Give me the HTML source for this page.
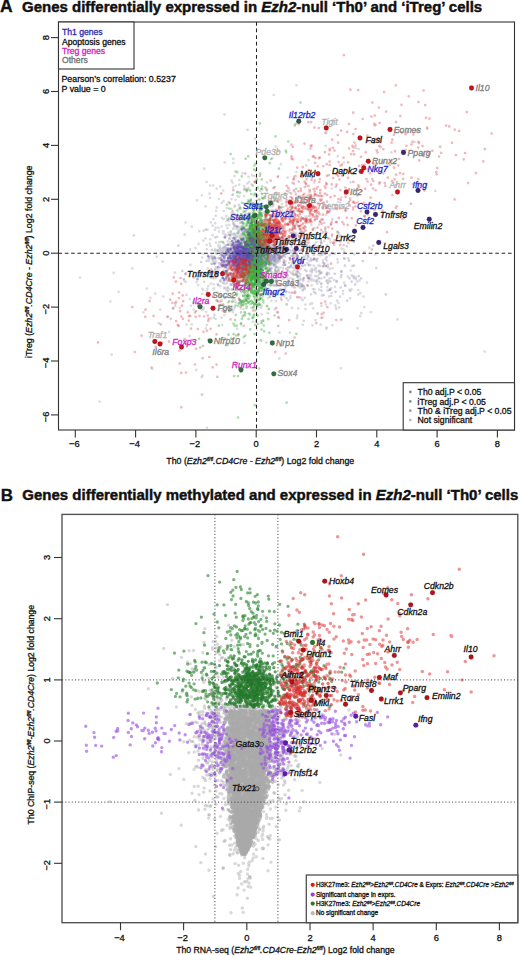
<!DOCTYPE html><html><head><meta charset="utf-8"><style>html,body{margin:0;padding:0;background:#fff;overflow:hidden}svg{display:block}text{font-family:"Liberation Sans",sans-serif;stroke-width:0.3px}</style></head><body><svg width="520" height="955" viewBox="0 0 520 955" font-family="Liberation Sans, sans-serif">
<rect width="520" height="955" fill="#fff"/>
<text x="0" y="12.2" font-size="17.5" font-weight="bold" fill="#111" stroke="#111">A</text>
<text x="22" y="11.7" font-size="15" font-weight="bold" style="stroke-width:0.45px" fill="#111" stroke="#111">Genes differentially expressed in <tspan font-style="italic">Ezh2</tspan>-null ‘Th0’ and ‘iTreg’ cells</text>
<text x="0.8" y="500.5" font-size="17" font-weight="bold" fill="#111" stroke="#111">B</text>
<text x="22.3" y="500.3" font-size="15" font-weight="bold" style="stroke-width:0.45px" fill="#111" stroke="#111">Genes differentially methylated and expressed in <tspan font-style="italic">Ezh2</tspan>-null ‘Th0’ cells</text>
<path d="M270.1 269.1h0M293.2 251.8h0M260.1 239.5h0M239.2 273.6h0M259.6 264.3h0M234.8 300.3h0M228.6 253.3h0M258.0 223.1h0M319.0 224.6h0M266.9 247.1h0M246.0 249.8h0M255.3 234.1h0M224.0 279.4h0M252.5 286.0h0M331.2 296.0h0M237.6 192.2h0M319.2 289.5h0M325.2 234.9h0M362.6 170.1h0M249.0 229.5h0M201.7 377.1h0M240.8 259.2h0M266.1 216.5h0M277.8 273.6h0M287.7 278.6h0M258.3 244.4h0M300.3 287.7h0M216.3 275.9h0M247.3 183.5h0M299.5 226.7h0M268.0 293.6h0M236.8 250.4h0M271.3 255.2h0M253.8 254.8h0M312.0 280.6h0M189.6 336.1h0M305.4 309.1h0M254.9 259.8h0M206.9 427.9h0M219.2 247.7h0M304.7 257.5h0M241.4 233.8h0M244.2 276.3h0M226.8 248.7h0M318.7 278.4h0M260.2 231.1h0M291.9 250.5h0M236.1 251.7h0M316.2 281.5h0M288.6 267.4h0M235.2 269.2h0M167.7 317.1h0M232.9 283.9h0M259.8 288.2h0M244.5 342.9h0M229.1 256.6h0M228.3 255.7h0M247.5 257.7h0M298.0 257.5h0M223.5 251.3h0M352.3 266.1h0M332.3 252.9h0M248.8 276.0h0M243.9 249.6h0M295.0 191.8h0M217.5 292.5h0M241.0 265.6h0M266.0 272.6h0M236.2 265.4h0M234.5 245.7h0M265.0 237.7h0M211.5 263.8h0M239.6 257.7h0M296.1 222.0h0M341.3 271.7h0M254.2 253.2h0M238.4 284.1h0M110.4 301.5h0M263.6 255.5h0M391.3 152.4h0M242.8 261.1h0M275.4 248.8h0M223.2 190.5h0M248.5 268.4h0M245.3 223.8h0M235.0 238.1h0M237.3 249.0h0M309.7 247.0h0M296.4 85.3h0M281.6 247.7h0M306.2 253.5h0M263.6 250.0h0M231.3 245.8h0M240.6 256.3h0M284.1 262.8h0M358.6 149.0h0M245.7 267.2h0M340.8 368.3h0M265.4 226.1h0M260.2 248.0h0M270.1 248.9h0M241.0 253.0h0M282.0 228.0h0M224.7 234.7h0M261.3 264.5h0M256.0 229.0h0M244.1 196.0h0M266.4 231.6h0M218.1 245.4h0M299.0 217.1h0M243.8 276.8h0M234.9 301.7h0M318.5 254.5h0M234.4 226.9h0M228.0 280.3h0M255.6 275.9h0M276.3 271.1h0M266.9 190.7h0M234.3 264.8h0M203.3 240.6h0M206.8 325.0h0M222.4 262.5h0M246.1 263.0h0M246.1 253.4h0M245.8 280.4h0M203.2 289.8h0M285.3 217.6h0M240.3 246.6h0M252.1 257.6h0M277.4 214.7h0M245.3 282.3h0M261.8 277.4h0M253.3 257.3h0M247.7 230.8h0M233.6 299.2h0M289.6 267.6h0M238.0 217.2h0M195.4 248.0h0M301.7 248.5h0M290.9 223.1h0M260.3 258.0h0M333.2 170.8h0M250.4 263.4h0M247.5 262.9h0M211.6 258.0h0M305.7 255.1h0M267.5 271.9h0M241.0 234.9h0M296.4 234.9h0M227.9 278.0h0M282.8 197.0h0M241.4 246.2h0M251.8 276.1h0M227.4 266.2h0M269.3 221.2h0M254.3 271.3h0M301.3 285.2h0M231.2 284.5h0M284.1 296.3h0M225.8 250.1h0M278.1 257.3h0M271.6 285.2h0M238.7 249.9h0M281.9 276.7h0M205.6 206.4h0M321.3 278.5h0M229.8 274.2h0M311.8 278.9h0M297.6 271.7h0M262.0 251.6h0M251.9 278.1h0M267.2 262.5h0M321.4 283.3h0M203.6 309.2h0M269.4 244.2h0M290.7 252.3h0M244.9 249.1h0M260.6 271.9h0M274.8 264.7h0M249.4 214.7h0M260.7 256.3h0M273.7 256.8h0M257.8 243.2h0M240.0 280.4h0M202.4 257.5h0M254.0 234.7h0M284.9 193.2h0M241.7 251.0h0M246.0 210.9h0M234.2 249.5h0M296.7 274.1h0M236.9 278.8h0M272.1 262.6h0M256.3 228.9h0M268.7 242.0h0M263.3 320.8h0M258.8 235.6h0M213.4 219.0h0M236.6 249.5h0M254.3 264.2h0M255.5 246.4h0M263.3 237.3h0M225.2 273.9h0M293.7 257.6h0M278.6 260.5h0M230.0 273.7h0M249.0 229.3h0M272.5 227.9h0M259.0 249.2h0M264.7 284.3h0M343.9 162.5h0M259.6 271.8h0M237.2 215.9h0M292.3 198.4h0M210.7 256.8h0M279.9 257.4h0M232.8 252.8h0M337.5 259.4h0M281.8 247.0h0M320.7 324.7h0M261.5 260.4h0M252.6 219.0h0M250.0 271.8h0M290.0 332.7h0M222.2 274.3h0M235.1 250.8h0M211.1 271.3h0M270.8 219.9h0M358.3 294.5h0M273.8 285.6h0M257.4 265.3h0M258.6 236.4h0M330.2 289.7h0M256.2 273.5h0M255.9 256.0h0M302.0 207.9h0M214.0 262.7h0M256.7 272.8h0M218.8 258.7h0M335.4 305.3h0M225.6 272.2h0M282.1 242.6h0M99.5 401.5h0M260.9 235.7h0M318.3 265.6h0M297.1 275.6h0M266.4 269.0h0M244.8 248.2h0M239.0 241.0h0M290.3 266.8h0M280.9 297.6h0M367.0 282.6h0M261.0 220.5h0M263.8 250.3h0M326.6 327.5h0M245.5 273.6h0M246.0 257.0h0M246.3 266.7h0M268.8 281.2h0M268.0 244.1h0M239.7 244.1h0M225.7 271.9h0M203.8 307.5h0M231.6 180.7h0M435.3 190.9h0M239.3 235.9h0M250.0 249.5h0M252.6 217.2h0M294.8 265.8h0M278.2 176.0h0M253.2 252.9h0M235.2 279.1h0M234.1 286.3h0M263.0 277.9h0M249.5 225.9h0M229.1 218.9h0M239.9 247.1h0M232.5 182.6h0M242.8 251.9h0M225.2 265.3h0M231.8 257.5h0M249.1 264.6h0M248.4 220.4h0M298.0 286.2h0M276.6 250.7h0M272.6 272.6h0M219.7 245.9h0M293.1 285.0h0M172.9 308.7h0M292.7 225.9h0M241.0 239.4h0M292.1 197.8h0M245.4 218.8h0M331.9 236.3h0M235.3 237.7h0M269.5 243.5h0M278.7 222.6h0M231.6 249.8h0M243.4 315.1h0M340.9 277.2h0M233.5 260.6h0M227.9 268.0h0M326.9 273.9h0M294.9 266.9h0M243.3 258.5h0M281.8 218.5h0M240.2 277.4h0M252.0 259.8h0M118.6 291.8h0M239.8 252.3h0M290.4 260.0h0M306.3 244.5h0M338.1 232.4h0M226.3 260.9h0M266.4 254.0h0M210.4 277.0h0M355.8 277.6h0M295.1 291.3h0M264.6 260.3h0M277.7 255.6h0M265.4 239.7h0M235.2 255.4h0M213.6 284.3h0M188.6 253.0h0M248.1 290.1h0M275.8 146.6h0M394.9 162.6h0M232.6 276.5h0M215.8 266.8h0M225.4 297.2h0M225.0 247.4h0M321.2 243.2h0M297.6 277.3h0M274.9 260.9h0M274.3 255.1h0M326.4 281.1h0M263.5 255.8h0M253.2 257.5h0M275.9 248.0h0M271.0 248.8h0M255.9 257.5h0M294.1 266.4h0M350.3 291.0h0M262.5 262.0h0M268.6 256.4h0M214.5 314.7h0M325.4 231.0h0M268.8 248.9h0M227.5 228.2h0M243.2 295.9h0M252.6 245.1h0M221.3 250.1h0M314.5 289.4h0M329.6 238.9h0M292.9 268.0h0M169.2 331.9h0M272.3 158.1h0M270.6 219.7h0M225.1 247.8h0M253.8 247.8h0M234.8 255.4h0M278.4 248.8h0M278.4 229.2h0M224.5 260.3h0M239.2 277.6h0M265.1 260.0h0M257.3 261.1h0M258.1 240.6h0M359.5 280.4h0M244.6 230.7h0M245.9 246.5h0M258.6 241.5h0M256.8 269.7h0M222.7 248.6h0M237.2 290.7h0M233.8 274.1h0M253.8 291.2h0M237.5 196.1h0M249.4 213.7h0M269.5 269.2h0M275.6 256.4h0M236.6 247.1h0M281.9 203.8h0M238.7 204.9h0M236.8 248.5h0M235.6 199.8h0M276.5 281.5h0M235.6 302.5h0M231.7 278.2h0M239.3 196.7h0M235.8 254.0h0M269.0 241.7h0M212.7 225.7h0M221.0 260.1h0M321.5 306.0h0M226.8 221.0h0M250.4 264.9h0M202.4 288.8h0M210.0 197.8h0M236.3 275.9h0M261.6 250.9h0M230.7 266.1h0M233.8 214.1h0M255.5 250.6h0M233.9 227.3h0M284.0 289.5h0M243.6 280.7h0M249.4 279.8h0M220.7 255.3h0M246.5 299.7h0M329.8 268.9h0M226.5 225.3h0M222.6 259.9h0M229.9 237.2h0M320.5 255.4h0M242.2 222.2h0M343.6 249.5h0M251.7 202.5h0M342.9 294.0h0M269.2 245.1h0M269.8 222.4h0M235.5 185.8h0M267.0 182.3h0M287.7 248.3h0M222.7 282.7h0M240.9 222.0h0M247.9 200.2h0M216.9 267.7h0M303.8 320.9h0M353.6 278.1h0M299.8 284.5h0M260.6 246.5h0M224.8 261.5h0M335.0 286.8h0M252.3 240.5h0M260.9 321.4h0M240.2 255.7h0M235.8 265.8h0M223.5 281.8h0M277.6 254.5h0M314.7 244.4h0M231.2 217.7h0M354.5 254.4h0M307.1 285.0h0M266.6 227.4h0M255.7 236.6h0M276.0 247.9h0M266.0 231.6h0M288.7 238.2h0M242.3 265.7h0M244.2 279.0h0M267.4 278.9h0M221.7 249.3h0M267.2 247.0h0M274.7 249.9h0M277.9 273.8h0M257.1 224.0h0M292.9 254.2h0M252.4 253.7h0M250.4 238.4h0M222.0 325.1h0M254.2 232.8h0M252.3 249.0h0M229.8 238.6h0M277.6 237.1h0M240.2 246.0h0M254.6 272.2h0M216.5 300.3h0M250.4 277.8h0M250.5 256.6h0M295.7 201.0h0M234.9 253.7h0M224.1 261.6h0M271.6 238.1h0M325.7 145.9h0M293.4 227.2h0M254.6 222.9h0M244.5 269.8h0M303.2 278.8h0M244.0 265.6h0M261.4 263.2h0M150.4 297.8h0M262.9 245.4h0" stroke="#9a9aaa" stroke-opacity="0.36" stroke-width="2.70" stroke-linecap="round" fill="none"/>
<path d="M257.1 230.2h0M211.9 255.8h0M287.0 276.0h0M339.2 236.6h0M269.2 246.8h0M296.2 232.8h0M274.1 198.1h0M337.9 202.0h0M257.0 247.1h0M245.2 246.8h0M305.5 304.6h0M237.9 243.8h0M295.5 207.6h0M296.2 272.3h0M231.5 213.3h0M258.5 246.8h0M268.1 285.0h0M250.1 239.5h0M250.3 240.1h0M261.0 275.3h0M229.1 274.0h0M263.8 253.7h0M276.0 239.3h0M247.7 256.2h0M236.3 235.6h0M274.5 254.0h0M185.6 281.9h0M211.0 276.3h0M239.1 231.2h0M111.7 354.7h0M216.1 274.1h0M240.5 301.8h0M300.8 279.4h0M262.1 270.1h0M290.2 222.3h0M246.3 246.3h0M215.2 223.2h0M270.2 232.1h0M244.8 258.9h0M260.3 257.6h0M297.8 256.1h0M235.7 226.0h0M283.8 245.0h0M270.8 249.5h0M230.7 259.1h0M220.2 248.2h0M258.8 251.3h0M225.4 284.0h0M239.0 217.5h0M246.0 260.0h0M302.8 324.8h0M240.9 251.9h0M241.6 255.0h0M300.3 232.3h0M229.4 238.9h0M251.5 263.2h0M238.7 270.8h0M246.9 275.8h0M272.3 219.6h0M265.3 253.4h0M284.1 248.0h0M308.4 256.3h0M245.9 248.0h0M233.2 222.2h0M298.7 235.3h0M227.7 274.0h0M484.6 351.6h0M242.3 240.9h0M206.1 311.9h0M239.2 268.7h0M224.7 267.0h0M206.7 182.0h0M213.6 256.9h0M193.6 309.5h0M239.1 256.4h0M270.5 210.7h0M273.5 263.3h0M260.8 308.0h0M275.8 231.1h0M230.7 274.3h0M249.9 265.4h0M247.3 250.6h0M325.7 214.9h0M248.8 255.3h0M227.7 291.3h0M242.2 252.0h0M263.4 293.4h0M253.2 285.8h0M333.3 254.0h0M245.4 258.1h0M272.7 212.3h0M249.1 250.4h0M261.9 242.3h0M260.3 253.1h0M268.8 219.8h0M305.8 227.1h0M238.8 248.4h0M304.5 288.8h0M224.1 287.9h0M225.5 255.4h0M204.8 276.0h0M265.5 234.8h0M240.3 290.1h0M306.5 241.8h0M236.9 250.3h0M257.1 255.2h0M271.5 284.7h0M298.9 236.8h0M273.7 239.5h0M252.9 270.8h0M277.9 259.1h0M243.1 259.1h0M240.3 303.2h0M323.0 260.3h0M224.5 257.2h0M226.8 208.1h0M234.4 290.4h0M362.5 222.8h0M280.5 246.3h0M250.9 268.6h0M318.7 271.3h0M273.6 226.4h0M303.7 232.4h0M248.4 237.6h0M237.7 247.6h0M254.7 272.6h0M263.5 265.4h0M260.8 222.4h0M321.6 272.9h0M219.0 305.3h0M189.9 272.8h0M325.0 253.9h0M393.8 211.5h0M244.9 255.6h0M246.2 276.2h0M179.8 307.8h0M237.6 266.8h0M277.3 231.7h0M268.2 267.4h0M236.5 269.4h0M321.5 272.5h0M321.2 242.6h0M283.1 268.3h0M301.2 297.9h0M302.8 262.5h0M259.3 290.2h0M308.5 265.1h0M300.5 242.1h0M158.7 323.1h0M280.8 164.2h0M274.2 285.4h0M297.8 275.8h0M357.6 328.3h0M263.7 251.7h0M262.9 241.0h0M184.7 234.7h0M249.0 289.3h0M226.3 270.8h0M251.5 246.6h0M244.0 250.7h0M249.0 182.1h0M268.7 232.4h0M235.3 214.0h0M216.7 188.6h0M264.5 248.6h0M269.8 294.2h0M236.0 245.7h0M274.8 245.2h0M286.5 291.9h0M220.1 280.8h0M261.0 279.3h0M232.9 280.3h0M260.1 213.2h0M262.7 267.1h0M217.9 250.7h0M238.3 244.4h0M292.9 241.4h0M282.5 218.6h0M270.4 260.5h0M348.0 258.4h0M251.2 262.7h0M329.0 273.7h0M263.8 233.8h0M228.8 252.9h0M155.2 293.6h0M241.4 246.2h0M216.8 207.4h0M327.9 264.7h0M239.8 206.7h0M285.2 249.7h0M223.5 201.2h0M268.2 256.1h0M254.4 229.5h0M243.0 282.1h0M224.1 283.3h0M258.6 221.6h0M280.1 245.2h0M260.8 238.9h0M251.0 274.6h0M210.9 318.5h0M312.9 289.1h0M232.0 259.5h0M251.7 233.8h0M258.2 306.5h0M276.1 239.4h0M232.3 195.0h0M285.0 264.7h0M215.4 249.3h0M246.8 264.0h0M274.0 241.2h0M234.3 224.9h0M274.8 255.3h0M273.3 264.5h0M238.2 261.2h0M239.2 184.7h0M203.4 253.8h0M243.3 268.5h0M230.8 260.6h0M225.4 248.7h0M329.3 281.0h0M241.1 269.7h0M289.0 238.7h0M322.8 203.4h0M175.0 272.7h0M276.1 300.9h0M252.1 267.2h0M251.1 220.5h0M245.9 229.3h0M270.2 206.3h0M261.3 244.0h0M211.2 277.8h0M252.5 218.4h0M295.1 251.9h0M239.2 208.5h0M281.0 208.0h0M302.5 284.8h0M261.7 261.2h0M229.1 259.8h0M227.0 271.1h0M278.2 258.2h0M337.6 232.1h0M221.7 226.5h0M197.0 200.3h0M221.2 241.9h0M278.0 317.4h0M272.1 279.4h0M289.0 262.9h0M243.3 256.2h0M360.1 316.2h0M233.5 265.2h0M236.5 266.9h0M251.9 262.7h0M239.0 253.4h0M227.7 280.4h0M260.3 237.8h0M296.9 254.4h0M281.5 237.4h0M266.9 242.1h0M236.9 235.3h0M268.0 242.5h0M313.9 292.0h0M269.1 288.7h0M317.8 250.4h0M292.4 262.3h0M331.3 288.0h0M245.2 265.3h0M241.5 235.7h0M234.4 176.1h0M269.2 262.3h0M307.3 220.6h0M290.0 232.8h0M275.3 193.6h0M237.9 278.8h0M243.1 247.5h0M191.8 226.7h0M293.9 210.8h0M253.1 233.5h0M319.2 281.8h0M329.2 296.4h0M302.9 289.5h0M223.1 233.0h0M288.5 230.6h0M274.4 250.3h0M261.8 248.7h0M284.8 232.7h0M216.1 242.6h0M234.1 283.7h0M210.2 239.3h0M235.8 258.8h0M243.1 266.2h0M267.8 313.2h0M244.1 229.1h0M320.1 265.8h0M249.5 256.0h0M255.8 242.5h0M260.1 237.9h0M270.8 239.7h0M222.2 255.1h0M227.3 260.6h0M267.4 259.2h0M248.8 234.1h0M240.3 242.7h0M270.1 248.3h0M235.6 248.5h0M238.7 272.1h0M212.7 277.7h0M220.8 255.5h0M156.8 256.7h0M233.9 282.8h0M290.1 215.5h0M223.6 219.0h0M213.9 317.4h0M247.0 250.8h0M266.4 342.6h0M247.7 268.2h0M243.7 238.0h0M237.8 251.0h0M244.4 269.0h0M261.1 267.8h0M231.6 266.8h0M252.7 258.0h0M240.8 257.4h0M311.4 224.8h0M245.6 259.4h0M228.0 250.4h0M240.7 252.0h0M233.0 272.3h0M246.2 251.7h0M257.5 255.1h0M259.4 231.2h0M427.2 128.8h0M347.9 276.5h0M285.4 242.4h0M267.0 233.8h0M293.1 249.7h0M241.9 245.4h0M228.6 202.1h0M252.8 249.4h0M223.1 231.1h0M364.3 307.0h0M254.2 240.1h0M296.0 239.0h0M302.7 286.1h0M234.0 224.8h0M243.6 256.4h0M288.2 282.1h0M231.1 284.8h0M214.2 288.4h0M273.6 235.8h0M245.1 267.4h0M234.8 251.5h0M254.3 268.6h0M263.2 296.5h0M261.9 266.2h0M249.4 276.0h0M274.3 223.4h0M282.0 250.6h0M281.0 200.4h0M267.1 249.6h0M235.0 252.2h0M289.1 211.1h0M210.3 185.5h0M264.3 222.3h0M269.3 258.6h0M324.4 240.9h0M244.7 215.9h0M278.9 206.2h0M283.8 262.3h0M242.7 238.8h0M250.8 274.7h0M260.4 252.7h0M256.8 247.9h0M252.8 259.1h0M220.0 250.9h0M207.4 229.7h0M255.0 250.3h0M264.4 264.5h0M272.5 244.4h0M255.6 254.4h0M263.3 238.7h0M270.4 240.0h0M230.3 310.9h0M250.6 234.5h0M275.2 233.2h0M277.6 243.2h0M283.7 255.4h0M208.8 257.0h0M317.6 313.3h0M344.1 282.7h0M339.1 307.4h0M282.1 210.5h0M252.5 251.7h0M215.6 253.1h0M243.0 271.5h0M236.6 255.4h0M302.9 219.3h0M309.5 198.4h0M270.4 215.4h0M289.4 224.7h0M238.0 280.6h0M244.0 186.0h0M239.5 249.2h0M255.2 253.1h0M258.7 257.6h0M240.6 308.3h0M243.3 253.2h0M330.2 289.2h0M242.0 227.4h0M269.8 262.5h0M212.0 264.2h0M281.4 244.6h0M247.5 245.1h0M242.6 173.3h0M258.5 291.6h0M257.3 277.8h0M219.7 250.2h0M249.9 273.9h0M266.3 264.0h0M245.3 247.4h0M241.5 255.8h0M315.4 320.1h0M247.5 239.5h0M289.2 292.4h0M294.4 240.0h0M275.3 267.6h0M326.9 260.6h0M334.2 280.1h0M248.6 188.1h0M363.4 296.6h0M261.6 314.3h0M290.5 278.0h0M276.6 281.8h0M227.7 241.3h0M249.6 249.5h0M227.3 279.5h0M280.7 267.5h0M332.4 268.3h0M259.9 217.7h0M234.6 206.8h0M261.6 242.3h0M259.9 204.9h0M244.7 250.9h0M243.3 251.4h0M275.2 223.2h0M264.8 252.4h0M228.9 220.6h0M265.3 268.5h0M241.7 250.0h0M306.0 183.5h0M230.0 266.1h0M210.8 222.3h0M257.5 242.5h0M286.0 252.1h0M237.5 220.9h0M213.5 288.9h0M240.2 285.4h0M271.7 238.3h0M292.6 230.2h0M229.9 256.8h0M291.1 265.6h0M235.3 267.1h0M349.3 289.8h0M262.3 241.8h0M247.4 246.5h0M250.9 277.9h0M316.1 271.8h0M223.7 231.4h0M228.6 264.7h0M233.0 187.5h0M277.3 223.6h0M223.0 247.8h0M272.8 228.6h0M252.7 321.8h0M245.1 264.6h0M191.7 324.4h0M240.7 250.8h0M201.9 195.5h0M271.4 201.1h0M333.6 209.3h0M260.7 256.0h0M239.3 180.1h0M337.2 237.8h0M282.7 290.5h0" stroke="#9a9aaa" stroke-opacity="0.36" stroke-width="2.70" stroke-linecap="round" fill="none"/>
<path d="M233.2 223.5h0M309.4 278.5h0M301.3 286.7h0M257.9 240.3h0M345.0 285.5h0M261.5 237.8h0M268.1 281.8h0M241.0 271.3h0M235.4 251.4h0M249.1 243.0h0M337.8 156.2h0M303.5 256.8h0M262.9 262.8h0M252.6 264.2h0M233.8 270.9h0M231.4 263.6h0M278.9 269.5h0M241.6 214.5h0M270.6 232.6h0M249.5 255.4h0M255.9 194.3h0M276.8 254.1h0M255.4 250.2h0M256.1 239.3h0M216.6 250.5h0M233.8 259.3h0M224.8 162.4h0M202.2 309.8h0M280.1 289.5h0M294.7 214.7h0M275.6 248.7h0M245.8 242.4h0M247.3 258.0h0M258.7 238.0h0M261.7 260.2h0M336.5 281.1h0M263.2 251.8h0M260.8 265.9h0M340.0 296.7h0M259.4 250.8h0M272.6 206.5h0M259.9 257.8h0M163.3 296.5h0M261.5 274.1h0M254.0 236.7h0M263.7 249.7h0M338.8 233.4h0M292.8 273.2h0M281.2 247.5h0M233.0 247.8h0M251.3 225.7h0M248.5 244.6h0M276.8 285.2h0M247.7 261.9h0M252.2 175.2h0M264.8 261.2h0M235.5 284.3h0M226.7 265.7h0M209.5 193.7h0M287.5 177.7h0M336.0 307.9h0M259.8 268.9h0M225.8 279.2h0M226.8 254.3h0M274.6 309.4h0M258.2 249.2h0M237.2 258.1h0M263.4 262.5h0M272.4 250.6h0M205.5 238.3h0M320.0 221.3h0M284.8 239.4h0M241.2 265.1h0M316.8 215.1h0M302.0 261.9h0M225.7 245.3h0M248.1 287.6h0M242.5 244.4h0M279.8 254.9h0M272.2 279.2h0M257.3 258.3h0M280.6 346.0h0M241.2 257.4h0M256.4 248.5h0M223.8 243.3h0M222.2 253.5h0M228.5 244.6h0M272.8 210.1h0M250.6 235.9h0M244.8 258.2h0M210.5 245.9h0M275.7 252.2h0M267.5 233.9h0M283.0 256.1h0M248.4 257.6h0M243.8 243.0h0M309.0 275.1h0M292.8 263.2h0M261.7 264.3h0M241.5 275.9h0M259.7 271.2h0M261.9 283.7h0M227.6 257.8h0M237.0 248.8h0M233.0 312.2h0M279.9 225.3h0M279.7 241.7h0M268.0 231.8h0M256.9 257.0h0M246.0 255.2h0M393.3 212.5h0M235.7 220.9h0M307.2 245.4h0M240.8 240.5h0M266.3 234.6h0M224.0 297.2h0M256.4 240.2h0M237.7 259.2h0M243.6 251.4h0M286.7 272.8h0M244.0 233.1h0M244.5 238.0h0M184.2 280.4h0M350.7 270.5h0M341.4 197.5h0M319.9 273.5h0M228.0 287.2h0M238.7 231.1h0M310.2 304.2h0M234.0 257.2h0M251.3 260.9h0M260.2 246.7h0M243.0 229.2h0M223.7 211.0h0M350.4 182.3h0M290.4 214.0h0M252.5 245.6h0M293.7 232.1h0M251.5 276.6h0M240.5 241.1h0M255.2 261.2h0M275.4 278.0h0M310.4 260.9h0M269.9 236.4h0M311.9 272.5h0M312.5 325.3h0M217.3 236.8h0M319.3 274.4h0M262.8 275.8h0M301.9 266.1h0M287.1 271.9h0M246.0 249.7h0M242.4 302.7h0M326.2 265.9h0M229.5 267.0h0M263.7 261.6h0M262.1 251.0h0M270.4 281.3h0M291.6 208.0h0M218.6 227.9h0M273.8 235.8h0M271.4 218.3h0M258.9 304.9h0M266.8 293.3h0M226.4 271.7h0M256.9 268.9h0M255.2 262.1h0M297.2 258.0h0M257.7 281.3h0M311.1 294.4h0M329.6 255.3h0M208.9 259.2h0M228.0 302.4h0M249.7 252.9h0M293.9 254.2h0M132.3 268.4h0M314.2 196.5h0M321.3 284.0h0M232.6 250.2h0M255.4 240.6h0M253.3 254.6h0M229.3 278.6h0M292.6 283.6h0M254.8 266.1h0M263.1 228.8h0M291.4 273.3h0M308.5 160.0h0M245.8 287.2h0M267.1 253.5h0M269.3 247.2h0M264.2 212.1h0M246.7 269.1h0M286.6 238.8h0M243.8 280.7h0M241.2 239.8h0M292.6 279.0h0M327.9 282.7h0M254.3 275.1h0M292.4 182.7h0M227.3 296.6h0M253.4 268.4h0M255.5 257.8h0M238.4 243.5h0M237.7 257.8h0M244.3 257.2h0M357.2 281.7h0M201.3 308.7h0M266.4 218.8h0M295.3 251.6h0M241.6 242.4h0M243.9 274.6h0M240.9 275.0h0M249.1 235.0h0M309.6 260.9h0M202.5 375.5h0M241.6 259.8h0M160.2 309.6h0M255.8 248.4h0M186.5 294.9h0M325.8 304.4h0M284.9 236.9h0M205.9 328.4h0M232.5 219.9h0M248.0 246.7h0M255.0 235.8h0M361.3 313.2h0M261.6 305.9h0M247.5 129.9h0M215.8 227.5h0M261.1 237.0h0M259.5 261.7h0M295.9 206.5h0M261.9 255.8h0M253.1 238.9h0M220.5 267.4h0M239.8 216.8h0M237.2 328.7h0M265.2 238.7h0M327.2 280.4h0M215.2 270.2h0M344.2 258.5h0M190.5 264.9h0M311.8 252.6h0M250.7 273.9h0M248.8 285.9h0M281.8 213.3h0M204.2 168.7h0M248.6 239.5h0M189.7 299.1h0M233.8 259.7h0M243.7 255.2h0M271.3 201.2h0M257.7 274.4h0M274.7 292.8h0M259.7 260.7h0M244.8 229.9h0M229.5 289.3h0M264.4 240.0h0M246.8 236.3h0M304.9 269.8h0M230.0 255.5h0M175.3 305.8h0M229.3 224.8h0M245.0 218.5h0M254.3 263.9h0M300.1 283.0h0M230.8 250.7h0M253.6 203.3h0M247.3 232.4h0M263.9 249.7h0M262.7 281.1h0M265.6 225.4h0M231.7 257.7h0M266.6 258.2h0M200.8 274.9h0M240.4 244.9h0M298.2 308.4h0M230.1 258.3h0M253.4 253.5h0M279.3 248.5h0M255.4 285.1h0M213.9 278.4h0M233.3 163.0h0M264.2 196.6h0M330.7 281.5h0M304.3 231.7h0M209.2 261.0h0M233.9 218.9h0M296.6 275.0h0M224.0 273.8h0M255.3 240.5h0M249.5 202.7h0M320.8 318.0h0M269.5 225.8h0M223.1 262.6h0M278.7 238.9h0M331.7 278.0h0M236.5 278.1h0M230.3 241.9h0M257.6 256.1h0M226.1 271.1h0M256.3 238.1h0M258.3 254.6h0M283.5 239.4h0M221.8 203.0h0M232.0 301.8h0M304.1 218.5h0M250.9 280.3h0M259.0 232.0h0M244.8 236.2h0M231.0 248.5h0M233.7 276.9h0M253.7 264.5h0M236.3 262.2h0M214.9 250.8h0M266.3 224.0h0M277.1 252.8h0M276.9 312.1h0M253.4 307.3h0M216.1 272.0h0M268.9 253.1h0M254.0 195.3h0M228.5 232.8h0M208.3 286.0h0M273.9 243.0h0M243.8 235.0h0M245.3 273.3h0M248.7 254.7h0M233.7 285.1h0M293.4 271.3h0M287.4 237.9h0M234.0 242.8h0M285.0 274.6h0M241.8 290.3h0M249.7 264.7h0M281.1 226.6h0M280.6 257.1h0M244.5 303.3h0M281.1 225.7h0M261.1 284.3h0M309.6 198.8h0M260.0 239.2h0M327.2 287.1h0M236.2 241.2h0M204.2 281.9h0M227.0 272.8h0M314.3 280.4h0M249.4 270.1h0M243.5 256.5h0M252.5 235.9h0M258.9 245.1h0M266.8 264.4h0M215.0 229.8h0M240.6 250.4h0M277.8 232.8h0M260.1 270.4h0M341.0 320.1h0M254.9 260.7h0M254.7 257.8h0M273.1 222.7h0M303.4 250.5h0M229.4 255.6h0M213.8 258.6h0M305.1 238.0h0M251.8 223.2h0M231.4 235.0h0M279.5 257.6h0M299.9 260.1h0M248.6 234.0h0M277.9 252.1h0M269.4 278.7h0M209.8 243.6h0M235.1 250.0h0M321.4 243.1h0M286.9 285.9h0M248.8 247.8h0M244.9 254.5h0M293.6 226.2h0M238.5 273.6h0M221.1 296.4h0M256.7 229.4h0M233.3 158.9h0M313.7 270.0h0M234.6 267.5h0M307.6 239.0h0M244.8 257.8h0M277.8 223.5h0M246.5 254.3h0M248.4 298.8h0M212.4 271.0h0M225.4 262.6h0M206.6 245.0h0M284.7 251.4h0M280.0 232.6h0M235.8 258.9h0M297.0 318.2h0M336.4 308.9h0M269.8 249.2h0M307.7 249.2h0M220.2 286.2h0M275.7 281.0h0M332.5 325.2h0M232.0 306.3h0M270.5 240.8h0M228.0 287.4h0M255.6 262.1h0M251.2 216.8h0M206.8 249.3h0M305.3 243.3h0M242.7 252.0h0M252.9 230.1h0M248.9 255.5h0M249.9 289.3h0M264.0 222.4h0M280.7 240.0h0M305.2 243.7h0M317.3 276.0h0M257.8 266.2h0M246.6 238.4h0M216.0 277.9h0M358.3 290.0h0M246.3 279.0h0M397.4 319.4h0M298.0 281.2h0M226.3 216.2h0M228.2 263.5h0M269.3 235.8h0M228.7 260.9h0M331.5 293.1h0M252.3 277.3h0M249.3 252.6h0M277.4 237.5h0M306.6 185.9h0M294.5 269.8h0M213.3 185.5h0M224.3 315.2h0M259.6 224.2h0M234.9 205.7h0M253.4 217.0h0M269.3 264.8h0M246.7 270.9h0M321.3 286.9h0M253.7 253.0h0M236.2 261.1h0M360.3 293.2h0M266.8 268.6h0M232.6 258.0h0M265.0 237.2h0M248.4 229.6h0M248.1 259.7h0M282.9 279.1h0M249.3 257.6h0M248.7 249.9h0M260.3 260.9h0M273.8 95.0h0M311.6 285.4h0M298.7 286.1h0M276.7 232.2h0M235.7 241.3h0M266.8 242.2h0M250.9 200.8h0M257.7 246.7h0M193.3 302.4h0M259.6 280.5h0M338.5 302.8h0M256.8 272.8h0M249.3 239.9h0M214.4 256.8h0M244.1 220.0h0M215.4 259.9h0M236.0 271.7h0M238.8 302.8h0M249.1 239.3h0M210.7 283.6h0M256.2 255.3h0M315.9 259.7h0M261.6 240.0h0M258.7 233.5h0M279.3 358.4h0M270.7 259.5h0M367.9 214.7h0M326.3 328.6h0M243.8 232.0h0" stroke="#9a9aaa" stroke-opacity="0.36" stroke-width="2.70" stroke-linecap="round" fill="none"/>
<path d="M246.7 248.8h0M270.3 227.3h0M250.0 246.3h0M295.1 250.6h0M231.5 199.1h0M198.5 243.8h0M207.4 288.7h0M215.4 262.6h0M258.0 273.0h0M251.1 258.1h0M258.4 240.4h0M314.6 228.1h0M297.7 256.5h0M243.2 275.1h0M330.4 241.5h0M229.2 311.3h0M285.5 261.5h0M254.2 283.8h0M256.8 249.2h0M246.7 274.2h0M305.6 216.6h0M337.1 300.7h0M270.0 251.1h0M246.3 277.8h0M256.7 220.0h0M231.2 244.9h0M279.9 233.8h0M293.4 235.9h0M234.5 224.8h0M199.3 231.2h0M341.4 319.3h0M191.0 305.8h0M301.2 232.7h0M295.4 292.9h0M246.1 260.2h0M288.3 300.5h0M278.3 267.3h0M238.0 229.3h0M216.2 261.9h0M241.2 253.0h0M239.6 261.3h0M240.7 248.3h0M234.5 236.3h0M196.2 369.9h0M253.9 251.3h0M225.0 288.0h0M301.3 217.7h0M260.4 287.4h0M228.2 276.6h0M272.8 250.5h0M268.5 211.9h0M284.7 290.0h0M238.8 297.9h0M241.8 239.9h0M268.6 254.5h0M230.9 255.4h0M236.8 289.4h0M248.3 214.0h0M234.1 267.0h0M245.4 211.7h0M321.0 246.2h0M162.7 261.5h0M231.0 260.9h0M220.2 264.5h0M240.0 253.4h0M355.8 279.2h0M287.1 271.9h0M313.7 250.6h0M257.2 223.6h0M289.0 192.2h0M239.1 252.5h0M259.0 262.9h0M331.9 188.5h0M317.7 313.9h0M291.9 307.9h0M282.3 241.4h0M280.7 289.4h0M285.3 287.6h0M198.1 285.2h0M271.1 251.6h0M247.6 214.3h0M240.2 281.4h0M254.9 262.2h0M275.4 294.4h0M287.5 202.4h0M233.5 309.7h0M242.1 250.3h0M212.4 307.3h0M262.1 207.2h0M305.9 248.3h0M281.4 218.2h0M250.5 242.5h0M227.2 288.0h0M272.5 236.2h0M234.8 260.1h0M239.2 246.8h0M295.0 260.8h0M370.9 312.1h0M239.4 226.7h0M260.7 229.1h0M252.4 248.6h0M260.3 244.2h0M271.6 215.8h0M238.9 233.3h0M202.3 293.9h0M286.6 250.8h0M224.3 247.0h0M238.5 227.7h0M225.4 246.6h0M265.3 242.0h0M282.8 241.6h0M255.2 281.4h0M319.2 278.0h0M252.6 248.2h0M351.5 289.4h0M277.6 268.5h0M246.8 296.2h0M326.5 132.3h0M258.4 237.4h0M303.0 242.0h0M263.2 260.9h0M268.4 256.2h0M259.7 296.6h0M245.6 229.6h0M254.4 255.2h0M229.2 278.1h0M218.7 258.0h0M245.6 254.1h0M300.4 274.4h0M215.7 215.8h0M226.5 264.4h0M288.2 280.8h0M226.1 235.1h0M273.3 282.1h0M296.9 253.8h0M296.6 210.6h0M308.4 281.5h0M254.2 248.6h0M264.3 234.0h0M234.2 275.3h0M248.4 231.8h0M219.0 231.6h0M290.3 271.8h0M218.9 199.0h0M203.5 230.7h0M268.5 256.0h0M250.6 276.6h0M224.3 253.6h0M265.9 217.2h0M282.7 247.8h0M235.6 242.6h0M311.0 275.7h0M221.8 217.9h0M294.9 233.9h0M272.7 235.2h0M201.3 307.0h0M316.2 242.2h0M270.9 272.6h0M276.0 250.6h0M250.9 249.2h0M244.8 241.9h0M284.8 264.8h0M146.8 288.6h0M264.7 250.9h0M216.2 210.8h0M225.5 237.6h0M265.9 277.2h0M225.0 260.6h0M230.6 284.4h0M228.8 218.1h0M276.8 200.9h0M229.9 244.2h0M215.4 268.9h0M258.6 269.6h0M248.2 262.5h0M261.6 294.8h0M301.1 244.3h0M266.3 247.6h0M223.4 261.8h0M258.3 242.5h0M278.6 256.4h0M253.8 262.5h0M337.2 231.5h0M207.7 268.5h0M254.9 275.6h0M308.5 277.4h0M247.7 234.7h0M277.9 224.0h0M260.1 262.7h0M343.1 291.1h0M186.6 324.6h0M259.1 264.2h0M300.1 241.4h0M240.7 250.1h0M250.2 250.3h0M252.9 248.2h0M246.4 234.1h0M152.3 368.8h0M268.2 298.1h0M271.2 300.8h0M240.1 253.6h0M80.0 277.5h0M245.5 240.6h0M231.0 297.4h0M220.8 280.1h0M234.0 237.5h0M217.7 275.9h0M240.0 223.0h0M237.6 255.4h0M246.2 277.1h0M257.5 256.4h0M291.9 239.0h0M293.6 222.5h0M217.7 284.3h0M254.8 216.4h0M259.3 262.1h0M244.6 273.4h0M253.8 254.7h0M258.3 231.9h0M252.3 227.3h0M294.2 234.1h0M265.9 254.9h0M255.0 138.7h0M320.9 241.0h0M247.7 189.6h0M257.7 256.1h0M243.5 226.4h0M309.0 278.0h0M284.7 254.1h0M226.8 290.4h0M241.8 240.2h0M224.0 264.3h0M329.4 278.4h0M290.6 296.2h0M341.4 248.6h0M325.2 253.6h0M247.0 255.4h0M234.7 258.4h0M258.9 228.0h0M265.0 248.6h0M216.9 253.8h0M262.3 189.4h0M223.0 271.8h0M314.1 259.0h0M243.0 236.0h0M310.1 279.6h0M261.1 234.5h0M266.7 220.8h0M278.8 237.3h0M255.4 244.9h0M283.4 207.1h0M233.1 229.1h0M260.2 244.4h0M226.7 235.7h0M236.5 243.8h0M219.0 309.4h0M303.3 218.4h0M265.4 254.0h0M325.4 258.9h0M241.7 249.8h0M252.0 291.7h0M251.5 253.9h0M262.4 243.8h0M252.4 274.0h0M251.5 184.3h0M243.9 236.7h0M231.2 233.6h0M258.5 255.1h0M246.9 264.8h0M244.5 218.0h0M218.5 270.0h0M296.8 257.8h0M248.5 222.8h0M369.4 247.7h0M324.2 263.5h0M313.1 308.3h0M225.9 289.3h0M275.8 274.4h0M212.6 235.2h0M248.3 251.5h0M222.9 257.9h0M304.6 288.2h0M292.3 286.6h0M227.7 255.0h0M317.9 246.3h0M276.8 262.1h0M314.2 182.7h0M255.7 264.5h0M276.4 259.8h0M263.1 256.4h0M253.1 237.2h0M239.9 270.4h0M301.8 284.2h0M254.9 249.2h0M356.0 148.0h0M222.8 266.7h0M247.5 272.8h0M246.2 253.3h0M241.9 253.1h0M252.2 219.4h0M254.7 257.7h0M265.5 252.8h0M250.6 278.2h0M313.7 265.5h0M277.7 250.5h0M262.1 250.1h0M267.9 260.6h0M231.7 248.7h0M270.3 246.2h0M244.7 215.3h0M247.7 239.2h0M265.5 261.0h0M260.2 252.9h0M255.2 258.3h0M185.6 222.5h0M190.2 249.4h0M275.2 226.0h0M207.6 273.4h0M306.2 165.3h0M235.7 262.8h0M201.3 306.3h0M233.0 194.5h0M277.8 262.3h0M204.0 274.8h0M239.1 253.6h0M251.9 253.8h0M414.5 142.0h0M271.0 269.4h0M242.8 281.6h0M236.8 268.3h0M317.7 216.8h0M245.3 246.6h0M224.4 114.3h0M267.7 243.1h0M210.5 272.5h0M299.4 279.5h0M245.9 278.1h0M254.4 176.0h0M234.5 276.9h0M244.9 292.9h0M279.5 332.5h0M236.9 248.2h0M241.6 258.1h0M220.3 186.5h0M225.3 280.0h0M252.7 243.1h0M307.4 263.2h0M113.7 272.8h0M269.4 248.1h0M215.6 319.0h0M233.6 254.1h0M235.8 284.3h0M266.2 277.7h0M302.8 290.4h0M375.3 254.4h0M254.0 228.8h0M244.9 247.1h0M279.9 261.2h0M255.3 264.6h0M290.1 221.4h0M258.3 222.4h0M227.5 273.5h0M306.4 196.6h0M260.1 191.0h0M236.6 251.2h0M250.0 249.2h0M326.8 245.2h0M315.8 269.5h0M254.4 251.5h0M335.3 242.5h0M244.2 247.8h0M245.5 313.6h0M242.5 262.6h0M243.5 309.1h0M258.1 231.9h0M242.3 251.0h0M276.5 267.0h0M269.4 270.6h0M223.3 250.6h0M254.7 224.3h0M256.7 261.5h0M291.1 265.6h0M219.3 242.3h0M321.8 295.4h0M288.4 267.2h0M250.7 204.0h0M264.9 265.5h0M246.7 245.1h0M302.7 266.0h0M249.0 253.6h0M299.9 276.3h0M306.2 239.8h0M272.9 203.3h0M251.4 307.9h0M243.2 232.1h0M249.8 226.2h0M258.9 249.4h0M296.8 215.5h0M213.0 261.6h0M327.8 283.4h0M238.8 255.4h0M236.5 228.8h0M231.5 209.2h0M275.2 281.2h0M236.3 244.2h0M225.1 298.2h0M278.7 283.6h0M282.4 237.6h0M232.7 238.0h0M277.0 217.2h0M233.6 243.2h0M234.9 264.6h0M289.4 190.2h0M206.7 291.4h0M203.1 276.4h0M265.1 196.9h0M221.4 317.6h0M221.8 300.2h0M282.2 274.7h0M241.2 226.4h0M227.0 282.7h0M330.4 242.4h0M274.5 227.7h0M251.4 277.9h0M304.8 297.8h0M245.0 188.2h0M286.1 214.4h0M251.6 262.5h0M262.6 259.3h0M350.1 298.2h0M143.4 312.4h0M232.2 218.8h0M245.4 250.9h0M266.5 253.8h0M239.8 257.9h0M266.2 260.9h0M264.2 242.3h0M266.3 257.2h0M297.3 315.7h0M276.0 198.9h0M243.9 234.4h0M254.9 268.4h0M312.2 303.4h0M311.8 268.7h0M254.2 253.2h0M251.3 212.5h0M290.8 267.0h0M265.2 260.9h0M258.9 249.3h0M330.7 303.3h0M275.0 247.1h0M256.5 241.7h0M255.1 293.4h0M260.1 256.3h0M221.9 300.9h0M196.6 282.1h0M262.6 269.7h0M270.7 250.6h0M244.2 203.4h0M229.6 262.4h0M290.3 298.2h0M296.4 172.1h0M271.5 223.9h0M220.2 281.2h0M227.3 289.9h0M253.9 240.1h0M317.2 283.7h0M258.8 232.6h0M288.0 275.6h0M304.3 246.6h0M247.9 252.6h0M245.7 245.0h0M241.3 256.8h0M239.6 237.6h0M248.0 228.6h0M237.4 237.0h0M224.8 311.4h0M258.3 218.0h0M248.5 176.9h0M306.7 216.9h0M299.5 228.5h0M243.1 300.2h0M246.0 214.1h0" stroke="#9a9aaa" stroke-opacity="0.36" stroke-width="2.70" stroke-linecap="round" fill="none"/>
<path d="M257.2 276.0h0M235.3 239.6h0M244.6 258.1h0M252.8 249.2h0M249.7 265.5h0M261.5 245.1h0M263.0 246.7h0M251.1 236.5h0M246.6 189.8h0M248.0 259.9h0M258.5 263.0h0M256.6 219.3h0M265.0 234.1h0M251.4 232.1h0M260.6 243.4h0M258.4 231.1h0M248.9 213.9h0M250.4 226.2h0M262.8 263.3h0M262.0 232.4h0M252.1 246.6h0M255.7 249.9h0M252.7 255.4h0M244.0 242.1h0M245.7 283.2h0M263.1 198.4h0M240.2 266.7h0M256.3 255.4h0M253.2 265.4h0M250.6 268.1h0M257.5 254.8h0M248.4 221.7h0M256.6 291.8h0M261.5 255.3h0M256.7 226.9h0M263.6 249.3h0M258.1 255.0h0M260.5 256.5h0M260.5 271.7h0M256.4 256.0h0M253.5 246.3h0M250.6 281.9h0M258.2 264.1h0M257.4 253.2h0M260.1 257.5h0M256.7 266.8h0M252.6 225.9h0M252.4 265.1h0M263.4 261.4h0M249.1 221.0h0M245.2 271.8h0M251.5 221.2h0M256.8 259.7h0M264.4 240.8h0M256.3 269.0h0M252.9 203.8h0M252.1 249.5h0M247.3 249.1h0M250.9 259.3h0M258.7 239.6h0M251.0 263.0h0M264.2 246.2h0M253.9 251.9h0M258.7 254.4h0M251.1 249.1h0M250.0 273.5h0M252.2 258.6h0M245.7 247.5h0M252.3 248.5h0M259.0 291.3h0M256.4 243.1h0M258.9 254.2h0M257.8 235.5h0M250.6 242.9h0M254.7 283.5h0M251.4 223.1h0M263.7 206.7h0M266.0 241.4h0M254.2 256.8h0M249.5 228.9h0M264.1 246.9h0M252.6 277.9h0M244.2 246.4h0M271.0 217.5h0M247.3 284.5h0M256.6 269.0h0M245.1 232.1h0M254.4 241.2h0M255.0 249.1h0M250.8 199.6h0M260.6 233.0h0M262.4 228.0h0M258.2 236.3h0M255.4 263.7h0M271.2 236.6h0M249.0 230.1h0M256.8 305.1h0M263.7 273.4h0M256.1 255.8h0M260.5 209.5h0M258.4 227.6h0M255.0 276.1h0M248.4 229.5h0M254.4 259.1h0M257.5 233.2h0M251.9 250.2h0M256.2 278.3h0M258.6 246.4h0M255.1 270.0h0M249.0 239.8h0M261.1 206.4h0M251.8 251.7h0M255.1 272.5h0M256.3 256.6h0M247.4 252.8h0M262.3 235.4h0M261.4 261.3h0M251.5 258.0h0M252.2 259.9h0M252.9 241.5h0M243.0 217.7h0M251.9 282.8h0M245.9 262.1h0M257.6 275.8h0M251.7 228.4h0M257.3 279.5h0M256.9 244.3h0M257.8 240.0h0M243.4 262.5h0M255.7 252.9h0M253.4 263.8h0M252.8 263.0h0M266.6 239.9h0M257.2 258.0h0M260.4 240.5h0M252.5 266.9h0M254.0 235.4h0M252.4 249.8h0M265.9 227.2h0M253.2 262.0h0M250.9 246.5h0M254.0 257.4h0M258.9 226.0h0M247.4 255.3h0M256.2 235.2h0M244.9 269.2h0M255.3 251.6h0M256.8 179.6h0M261.9 275.0h0M258.2 251.9h0M259.1 260.4h0M263.8 256.5h0M246.7 245.0h0M246.9 241.1h0M261.8 288.6h0M262.8 252.4h0M255.5 235.2h0M249.8 260.0h0M260.4 234.5h0M250.0 253.7h0M252.8 226.9h0M258.7 259.1h0M252.9 249.0h0M258.8 243.2h0M261.0 240.4h0M255.5 279.2h0M265.4 228.0h0M248.6 246.7h0M244.0 253.1h0M254.1 238.9h0M257.0 250.0h0M256.6 253.5h0M251.8 250.3h0M251.7 261.2h0M244.1 261.7h0M249.4 239.4h0M251.3 252.5h0M253.1 262.9h0M252.8 257.8h0M250.0 239.8h0M254.7 255.1h0M253.2 256.0h0M258.6 226.6h0M256.0 272.4h0M254.6 231.6h0M251.7 238.4h0M253.8 249.6h0M261.1 227.5h0M253.9 206.1h0M251.9 252.2h0M242.0 222.4h0M254.5 250.1h0M257.6 225.1h0M254.0 251.3h0M266.3 224.5h0M255.5 245.6h0M252.1 275.6h0M250.7 248.9h0M253.5 264.1h0M252.8 261.8h0M264.0 276.9h0M256.9 271.0h0M253.4 293.4h0M252.9 240.2h0M247.2 266.8h0M252.2 244.0h0M256.4 279.0h0M236.5 295.2h0M244.8 246.7h0M254.6 273.5h0M255.0 254.3h0M261.2 246.6h0M245.1 295.4h0M260.2 245.9h0M253.9 314.9h0M262.1 264.0h0M258.7 234.3h0M251.4 300.9h0M266.5 260.8h0M259.9 258.1h0M253.1 257.7h0M268.9 224.2h0M252.1 248.6h0M264.7 227.6h0M248.5 283.1h0M253.0 275.6h0M255.4 253.7h0M255.1 251.8h0M251.5 279.2h0M252.6 260.6h0M260.0 254.7h0M255.7 268.9h0M256.8 241.2h0M254.6 289.8h0M241.3 273.8h0M253.8 229.6h0M254.6 275.9h0M244.5 276.6h0M258.6 247.5h0M255.6 256.0h0M255.1 249.0h0M255.4 245.2h0M249.4 254.1h0M259.9 248.8h0M258.8 258.2h0M253.2 258.5h0M255.7 250.1h0M251.3 250.4h0M253.7 265.2h0M257.1 239.1h0" stroke="#3aae3a" stroke-opacity="0.52" stroke-width="2.70" stroke-linecap="round" fill="none"/>
<path d="M269.5 241.5h0M255.8 253.7h0M256.4 254.8h0M252.9 251.3h0M252.4 255.8h0M257.4 268.6h0M262.1 223.4h0M257.9 225.1h0M261.2 259.7h0M256.1 268.1h0M252.4 265.8h0M257.2 251.6h0M255.2 233.2h0M253.7 269.5h0M245.7 282.9h0M246.8 257.2h0M260.9 260.3h0M263.0 286.5h0M257.4 265.2h0M248.1 255.3h0M255.0 256.3h0M248.9 248.7h0M267.3 234.4h0M251.6 293.0h0M254.4 259.5h0M258.5 285.4h0M250.4 269.2h0M252.9 279.2h0M253.8 248.5h0M259.8 260.3h0M254.3 251.7h0M261.1 252.1h0M258.8 256.8h0M261.0 252.9h0M253.2 243.6h0M252.9 225.3h0M243.6 262.3h0M256.6 250.4h0M251.6 261.2h0M258.9 240.1h0M254.6 253.2h0M253.8 245.1h0M260.2 258.9h0M257.4 246.8h0M254.3 245.9h0M254.7 235.0h0M261.1 275.6h0M254.6 276.8h0M246.4 265.5h0M258.6 256.5h0M247.8 252.4h0M266.2 234.9h0M254.3 239.3h0M250.5 285.2h0M269.0 246.9h0M252.3 261.0h0M261.0 265.7h0M257.4 229.2h0M256.6 238.3h0M266.0 232.2h0M255.0 226.6h0M254.1 272.5h0M229.0 310.3h0M260.6 254.3h0M256.5 253.3h0M247.6 238.6h0M269.6 262.8h0M254.5 269.5h0M243.3 291.4h0M256.1 242.1h0M257.4 246.9h0M252.7 272.1h0M244.4 269.8h0M249.8 274.4h0M263.3 255.2h0M261.0 257.2h0M255.3 284.2h0M255.2 248.9h0M255.3 238.6h0M256.5 237.8h0M251.9 267.9h0M258.1 255.7h0M253.9 265.9h0M256.6 265.7h0M251.5 268.4h0M252.2 252.3h0M253.9 261.5h0M255.7 263.9h0M255.1 245.1h0M253.3 254.3h0M254.9 250.3h0M260.1 238.7h0M258.8 260.7h0M254.2 240.5h0M258.2 278.2h0M256.7 272.7h0M253.4 226.2h0M241.4 243.9h0M257.0 285.8h0M247.1 225.2h0M249.2 254.6h0M264.2 276.8h0M252.9 262.7h0M255.7 280.2h0M249.4 275.2h0M251.7 247.5h0M252.1 276.4h0M248.3 273.7h0M252.5 252.0h0M248.4 273.0h0M248.3 286.6h0M253.8 287.2h0M254.6 221.1h0M254.6 259.8h0M255.8 262.8h0M258.3 262.1h0M256.2 223.1h0M259.4 265.7h0M250.7 265.8h0M256.7 247.1h0M255.0 238.3h0M258.7 230.5h0M251.9 281.9h0M259.8 273.8h0M258.7 250.6h0M251.2 267.6h0M243.3 260.5h0M248.4 288.7h0M258.1 236.8h0M257.6 240.9h0M259.8 264.0h0M271.4 263.1h0M247.0 218.3h0M249.2 257.1h0M252.0 272.7h0M251.3 278.0h0M256.9 229.5h0M255.7 280.4h0M260.8 252.3h0M252.4 267.8h0M255.1 233.2h0M255.1 273.6h0M256.9 242.2h0M253.7 257.0h0M251.4 258.7h0M256.9 242.2h0M254.3 269.9h0M257.7 265.8h0M263.9 255.1h0M257.5 265.0h0M250.2 248.7h0M256.7 243.7h0M255.1 264.4h0M252.0 253.8h0M251.7 236.3h0M261.1 294.4h0M253.6 284.7h0M254.4 276.9h0M254.0 277.2h0M255.5 253.4h0M248.4 269.6h0M268.0 282.1h0M245.4 235.1h0M254.6 259.7h0M248.5 243.2h0M262.5 245.0h0M249.9 256.0h0M253.9 249.5h0M252.1 257.5h0M250.6 216.8h0M267.8 253.4h0M257.6 241.5h0M250.6 263.2h0M258.7 235.4h0M257.7 276.6h0M255.9 251.2h0M258.1 260.9h0M257.2 269.3h0M240.3 256.4h0M254.6 244.3h0M256.7 256.4h0M251.5 254.8h0M247.7 240.1h0M269.1 264.5h0M255.7 303.8h0M259.5 231.4h0M255.7 243.4h0M250.0 271.5h0M259.9 214.6h0M254.5 297.1h0M247.1 223.7h0M251.6 229.4h0M249.4 250.4h0M249.4 242.5h0M248.7 271.3h0M258.0 252.0h0M256.8 256.6h0M255.2 213.7h0M251.9 258.2h0M259.2 252.8h0M252.5 204.7h0M257.5 242.3h0M268.2 259.4h0M256.8 266.5h0M254.5 263.4h0M247.2 243.9h0M254.4 254.2h0M253.6 246.9h0M255.8 234.3h0M254.2 255.9h0M260.0 240.5h0M249.0 252.5h0M257.1 275.1h0M252.3 266.3h0M257.0 255.6h0M262.9 235.6h0M254.3 256.4h0M253.1 234.8h0M259.3 253.5h0M257.5 255.9h0M251.5 244.4h0M252.1 243.6h0M261.4 248.4h0M244.5 263.5h0M242.9 266.5h0M257.2 278.3h0M253.8 267.7h0M254.6 226.7h0M243.8 240.4h0M263.4 224.5h0M261.3 209.0h0M253.6 265.3h0M253.1 256.4h0M256.1 281.0h0M250.5 252.0h0M261.1 270.2h0M255.4 226.6h0M253.9 262.6h0M256.5 283.8h0M250.7 280.5h0M254.8 265.3h0M255.8 260.1h0M259.7 251.4h0M251.4 246.5h0M242.0 276.6h0M252.5 246.3h0M257.6 238.4h0M255.5 265.6h0M250.2 234.5h0M259.8 272.3h0" stroke="#3aae3a" stroke-opacity="0.52" stroke-width="2.70" stroke-linecap="round" fill="none"/>
<path d="M248.8 233.5h0M261.5 283.7h0M255.2 266.5h0M248.7 250.9h0M254.4 258.6h0M262.1 223.0h0M261.1 247.1h0M246.3 238.3h0M255.7 272.3h0M255.5 204.6h0M253.0 267.3h0M250.0 269.4h0M259.0 238.5h0M249.7 277.1h0M242.6 227.6h0M251.7 262.0h0M252.3 225.5h0M250.3 253.5h0M245.5 262.8h0M255.2 250.6h0M252.3 229.6h0M269.5 223.0h0M259.1 256.9h0M253.1 262.8h0M261.2 233.0h0M248.8 271.9h0M255.5 249.0h0M269.1 269.5h0M252.3 270.6h0M248.1 202.0h0M255.1 259.5h0M255.5 249.0h0M262.1 290.5h0M249.5 289.5h0M252.9 256.7h0M269.0 243.7h0M269.1 239.2h0M251.2 265.1h0M254.8 193.9h0M255.2 245.4h0M254.4 251.3h0M256.7 245.6h0M255.4 257.5h0M251.3 243.0h0M257.4 252.8h0M266.4 260.2h0M254.7 227.3h0M257.0 242.5h0M261.2 257.1h0M257.9 261.3h0M256.6 235.3h0M253.4 248.8h0M253.8 259.5h0M262.5 264.6h0M260.2 249.5h0M256.3 227.4h0M252.4 240.9h0M257.7 249.3h0M259.4 278.2h0M247.7 248.7h0M247.1 252.2h0M251.7 278.5h0M251.2 236.2h0M257.7 266.1h0M256.9 233.3h0M258.2 268.8h0M270.7 237.0h0M262.4 253.3h0M254.9 257.6h0M259.9 207.1h0M258.7 256.6h0M261.8 193.8h0M261.3 188.8h0M254.4 253.9h0M251.9 266.1h0M246.0 273.2h0M255.7 227.8h0M254.6 291.6h0M242.3 247.6h0M251.5 243.3h0M260.0 270.0h0M254.5 239.9h0M263.2 276.8h0M260.3 213.9h0M248.1 242.6h0M260.7 253.4h0M240.2 208.3h0M258.8 228.9h0M254.0 247.3h0M265.9 246.3h0M255.5 294.0h0M258.3 291.2h0M258.0 251.8h0M253.9 216.6h0M240.6 257.5h0M247.9 246.1h0M252.3 239.9h0M256.3 238.9h0M254.6 237.9h0M256.3 242.5h0M260.8 236.8h0M255.5 230.1h0M244.4 276.9h0M249.6 267.6h0M255.2 255.4h0M265.1 243.5h0M249.9 238.6h0M262.9 247.0h0M267.0 257.9h0M243.9 252.6h0M255.4 214.2h0M259.3 238.0h0M259.2 227.2h0M251.9 242.5h0M253.0 270.5h0M252.5 276.9h0M258.8 269.4h0M258.3 234.1h0M252.7 254.5h0M255.0 282.7h0M255.0 264.2h0M266.5 245.6h0M258.4 231.2h0M241.2 214.3h0M257.9 226.9h0M253.9 258.1h0M264.0 265.3h0M242.0 228.4h0M258.9 256.3h0M260.9 261.7h0M255.2 234.7h0M250.7 272.2h0M260.7 247.3h0M266.4 236.0h0M242.0 301.4h0M254.0 266.6h0M252.8 256.5h0M259.8 267.1h0M250.8 259.7h0M238.8 281.6h0M251.4 260.6h0M244.1 259.7h0M257.7 278.9h0M261.1 261.8h0M250.0 240.3h0M257.3 263.9h0M251.8 262.1h0M246.4 269.3h0M243.1 267.2h0M261.8 250.6h0M258.7 232.3h0M251.9 261.3h0M252.1 284.6h0M250.7 241.4h0M254.7 231.8h0M256.4 235.8h0M255.9 243.2h0M247.2 239.4h0M254.9 270.3h0M252.1 265.6h0M255.3 265.1h0M251.4 241.3h0M249.9 257.7h0M252.2 222.3h0M265.4 246.0h0M255.2 261.9h0M266.1 225.9h0M256.0 254.0h0M251.8 246.6h0M256.9 220.1h0M256.9 256.5h0M252.2 245.0h0M255.6 223.9h0M252.6 252.3h0M245.9 245.5h0M257.8 276.9h0M257.4 215.7h0M250.1 238.2h0M254.4 264.4h0M253.2 252.0h0M246.3 249.1h0M248.2 281.5h0M251.8 238.1h0M255.6 283.7h0M276.8 253.2h0M249.7 260.9h0M249.1 236.5h0M246.4 280.7h0M251.1 263.3h0M251.4 223.6h0M250.4 257.8h0M255.3 278.8h0M257.2 230.9h0M268.9 262.3h0M254.4 254.6h0M255.4 257.1h0M257.6 247.9h0M255.6 233.8h0M260.0 286.7h0M251.6 239.3h0M251.2 290.4h0M257.4 291.7h0M257.2 239.3h0M247.9 280.6h0M259.3 223.4h0M249.8 235.8h0M250.0 239.7h0M258.9 252.7h0M250.7 281.4h0M248.3 255.1h0M255.9 252.4h0M250.6 256.9h0M250.5 248.3h0M264.4 225.6h0M256.0 237.2h0M257.1 234.2h0M264.9 262.6h0M250.9 254.5h0M263.1 250.2h0M254.8 258.8h0M255.5 228.9h0M253.4 254.0h0M268.2 248.4h0M262.1 226.0h0M255.3 225.0h0M259.7 256.0h0M246.4 253.2h0M269.6 204.9h0M251.1 242.6h0M263.5 241.6h0M260.6 278.6h0M249.9 236.0h0M254.3 241.0h0M256.5 238.4h0M253.5 292.3h0M253.5 231.8h0M264.7 277.9h0M253.4 252.5h0M264.9 254.3h0M262.5 237.2h0M257.5 247.6h0M253.1 230.3h0M257.8 238.1h0M265.4 262.8h0M259.4 283.4h0M251.1 273.3h0M254.6 282.7h0M253.2 269.1h0M255.6 241.8h0M247.2 243.4h0" stroke="#3aae3a" stroke-opacity="0.52" stroke-width="2.70" stroke-linecap="round" fill="none"/>
<path d="M254.3 265.3h0M250.6 244.0h0M249.7 263.0h0M255.5 256.1h0M267.8 236.7h0M261.4 234.3h0M259.8 225.4h0M250.3 266.5h0M256.2 247.4h0M260.6 295.3h0M256.2 278.5h0M265.6 229.4h0M248.2 220.1h0M256.1 288.3h0M258.4 277.3h0M263.2 247.8h0M254.0 233.2h0M264.4 247.9h0M259.3 243.3h0M250.5 234.8h0M255.0 253.5h0M261.5 233.2h0M252.9 279.8h0M252.0 249.8h0M250.4 284.9h0M259.2 204.8h0M243.0 264.5h0M259.1 287.8h0M254.5 280.3h0M245.6 219.5h0M245.5 245.5h0M256.2 237.7h0M256.2 236.2h0M256.6 275.1h0M261.8 215.7h0M258.2 231.9h0M260.0 210.0h0M255.7 301.1h0M252.4 244.1h0M268.9 263.8h0M249.4 272.6h0M261.0 256.3h0M256.8 253.7h0M261.2 245.7h0M257.6 258.0h0M257.8 242.8h0M252.1 232.8h0M249.3 218.9h0M259.3 248.5h0M243.7 301.1h0M273.4 235.6h0M260.1 242.2h0M249.3 257.6h0M255.7 283.0h0M259.7 256.6h0M258.4 259.0h0M248.1 296.0h0M257.8 246.9h0M251.7 243.9h0M249.3 256.3h0M258.4 276.7h0M250.7 243.9h0M258.6 303.7h0M262.2 259.0h0M250.4 248.8h0M259.9 262.8h0M260.4 251.2h0M252.5 284.1h0M255.1 266.8h0M253.0 247.9h0M252.5 275.6h0M257.9 259.5h0M253.5 255.3h0M238.6 248.6h0M250.2 217.6h0M255.9 277.9h0M250.3 242.2h0M259.2 239.0h0M252.6 254.1h0M251.1 266.8h0M254.0 249.1h0M246.9 266.1h0M254.8 268.2h0M257.1 242.2h0M254.2 239.3h0M265.0 243.3h0M249.1 261.0h0M257.9 250.7h0M253.6 249.8h0M242.4 251.9h0M258.4 264.8h0M250.1 273.3h0M260.7 212.7h0M252.0 238.2h0M258.2 252.9h0M248.7 254.2h0M255.4 247.7h0M259.0 241.5h0M249.2 252.0h0M265.5 258.7h0M254.2 234.2h0M253.9 264.6h0M251.2 284.7h0M257.2 271.9h0M260.4 261.2h0M257.5 247.7h0M253.0 259.3h0M257.7 259.0h0M266.6 262.9h0M259.2 252.6h0M257.8 276.6h0M263.0 247.7h0M258.4 240.8h0M256.9 218.2h0M255.7 254.6h0M256.8 242.3h0M251.8 250.7h0M253.0 230.2h0M263.0 239.6h0M256.7 247.7h0M257.1 262.8h0M248.6 276.4h0M255.2 259.5h0M260.8 254.3h0M249.8 269.3h0M262.9 277.7h0M250.8 251.5h0M253.8 277.9h0M268.5 225.6h0M261.1 239.7h0M264.7 235.1h0M256.7 232.3h0M248.6 302.3h0M244.7 263.8h0M254.0 276.2h0M246.2 248.1h0M257.0 278.4h0M269.8 219.4h0M255.2 277.5h0M256.4 230.7h0M247.5 250.4h0M257.3 258.1h0M252.9 262.1h0M261.4 255.4h0M253.4 263.3h0M253.4 213.0h0M262.7 269.9h0M259.1 245.6h0M250.6 278.8h0M255.0 216.9h0M249.1 261.0h0M252.9 238.0h0M245.6 250.4h0M254.1 269.2h0M260.0 225.5h0M254.5 266.7h0M258.5 271.2h0M245.7 258.9h0M249.8 240.8h0M259.9 253.9h0M260.0 271.6h0M266.2 254.7h0M253.9 263.0h0M260.7 247.8h0M262.5 254.5h0M253.5 245.0h0M256.3 249.1h0M246.6 250.4h0M252.2 245.8h0M242.8 233.4h0M252.2 232.2h0M258.5 253.2h0M260.3 259.7h0M254.0 258.0h0M255.5 281.3h0M254.0 272.1h0M252.3 288.2h0M254.5 238.6h0M248.7 233.9h0M252.0 229.7h0M255.6 240.0h0M259.4 263.7h0M253.2 285.1h0M268.3 270.9h0M255.6 259.6h0M246.2 230.1h0M256.5 251.8h0M253.6 260.2h0M261.3 209.6h0M246.7 253.0h0M250.0 249.7h0M253.6 245.5h0M262.7 294.1h0M258.5 254.3h0M260.7 220.9h0M259.2 304.1h0M252.3 280.1h0M248.1 248.5h0M259.3 199.5h0M260.2 272.8h0M251.7 220.1h0M252.4 275.7h0M245.0 267.3h0M263.9 249.5h0M252.5 251.2h0M258.9 266.5h0M259.1 238.3h0M259.4 212.8h0M252.0 259.1h0M258.8 246.7h0M262.7 233.3h0M249.3 249.6h0M250.8 234.1h0M267.2 213.7h0M252.8 268.5h0M245.7 291.0h0M249.6 227.7h0M255.2 241.6h0M253.4 261.2h0M249.7 251.7h0M252.6 247.4h0M259.9 282.4h0M254.3 266.2h0M255.2 256.0h0M256.7 223.7h0M252.2 225.4h0M259.2 254.1h0M258.7 289.7h0M253.8 235.2h0M261.3 237.9h0M249.5 222.9h0M251.1 284.6h0M237.5 232.9h0M255.2 250.0h0M269.0 240.9h0M258.9 245.8h0M261.8 260.1h0M258.9 240.1h0M262.6 267.4h0M256.4 269.5h0M245.9 255.1h0M257.7 236.2h0M257.8 277.0h0M253.8 256.8h0M258.0 222.3h0M252.6 257.0h0M253.4 275.7h0M249.3 250.9h0M252.0 254.6h0M249.4 270.5h0" stroke="#3aae3a" stroke-opacity="0.52" stroke-width="2.70" stroke-linecap="round" fill="none"/>
<path d="M246.3 243.2h0M260.7 222.5h0M264.6 257.9h0M264.4 289.5h0M251.7 237.8h0M249.8 264.9h0M255.5 231.0h0M248.9 254.1h0M254.3 276.4h0M243.1 248.4h0M258.8 273.6h0M267.0 260.4h0M253.1 251.5h0M246.2 283.1h0M262.7 262.6h0M239.3 261.5h0M254.9 223.9h0M268.9 309.0h0M260.4 233.5h0M250.2 264.5h0M258.1 243.8h0M256.9 270.0h0M263.4 252.4h0M255.0 258.6h0M257.2 229.2h0M247.6 250.3h0M243.0 238.7h0M251.4 248.0h0M237.3 266.6h0M250.7 226.7h0M252.7 256.2h0M254.1 219.0h0M238.6 266.5h0M265.2 262.4h0M258.1 282.8h0M252.7 240.4h0M250.5 262.9h0M259.0 229.0h0M262.5 273.9h0M253.0 236.2h0M253.4 240.8h0M257.1 276.1h0M258.0 268.8h0M254.0 257.9h0M261.7 275.4h0M249.8 242.2h0M250.9 248.8h0M254.0 242.2h0M263.1 272.3h0M257.0 271.7h0M262.4 229.3h0M257.7 261.2h0M246.1 243.1h0M259.1 253.1h0M254.7 264.5h0M252.5 220.0h0M258.0 252.5h0M253.8 231.5h0M253.4 234.7h0M252.4 317.8h0M250.7 247.5h0M251.7 256.2h0M256.2 233.7h0M251.3 236.1h0M253.8 253.7h0M261.0 218.6h0M259.2 231.4h0M249.4 251.1h0M250.4 230.8h0M249.7 232.2h0M254.5 242.4h0M260.8 244.9h0M260.6 241.3h0M261.3 298.4h0M249.6 239.2h0M250.3 245.0h0M256.4 247.0h0M257.3 276.2h0M248.7 256.7h0M256.7 263.1h0M247.1 256.3h0M259.7 269.9h0M250.5 269.2h0M258.3 275.5h0M267.1 306.2h0M261.9 222.0h0M259.4 240.7h0M252.0 249.5h0M258.7 217.8h0M258.3 237.9h0M259.3 248.5h0M255.5 256.9h0M257.2 259.6h0M254.1 250.8h0M262.1 280.9h0M258.4 228.0h0M256.0 275.7h0M250.4 248.2h0M252.5 217.6h0M252.8 286.2h0M261.2 286.2h0M254.0 254.7h0M253.9 235.9h0M253.0 252.4h0M251.6 233.1h0M257.5 251.4h0M246.0 263.2h0M247.5 263.4h0M245.5 287.5h0M253.8 255.1h0M254.2 275.6h0M253.6 267.3h0M249.2 239.3h0M257.5 253.7h0M265.7 253.2h0M245.3 247.2h0M251.4 278.0h0M247.1 275.3h0M250.7 252.2h0M253.4 242.4h0M259.1 250.5h0M255.8 243.9h0M257.0 205.3h0M250.6 259.7h0M252.7 232.4h0M261.1 224.4h0M250.2 241.1h0M257.4 246.7h0M262.7 270.6h0M253.4 252.8h0M251.9 271.2h0M247.4 279.7h0M257.8 293.8h0M252.4 229.2h0M256.0 230.7h0M254.4 261.1h0M251.2 242.4h0M259.0 222.7h0M246.7 263.5h0M251.3 231.2h0M248.7 283.7h0M250.7 248.2h0M249.0 271.5h0M257.2 254.6h0M251.7 259.4h0M261.3 258.2h0M257.8 259.8h0M251.3 234.9h0M246.6 256.3h0M256.0 251.8h0M253.6 235.1h0M256.3 237.1h0M257.5 273.4h0M252.3 239.9h0M259.7 252.0h0M246.2 264.3h0M262.8 277.3h0M252.3 224.7h0M250.2 228.1h0M264.4 231.0h0M248.5 261.8h0M267.1 254.9h0M247.8 282.1h0M251.3 267.4h0M249.0 266.3h0M254.7 248.1h0M260.1 243.3h0M269.5 240.1h0M261.1 247.9h0M246.5 263.8h0M257.2 280.4h0M259.2 276.6h0M249.0 274.9h0M259.9 230.8h0M261.9 287.6h0M253.3 259.2h0M256.2 251.8h0M260.4 240.8h0M273.5 251.2h0M248.2 242.9h0M255.1 254.5h0M264.4 242.1h0M254.4 239.4h0M258.7 217.0h0M252.8 231.2h0M254.2 240.9h0M252.7 233.9h0M253.8 246.6h0M250.4 246.7h0M259.0 247.2h0M253.1 250.2h0M260.2 232.1h0M239.4 254.1h0M249.9 248.1h0M256.7 267.5h0M244.7 312.3h0M252.6 221.8h0M254.5 284.2h0M248.7 242.0h0M258.0 253.1h0M253.1 232.0h0M253.7 210.5h0M249.8 256.1h0M251.0 253.8h0M259.8 240.9h0M262.2 251.1h0M254.5 263.3h0M255.4 254.5h0M257.7 258.2h0M254.3 248.7h0M258.6 237.1h0M257.0 295.5h0M262.8 233.1h0M267.0 231.0h0M260.1 241.5h0M253.3 248.0h0M263.6 251.0h0M240.2 243.5h0M246.9 217.2h0M259.4 257.1h0M254.7 249.0h0M258.9 262.6h0M250.2 270.1h0M261.6 274.4h0M251.4 255.3h0M257.0 297.2h0M254.0 240.0h0M251.8 264.4h0M255.3 268.1h0M252.6 262.5h0M248.1 241.5h0M263.0 237.1h0M246.0 300.6h0M253.8 230.1h0M255.1 281.8h0M257.4 265.1h0M250.5 238.0h0M248.5 235.6h0M256.2 236.0h0M243.8 234.2h0M258.7 261.8h0M254.8 221.9h0M266.8 235.1h0M258.9 289.7h0M251.7 287.4h0M259.4 263.7h0M247.6 255.2h0M262.5 246.9h0M253.4 232.7h0M258.8 261.4h0" stroke="#3aae3a" stroke-opacity="0.52" stroke-width="2.70" stroke-linecap="round" fill="none"/>
<path d="M256.1 252.5h0M251.1 246.1h0M256.6 265.0h0M260.3 246.3h0M253.3 265.3h0M243.4 277.0h0M255.8 227.9h0M252.4 216.1h0M260.2 256.5h0M243.8 247.6h0M252.7 268.4h0M261.1 260.4h0M257.6 248.8h0M267.4 272.2h0M256.9 295.3h0M257.7 253.7h0M252.0 234.3h0M258.9 243.2h0M249.4 201.1h0M256.9 267.0h0M254.6 273.8h0M260.0 265.7h0M255.1 245.5h0M250.0 224.6h0M256.8 226.9h0M247.9 208.5h0M257.4 258.3h0M243.3 253.3h0M249.6 236.5h0M240.4 300.3h0M260.8 263.8h0M260.4 270.1h0M258.0 234.6h0M249.3 275.9h0M246.5 278.1h0M254.8 252.8h0M250.3 246.2h0M249.1 290.0h0M258.6 267.1h0M260.2 272.2h0M258.8 278.6h0M260.1 246.8h0M251.2 292.0h0M258.0 259.9h0M246.0 299.8h0M256.9 259.5h0M255.7 263.1h0M256.8 275.8h0M253.8 271.3h0M259.6 206.8h0M253.3 230.9h0M258.9 273.5h0M253.2 240.9h0M249.6 240.2h0M263.7 248.2h0M256.4 233.1h0M263.5 278.4h0M241.1 266.0h0M254.5 238.1h0M257.4 300.4h0M256.3 226.5h0M257.1 270.4h0M249.3 249.8h0M251.7 245.9h0M267.8 255.8h0M256.6 291.1h0M262.8 263.2h0M258.3 258.2h0M250.0 229.9h0M248.9 272.1h0M260.2 219.9h0M252.0 239.5h0M252.2 262.9h0M248.3 277.3h0M250.4 242.5h0M256.5 246.4h0M257.0 280.8h0M253.2 275.8h0M249.0 251.7h0M249.7 233.0h0M254.0 242.1h0M265.3 251.3h0M253.0 248.1h0M261.8 250.5h0M255.3 235.3h0M254.6 258.5h0M252.1 226.1h0M258.0 244.1h0M255.7 224.2h0M264.8 240.0h0M248.1 252.0h0M245.4 279.6h0M254.8 254.3h0M243.7 211.6h0M248.6 240.8h0M250.9 251.7h0M260.6 252.5h0M255.8 282.2h0M276.6 242.6h0M247.0 254.0h0M254.3 283.5h0M252.5 233.6h0M258.7 235.9h0M265.9 232.1h0M247.4 233.5h0M256.1 250.2h0M248.6 287.5h0M250.8 248.1h0M258.9 244.4h0M256.3 256.9h0M265.5 262.2h0M253.2 249.7h0M254.1 255.0h0M260.1 276.1h0M257.6 238.0h0M241.5 258.2h0M257.2 248.0h0M245.7 269.4h0M251.0 274.2h0M257.5 245.6h0M257.1 246.7h0M255.7 257.3h0M254.9 230.4h0M254.0 236.9h0M265.7 255.0h0M245.4 271.3h0M254.7 224.8h0M255.3 245.9h0M261.5 273.6h0M250.9 266.5h0M260.4 208.3h0M260.4 267.9h0M251.9 277.6h0M262.0 251.4h0M253.0 209.1h0M252.8 302.7h0M245.1 246.9h0M247.6 256.1h0M253.5 246.8h0M255.4 247.9h0M251.3 262.2h0M256.9 281.7h0M256.2 226.8h0M246.9 278.0h0M249.0 261.4h0M260.4 249.3h0M263.6 247.5h0M253.5 257.7h0M252.0 272.8h0M255.7 271.9h0M255.7 265.0h0M257.6 229.8h0M259.4 245.4h0M249.0 256.8h0M255.2 267.6h0M254.7 263.4h0M256.6 285.4h0M258.4 215.7h0M240.4 259.1h0M262.4 251.3h0M249.4 245.7h0M253.1 245.2h0M252.1 231.9h0M255.0 227.3h0M255.1 243.9h0M258.5 269.1h0M260.8 254.5h0M256.4 230.3h0M259.5 235.9h0M251.1 249.7h0M254.3 233.0h0M254.6 242.7h0M248.0 222.4h0M262.2 288.2h0M259.6 299.2h0M254.1 253.1h0M258.2 260.4h0M255.2 259.6h0M259.2 276.1h0M248.5 241.4h0M245.1 274.8h0M258.8 242.6h0M256.5 241.0h0M258.3 259.5h0M248.9 238.8h0M253.6 234.2h0M259.9 268.7h0M252.8 262.3h0M269.1 238.1h0M250.5 247.1h0M251.0 284.1h0M265.8 275.1h0M258.7 256.2h0M252.2 247.4h0M263.5 253.8h0M254.0 239.9h0M274.5 248.5h0M257.5 233.3h0M251.8 276.7h0M255.6 204.2h0M250.6 250.1h0M244.7 268.7h0M253.8 283.8h0M256.4 274.4h0M257.6 280.2h0M256.6 253.9h0M256.9 294.1h0M253.1 245.0h0M259.2 281.0h0M251.7 270.1h0M252.8 243.7h0M256.3 259.3h0M252.1 226.7h0M253.2 244.0h0M250.3 228.4h0M250.5 258.3h0M256.0 267.9h0M259.1 253.5h0M258.2 248.5h0M250.5 275.4h0M250.4 228.2h0M264.6 224.2h0M257.8 254.3h0M247.0 296.0h0M252.5 254.8h0M250.8 217.3h0M260.3 238.9h0M249.4 253.4h0M256.1 266.7h0M243.1 295.9h0M253.7 230.9h0M256.2 258.5h0M263.4 280.3h0M256.4 258.0h0M257.0 239.5h0M256.7 255.0h0M248.1 259.3h0M239.1 266.6h0M254.9 215.9h0M252.1 284.2h0M252.1 277.4h0M256.1 258.9h0M256.0 226.4h0M255.7 235.0h0M246.6 236.4h0M244.6 288.6h0M246.1 246.9h0M258.9 257.8h0M254.0 235.7h0M249.6 267.9h0" stroke="#3aae3a" stroke-opacity="0.52" stroke-width="2.70" stroke-linecap="round" fill="none"/>
<path d="M230.8 231.5h0M254.3 267.3h0M245.6 205.0h0M271.2 159.0h0M259.9 123.4h0M252.2 205.8h0M242.3 305.2h0M260.1 304.9h0M265.2 217.3h0M245.1 245.7h0M248.0 291.1h0M252.7 302.7h0M256.9 261.9h0M240.7 288.6h0M261.9 286.2h0M248.6 319.0h0M281.3 207.2h0M255.3 206.3h0M256.4 251.1h0M251.6 262.1h0M273.4 258.7h0M254.3 230.2h0M246.7 306.5h0M242.0 202.8h0M225.6 271.7h0M254.8 405.2h0M243.8 255.7h0M257.5 315.7h0M259.5 280.1h0M261.9 238.4h0M255.9 170.8h0M263.9 280.3h0M254.2 237.6h0M264.5 288.6h0M252.8 185.6h0M247.8 259.2h0M254.7 299.3h0M265.9 272.3h0M254.7 291.4h0M261.8 245.7h0M262.2 186.5h0M255.9 321.5h0M254.6 237.7h0M255.9 266.2h0M254.0 270.2h0M253.2 247.2h0M216.9 300.6h0M233.6 334.2h0M244.9 298.3h0M238.5 334.1h0M259.6 241.8h0M252.8 262.8h0M261.5 270.4h0M241.2 276.6h0M255.8 244.1h0M259.9 245.7h0M246.8 300.9h0M265.4 227.9h0M253.0 255.4h0M251.2 255.1h0M246.5 308.0h0M268.3 256.6h0M258.4 257.5h0M233.8 277.7h0M242.0 272.7h0M278.5 232.2h0M239.4 289.2h0M251.5 261.6h0M223.8 306.8h0M253.4 260.0h0M259.9 281.9h0M278.2 202.0h0M248.9 240.5h0M286.7 304.4h0M252.4 251.2h0M264.6 220.4h0M266.6 189.4h0M237.2 277.4h0M254.1 304.2h0M253.4 317.2h0M262.4 240.6h0M252.4 249.3h0M259.3 274.2h0M231.2 342.5h0M246.7 191.2h0M243.9 259.8h0M253.5 274.3h0M263.4 302.3h0M259.9 260.1h0M235.5 286.7h0M275.5 136.3h0M264.1 331.3h0M232.1 289.5h0M261.6 274.3h0M240.8 324.3h0M235.2 269.4h0M248.2 156.4h0M231.6 309.7h0M262.3 276.1h0M281.9 294.9h0M286.6 402.7h0M279.0 168.6h0M255.1 277.3h0M256.8 242.1h0M243.0 224.4h0M250.1 240.7h0M262.0 208.6h0M263.8 325.5h0M247.5 297.2h0" stroke="#3aae3a" stroke-opacity="0.42" stroke-width="2.70" stroke-linecap="round" fill="none"/>
<path d="M257.8 252.9h0M285.8 150.5h0M263.2 300.0h0M264.6 223.9h0M296.3 333.8h0M233.2 280.5h0M251.6 261.6h0M253.3 307.6h0M233.0 256.0h0M239.3 368.1h0M260.1 298.7h0M255.2 236.7h0M228.4 308.1h0M251.3 194.0h0M261.6 323.2h0M253.0 265.1h0M261.9 220.0h0M241.0 312.3h0M248.8 313.5h0M251.2 258.7h0M231.2 338.5h0M250.2 329.4h0M249.0 294.8h0M260.3 273.7h0M252.3 250.6h0M237.4 172.2h0M243.8 267.9h0M262.8 263.6h0M228.5 334.7h0M240.6 259.8h0M256.4 254.1h0M262.5 243.1h0M256.9 225.3h0M235.0 320.0h0M235.8 314.9h0M294.7 125.4h0M234.5 258.1h0M265.8 252.3h0M260.2 173.7h0M256.8 244.4h0M243.3 272.5h0M257.2 305.4h0M243.5 285.4h0M266.4 239.0h0M253.7 267.1h0M261.4 216.3h0M262.1 275.0h0M255.9 204.2h0M236.7 285.9h0M264.1 283.8h0M263.1 274.4h0M264.4 289.9h0M243.7 279.1h0M250.0 190.4h0M243.5 222.9h0M259.9 283.8h0M260.1 226.0h0M260.2 254.9h0M265.2 255.9h0M238.1 417.5h0M262.1 197.9h0M243.6 255.2h0M279.7 258.6h0M240.9 238.2h0M254.8 284.6h0M243.0 277.9h0M276.1 277.0h0M240.7 228.9h0M242.6 316.6h0M261.0 290.9h0M258.0 293.1h0M220.9 296.1h0M247.8 277.1h0M254.5 216.6h0M254.3 219.0h0M254.5 244.6h0M226.5 275.9h0M253.4 249.7h0M254.6 334.1h0M258.1 233.0h0M238.9 283.2h0M250.4 232.4h0M257.3 245.6h0M275.1 269.9h0M253.1 268.1h0M249.6 283.3h0M262.9 264.0h0M268.5 281.0h0M274.9 199.9h0M245.6 158.8h0M247.6 232.1h0M260.8 247.1h0M241.8 176.3h0M254.1 276.0h0M262.0 213.6h0M243.8 337.1h0M253.8 210.3h0M265.0 265.7h0M248.9 298.6h0M247.4 293.3h0M263.3 206.1h0M266.5 268.1h0M258.1 324.0h0M260.5 248.0h0M245.7 252.5h0M227.0 204.8h0M284.6 194.4h0M251.9 290.1h0M241.1 323.2h0" stroke="#3aae3a" stroke-opacity="0.42" stroke-width="2.70" stroke-linecap="round" fill="none"/>
<path d="M239.2 219.7h0M254.6 267.5h0M238.0 376.1h0M274.0 221.5h0M256.7 257.5h0M243.3 238.5h0M245.3 335.6h0M273.0 293.3h0M229.1 301.4h0M269.7 163.2h0M236.2 275.5h0M218.8 325.7h0M227.5 219.5h0M270.0 296.8h0M259.5 214.4h0M241.4 258.7h0M253.5 278.9h0M234.3 338.0h0M272.3 196.9h0M256.6 269.8h0M264.9 283.4h0M262.8 320.7h0M233.4 323.5h0M243.8 302.2h0M254.8 229.5h0M253.8 295.8h0M263.9 279.3h0M250.5 259.9h0M274.8 187.1h0M239.5 299.8h0M261.6 259.1h0M230.6 154.0h0M240.5 301.7h0M258.0 251.6h0M247.9 295.5h0M265.2 268.4h0M263.1 266.3h0M257.8 232.3h0M255.3 163.9h0M235.5 305.6h0M236.7 325.7h0M288.3 141.5h0M251.0 286.6h0M251.6 267.2h0M265.7 287.5h0M259.9 277.4h0M244.3 289.9h0M245.2 260.1h0M212.6 259.4h0M248.0 250.4h0M251.4 237.7h0M271.2 264.4h0M245.6 287.9h0M253.7 284.0h0M234.5 325.7h0M257.0 280.3h0M241.3 304.4h0M240.4 259.0h0M228.9 249.0h0M258.0 285.2h0M256.0 189.7h0M286.3 152.3h0M249.1 265.4h0M266.7 270.7h0M261.5 261.2h0M269.4 332.8h0M253.5 294.4h0M249.7 214.4h0M260.4 288.4h0M247.1 284.3h0M255.5 310.3h0M254.5 165.4h0M259.2 224.7h0M234.1 376.1h0M295.4 274.7h0M257.4 244.9h0M234.4 247.1h0M261.4 215.6h0M268.8 222.3h0M231.9 252.7h0M248.5 264.5h0M247.7 302.9h0M224.2 311.8h0M256.7 196.5h0M246.7 266.1h0M246.1 225.9h0M248.0 257.8h0M258.6 233.0h0M251.9 236.9h0M258.5 207.6h0M261.0 234.8h0M253.5 235.4h0M254.1 286.6h0M234.2 247.9h0M248.9 237.9h0M296.1 188.8h0M199.1 338.8h0M257.5 235.3h0M235.6 171.6h0M251.0 250.1h0M236.1 335.5h0M259.6 299.5h0M253.7 263.6h0M255.6 181.5h0M241.1 371.7h0M222.9 242.0h0M250.1 314.5h0M272.3 280.5h0" stroke="#3aae3a" stroke-opacity="0.42" stroke-width="2.70" stroke-linecap="round" fill="none"/>
<path d="M254.3 261.4h0M246.2 251.6h0M249.9 266.0h0M244.7 315.4h0M255.9 294.3h0M275.0 224.4h0M258.0 271.0h0M262.0 248.9h0M241.2 291.7h0M241.3 302.6h0M257.9 187.6h0M257.0 299.5h0M261.6 329.6h0M260.6 340.4h0M255.4 303.2h0M256.9 292.6h0M235.0 284.5h0M228.6 306.1h0M261.5 232.8h0M239.9 192.7h0M257.7 262.9h0M268.1 250.5h0M238.4 265.2h0M258.4 261.6h0M260.9 262.0h0M232.4 294.6h0M241.9 319.0h0M249.8 279.1h0M242.5 247.9h0M237.4 210.4h0M219.6 305.6h0M232.8 276.0h0M236.1 284.6h0M231.5 216.6h0M266.0 267.4h0M253.6 240.4h0M257.7 352.1h0M261.5 247.4h0M260.2 234.8h0M263.2 243.5h0M258.7 280.1h0M248.8 284.1h0M261.2 340.6h0M238.7 303.7h0M246.0 304.1h0M248.3 274.1h0M254.1 169.7h0M251.2 257.0h0M254.0 305.3h0M208.6 339.9h0M256.7 200.5h0M249.8 296.4h0M250.4 225.9h0M255.3 324.9h0M252.3 220.9h0M250.8 261.0h0M244.1 227.7h0M270.2 285.4h0M253.1 259.3h0M232.5 301.5h0M237.2 293.8h0M253.0 259.5h0M242.1 274.8h0M244.5 292.7h0M254.8 280.5h0M276.0 234.4h0M268.3 319.2h0M257.9 292.4h0M247.7 216.2h0M265.3 240.0h0M248.1 259.0h0M253.3 249.8h0M247.4 295.3h0M264.3 238.3h0M256.3 256.5h0M244.2 218.6h0M200.1 347.6h0M257.3 250.7h0M250.7 304.0h0M263.0 248.2h0M229.4 208.5h0M249.6 301.4h0M227.6 345.0h0M253.8 266.0h0M237.3 192.2h0M258.8 211.5h0M274.6 315.5h0M259.0 368.5h0M253.9 245.1h0M258.7 240.3h0M243.3 305.1h0M257.1 195.4h0M262.5 284.9h0M257.9 266.6h0M251.6 279.6h0M251.8 290.7h0M262.9 261.0h0M261.7 179.4h0M246.9 265.1h0M250.8 233.8h0M257.0 277.0h0M237.9 305.8h0M249.9 253.4h0M246.3 270.3h0M300.5 102.5h0M253.2 266.2h0M287.0 274.6h0M257.3 251.7h0" stroke="#3aae3a" stroke-opacity="0.42" stroke-width="2.70" stroke-linecap="round" fill="none"/>
<path d="M231.3 254.9h0M257.8 253.0h0M237.0 252.2h0M249.9 238.8h0M241.6 270.5h0M234.8 247.7h0M225.2 266.2h0M236.9 268.4h0M245.7 249.3h0M232.9 257.6h0M246.4 241.7h0M239.3 258.2h0M234.7 258.9h0M224.7 237.3h0M238.5 241.9h0M218.2 267.2h0M247.0 252.7h0M243.9 264.6h0M253.8 242.2h0M236.6 262.2h0M236.8 259.2h0M235.5 252.5h0M234.3 260.7h0M235.6 259.1h0M241.0 259.2h0M235.5 259.2h0M249.1 245.2h0M239.3 245.0h0M249.6 257.4h0M249.7 261.9h0M237.5 252.3h0M241.2 263.9h0M215.2 257.9h0M241.5 255.6h0M228.2 258.6h0M242.4 259.9h0M246.1 251.0h0M239.6 258.0h0M260.3 249.8h0M240.7 260.9h0M242.7 264.1h0M237.4 270.4h0M245.3 260.0h0M248.6 251.4h0M250.6 263.8h0M240.0 258.9h0M243.3 258.7h0M247.6 252.4h0M228.0 250.3h0M238.2 265.0h0M241.8 256.5h0M233.7 258.8h0M260.9 268.9h0M197.5 279.2h0M243.8 262.4h0M253.3 256.0h0M237.5 247.5h0M237.8 244.8h0M222.6 277.8h0M234.2 260.2h0M253.1 243.2h0M235.0 257.3h0M232.9 243.3h0M222.2 265.4h0M249.6 258.3h0M241.0 250.8h0M250.4 256.2h0M232.0 259.4h0M220.8 258.3h0M241.6 261.0h0M237.3 246.9h0M237.9 254.5h0M243.9 254.6h0M230.5 255.5h0M222.5 255.7h0M225.9 264.9h0M221.3 260.0h0M244.7 252.1h0M248.3 234.8h0M244.4 253.4h0M244.9 249.2h0M221.5 264.9h0M241.3 247.5h0M241.3 257.9h0M238.9 246.0h0M240.5 255.1h0M243.6 257.7h0M256.7 236.9h0M244.2 248.7h0M232.5 253.7h0M235.5 261.9h0M242.0 262.0h0M240.0 258.6h0M245.7 254.1h0M252.3 257.6h0M245.7 265.6h0" stroke="#5a40b8" stroke-opacity="0.46" stroke-width="2.70" stroke-linecap="round" fill="none"/>
<path d="M234.3 258.5h0M248.3 253.8h0M240.5 268.0h0M237.5 269.5h0M236.5 255.5h0M237.7 252.3h0M254.0 247.2h0M241.4 257.0h0M233.5 260.6h0M240.6 261.8h0M235.5 260.9h0M241.2 242.9h0M243.6 257.5h0M249.3 251.6h0M248.7 260.2h0M233.3 262.6h0M242.4 246.7h0M236.7 259.2h0M238.8 263.7h0M234.7 256.5h0M245.7 262.1h0M235.8 259.1h0M242.7 253.1h0M246.8 264.0h0M241.3 246.7h0M243.1 269.5h0M248.9 255.5h0M245.6 262.6h0M241.7 276.0h0M240.0 256.4h0M243.9 262.7h0M239.9 252.0h0M237.4 253.8h0M236.8 259.5h0M230.6 268.4h0M237.9 251.3h0M241.0 261.5h0M235.8 258.3h0M222.6 265.4h0M227.8 248.5h0M241.8 250.5h0M250.6 248.6h0M240.8 259.6h0M243.0 251.2h0M234.0 255.4h0M237.1 226.6h0M237.5 254.0h0M241.7 230.3h0M244.0 254.4h0M250.0 239.8h0M252.2 249.5h0M222.2 260.6h0M237.9 271.7h0M242.7 262.8h0M252.2 251.1h0M242.9 248.6h0M247.9 249.0h0M240.9 254.2h0M238.2 265.6h0M249.3 261.5h0M239.4 250.5h0M236.5 251.2h0M249.9 238.1h0M238.8 267.1h0M245.6 249.9h0M242.4 261.9h0M245.0 249.5h0M247.7 264.4h0M233.4 255.6h0M251.5 254.5h0M234.3 261.9h0M227.0 261.1h0M221.7 252.8h0M237.7 259.1h0M244.0 251.3h0M255.7 240.7h0M240.3 253.9h0M217.3 272.9h0M239.0 263.6h0M237.5 254.5h0M246.3 255.7h0M258.0 256.3h0M243.7 248.3h0M238.3 253.3h0M210.3 274.2h0M237.6 241.3h0M237.3 265.6h0M248.5 258.1h0M245.5 260.1h0M242.8 256.6h0M242.8 248.2h0M228.2 257.9h0M242.8 257.9h0M245.2 244.1h0M236.5 253.3h0M242.8 258.9h0" stroke="#5a40b8" stroke-opacity="0.46" stroke-width="2.70" stroke-linecap="round" fill="none"/>
<path d="M247.3 253.4h0M249.3 262.2h0M230.6 249.3h0M242.3 253.7h0M243.0 260.1h0M243.6 261.0h0M241.2 256.5h0M238.7 252.6h0M239.0 254.0h0M243.8 251.6h0M243.4 251.1h0M241.9 256.9h0M224.7 255.7h0M235.7 269.9h0M250.5 259.4h0M244.4 256.1h0M235.4 262.0h0M232.6 261.1h0M253.7 239.1h0M243.1 258.7h0M229.5 235.0h0M233.5 263.3h0M239.2 255.7h0M216.1 273.3h0M230.6 273.1h0M233.4 265.2h0M228.9 260.8h0M241.1 246.5h0M240.6 252.6h0M245.6 265.6h0M251.4 223.1h0M239.6 268.0h0M246.8 257.3h0M242.2 268.2h0M238.6 264.3h0M244.2 228.4h0M238.6 264.4h0M246.7 256.3h0M253.9 253.0h0M229.7 257.8h0M236.2 256.8h0M249.6 253.5h0M248.7 251.6h0M243.8 257.2h0M214.5 263.8h0M234.1 258.9h0M262.3 255.5h0M246.5 255.2h0M245.1 242.0h0M232.8 256.5h0M237.0 245.4h0M235.4 259.0h0M235.6 257.3h0M239.9 246.4h0M241.0 259.4h0M226.4 253.3h0M239.4 244.7h0M233.7 238.3h0M242.0 251.2h0M223.9 256.3h0M208.1 255.9h0M230.4 250.1h0M244.4 259.4h0M237.4 248.2h0M261.0 245.8h0M241.4 239.5h0M237.0 254.2h0M249.8 259.5h0M234.9 279.3h0M257.3 238.4h0M237.3 261.0h0M249.3 255.5h0M227.9 252.6h0M249.3 263.0h0M240.0 246.5h0M225.9 277.9h0M239.2 269.1h0M244.8 258.7h0M241.3 255.1h0M242.6 255.5h0M243.1 272.9h0M242.8 257.7h0M238.8 266.1h0M242.0 256.9h0M239.1 251.2h0M254.6 248.5h0M225.8 254.7h0M235.9 244.9h0M242.1 254.7h0M251.4 244.2h0M249.4 233.3h0M237.0 266.1h0M246.4 254.0h0M235.2 262.5h0M242.6 257.1h0M239.3 252.6h0" stroke="#5a40b8" stroke-opacity="0.46" stroke-width="2.70" stroke-linecap="round" fill="none"/>
<path d="M242.3 253.5h0M238.6 250.0h0M247.0 257.4h0M239.2 248.1h0M235.9 265.4h0M243.7 252.8h0M230.7 261.7h0M246.7 246.6h0M238.1 259.3h0M236.5 247.7h0M237.8 263.7h0M241.3 251.5h0M251.6 241.2h0M248.0 244.5h0M239.9 246.2h0M237.8 260.3h0M240.1 253.8h0M245.4 244.9h0M255.2 265.2h0M245.1 243.6h0M235.1 253.8h0M238.0 259.1h0M234.2 246.2h0M251.1 258.7h0M251.3 255.3h0M238.1 272.2h0M242.1 252.5h0M234.7 256.7h0M273.6 239.3h0M250.7 240.1h0M241.2 258.8h0M240.9 257.6h0M237.1 274.3h0M236.9 255.8h0M245.1 260.0h0M232.4 264.4h0M239.7 250.6h0M236.0 262.0h0M243.0 254.3h0M247.5 253.8h0M234.8 250.3h0M234.0 248.3h0M241.7 250.3h0M266.0 264.6h0M239.7 264.5h0M232.9 263.3h0M240.0 271.8h0M248.0 258.0h0M229.9 255.9h0M236.5 252.2h0M247.9 272.6h0M243.1 270.5h0M234.2 254.1h0M247.5 244.9h0M251.9 251.1h0M247.2 249.0h0M240.7 257.3h0M256.8 226.4h0M238.3 246.1h0M243.6 247.7h0M238.2 256.2h0M242.0 228.9h0M236.3 267.2h0M242.8 239.6h0M241.0 248.6h0M258.6 229.4h0M232.9 252.2h0M268.2 254.5h0M245.8 259.8h0M242.6 247.4h0M223.0 278.0h0M244.0 253.1h0M241.6 253.0h0M254.0 244.0h0M238.5 248.1h0M224.2 261.6h0M241.4 263.5h0M247.9 255.9h0M227.5 250.4h0M246.8 256.4h0M238.3 240.4h0M247.3 260.6h0M236.0 266.0h0M231.9 244.9h0M249.8 235.2h0M239.9 258.5h0M230.5 258.1h0M259.1 245.7h0M233.9 259.2h0M247.5 231.8h0M238.3 255.7h0M251.4 242.3h0M223.8 265.2h0M228.7 262.6h0M240.1 260.4h0M248.6 245.4h0" stroke="#5a40b8" stroke-opacity="0.46" stroke-width="2.70" stroke-linecap="round" fill="none"/>
<path d="M241.3 258.3h0M238.7 247.0h0M240.5 258.2h0M233.6 252.6h0M239.4 256.0h0M230.5 248.9h0M251.9 237.5h0M245.9 259.5h0M234.9 251.2h0M254.8 245.2h0M243.8 249.1h0M238.3 254.0h0M238.3 261.7h0M253.1 256.7h0M247.0 255.1h0M250.2 256.3h0M231.1 258.6h0M244.6 264.0h0M228.7 262.8h0M228.7 263.8h0M246.1 257.1h0M228.0 275.4h0M244.3 249.0h0M246.5 252.6h0M250.3 248.1h0M226.8 265.0h0M232.2 241.2h0M234.6 265.7h0M238.8 262.5h0M250.9 258.2h0M233.0 261.1h0M238.4 253.1h0M247.4 245.0h0M241.8 259.2h0M236.9 261.5h0M243.5 259.2h0M253.6 232.5h0M235.8 259.9h0M239.4 257.6h0M240.0 252.8h0M237.8 249.6h0M236.2 242.1h0M246.3 261.5h0M237.8 259.6h0M247.7 269.1h0M224.1 279.9h0M226.3 251.9h0M241.4 259.3h0M251.7 258.3h0M226.1 251.7h0M237.1 283.6h0M243.8 259.9h0M243.6 257.3h0M242.8 251.5h0M238.1 264.4h0M235.5 256.7h0M246.1 248.8h0M234.2 261.1h0M229.3 251.6h0M244.5 257.9h0M242.5 262.8h0M248.5 254.3h0M238.6 242.0h0M233.4 246.8h0M249.0 250.0h0M227.7 244.8h0M224.4 258.2h0M236.6 252.5h0M229.7 264.3h0M243.9 256.2h0M233.4 269.4h0M246.1 268.2h0M234.8 264.2h0M222.3 272.3h0M258.8 244.1h0M242.1 261.7h0M243.0 264.3h0M236.8 250.4h0M235.9 263.6h0M252.8 240.1h0M246.0 259.0h0M235.6 248.5h0M249.4 264.9h0M242.3 267.8h0M259.8 247.5h0M243.7 251.8h0M234.7 249.5h0M232.9 247.3h0M233.1 244.9h0M239.6 282.2h0M226.3 271.2h0M243.4 249.0h0M245.7 254.9h0M225.8 267.5h0M253.0 260.1h0M245.9 266.2h0" stroke="#5a40b8" stroke-opacity="0.46" stroke-width="2.70" stroke-linecap="round" fill="none"/>
<path d="M277.0 254.2h0M296.1 236.0h0M240.8 256.4h0M330.8 224.2h0M309.1 265.2h0M326.9 274.9h0M344.5 252.0h0M283.7 262.3h0M345.4 285.6h0M310.3 250.5h0M271.4 247.5h0M282.4 248.1h0M266.9 250.7h0M268.7 270.8h0M316.5 239.0h0M315.4 276.2h0M303.2 280.7h0M253.2 249.6h0M264.6 259.3h0M281.2 250.5h0M235.1 238.3h0M270.0 256.6h0M277.6 254.6h0M335.5 291.9h0M325.7 266.0h0M233.0 254.9h0M316.1 247.5h0M258.2 246.1h0M263.2 250.1h0M275.1 257.3h0M264.9 248.8h0M286.5 298.3h0M234.3 259.7h0M279.2 245.9h0M274.1 264.5h0M250.4 260.4h0M270.7 270.6h0M264.3 255.2h0M299.1 264.5h0M240.2 245.0h0M261.1 258.2h0M251.4 264.9h0M272.9 247.2h0M244.0 267.4h0M335.1 253.5h0M298.9 250.8h0M344.9 265.7h0M309.6 246.1h0M297.8 276.8h0M287.7 249.8h0M327.2 272.8h0M349.1 260.7h0M291.4 255.8h0M341.4 275.0h0M241.7 250.0h0M260.7 264.8h0M275.2 254.7h0M218.2 250.6h0M266.7 258.8h0M269.9 264.2h0M361.2 278.3h0M254.2 258.9h0M238.4 272.0h0M258.0 260.4h0M337.9 262.5h0M264.5 257.2h0M271.5 227.9h0M269.8 257.8h0M327.7 290.6h0M185.1 274.2h0M336.7 281.6h0M247.3 260.4h0M269.8 250.6h0M279.2 258.6h0M270.6 253.7h0M282.2 250.9h0M255.2 253.4h0M271.0 255.4h0M270.5 251.4h0M304.0 286.2h0M298.3 260.7h0M257.3 246.2h0M285.8 291.6h0M241.0 261.4h0M274.7 261.8h0M320.7 272.8h0M249.7 239.9h0M259.9 264.3h0M305.0 265.2h0M373.2 245.7h0M205.8 229.6h0M261.0 265.0h0M307.1 276.4h0M251.7 255.5h0M256.8 261.8h0M252.2 258.2h0M253.0 244.1h0M310.3 265.0h0M273.4 260.0h0M296.0 255.8h0M263.2 253.1h0M314.8 206.7h0" stroke="#7a70b0" stroke-opacity="0.32" stroke-width="2.70" stroke-linecap="round" fill="none"/>
<path d="M298.1 259.7h0M260.8 259.2h0M281.5 243.3h0M313.1 246.0h0M316.9 261.1h0M321.5 290.6h0M270.0 267.6h0M278.5 232.6h0M257.7 251.9h0M272.9 280.6h0M259.5 258.9h0M256.1 278.7h0M255.5 250.4h0M343.9 237.3h0M312.2 250.7h0M285.1 264.8h0M257.1 253.3h0M296.4 241.0h0M272.1 255.9h0M324.0 265.8h0M298.6 261.6h0M317.4 258.9h0M302.6 300.1h0M276.8 279.8h0M280.5 251.5h0M346.9 246.3h0M311.6 247.8h0M315.5 293.2h0M351.9 275.6h0M280.6 249.5h0M277.0 251.7h0M289.0 283.3h0M234.8 234.0h0M258.6 260.6h0M314.6 220.4h0M269.9 255.7h0M232.4 240.8h0M256.6 260.0h0M263.2 257.4h0M266.0 247.4h0M283.2 265.2h0M264.6 249.0h0M248.4 250.7h0M302.3 286.0h0M133.8 235.5h0M344.3 258.5h0M261.2 257.4h0M269.0 250.7h0M253.8 268.8h0M281.9 257.4h0M266.3 252.4h0M264.1 257.6h0M206.7 260.9h0M301.1 263.0h0M244.2 257.7h0M303.7 239.3h0M266.6 236.6h0M322.3 254.4h0M243.1 274.1h0M267.8 252.9h0M289.6 257.8h0M348.2 243.0h0M385.8 294.4h0M268.9 249.9h0M277.1 248.7h0M275.7 248.5h0M285.4 253.7h0M183.7 279.0h0M252.2 265.1h0M291.5 246.7h0M272.3 245.1h0M215.3 237.4h0M300.6 269.1h0M263.8 245.5h0M275.2 258.6h0M270.6 254.0h0M349.5 278.3h0M274.1 265.6h0M362.8 261.1h0M276.8 272.5h0M258.9 254.7h0M307.8 254.3h0M253.5 243.0h0M238.7 256.3h0M296.7 247.7h0M259.4 294.0h0M292.5 283.5h0M295.1 226.2h0M271.1 257.6h0M302.4 250.1h0M260.5 255.5h0M239.7 267.3h0M270.3 260.8h0M226.3 272.3h0M262.9 241.6h0M257.5 266.6h0M274.6 256.5h0M260.3 252.4h0M288.0 270.3h0M253.6 252.5h0M272.2 251.3h0M244.7 254.9h0" stroke="#7a70b0" stroke-opacity="0.32" stroke-width="2.70" stroke-linecap="round" fill="none"/>
<path d="M276.4 266.7h0M267.1 251.0h0M283.9 247.7h0M230.0 248.7h0M358.7 276.2h0M232.3 264.2h0M257.3 257.5h0M256.6 261.1h0M286.3 253.7h0M271.6 248.3h0M274.1 261.0h0M272.2 258.0h0M323.7 295.2h0M182.3 271.0h0M263.8 254.7h0M272.1 250.9h0M233.8 254.1h0M293.2 280.2h0M280.0 246.5h0M259.4 244.7h0M271.5 259.9h0M271.9 256.2h0M276.9 249.3h0M273.1 248.2h0M233.7 233.9h0M265.3 253.0h0M251.7 263.6h0M266.2 245.0h0M277.7 248.6h0M212.1 249.8h0M274.2 241.2h0M355.3 284.7h0M276.5 258.2h0M253.2 263.6h0M250.5 257.6h0M241.7 256.4h0M275.8 253.2h0M239.3 258.8h0M244.3 285.2h0M288.5 240.8h0M274.4 246.8h0M254.9 249.2h0M263.0 252.8h0M306.9 251.8h0M340.3 241.7h0M269.5 253.5h0M270.3 258.0h0M270.3 250.5h0M279.3 257.9h0M178.4 245.6h0M239.2 268.4h0M262.5 246.1h0M324.5 277.3h0M293.1 256.1h0M274.3 254.3h0M233.0 257.7h0M276.2 249.6h0M278.2 252.8h0M268.2 241.6h0M321.1 239.3h0M294.7 252.3h0M296.2 265.0h0M316.9 280.4h0M289.8 250.0h0M257.9 259.7h0M247.0 297.9h0M274.0 254.1h0M310.8 258.6h0M340.5 235.7h0M242.0 260.3h0M281.1 257.3h0M311.8 260.1h0M212.8 257.6h0M258.6 255.1h0M265.5 218.8h0M234.6 307.5h0M298.6 272.7h0M274.4 257.3h0M314.2 245.3h0M264.2 249.9h0M249.9 249.3h0M263.9 231.8h0M276.2 285.6h0M308.1 278.2h0M307.0 275.0h0M278.2 246.9h0M257.6 262.3h0M273.8 250.8h0M218.9 263.3h0M353.9 265.6h0M280.1 246.6h0M267.9 252.5h0M277.7 261.2h0M306.4 271.1h0M341.4 271.4h0M250.1 259.4h0M272.2 250.6h0M281.4 238.5h0M208.5 257.2h0M276.1 263.4h0M267.4 262.5h0M278.7 255.0h0" stroke="#7a70b0" stroke-opacity="0.32" stroke-width="2.70" stroke-linecap="round" fill="none"/>
<path d="M329.5 289.9h0M247.3 250.5h0M253.7 246.4h0M343.6 245.2h0M376.3 268.0h0M285.0 256.6h0M279.1 252.6h0M313.8 254.9h0M326.6 257.2h0M289.8 258.3h0M267.9 259.9h0M262.5 251.5h0M324.2 223.0h0M255.5 255.8h0M297.5 270.7h0M310.5 271.1h0M260.5 253.7h0M242.7 254.1h0M313.6 259.7h0M322.7 252.8h0M267.5 255.3h0M269.3 244.4h0M279.9 258.7h0M247.3 221.5h0M340.7 287.5h0M271.6 260.7h0M273.4 256.7h0M347.1 300.7h0M242.0 269.9h0M309.0 277.9h0M327.9 267.1h0M311.9 270.6h0M315.7 267.8h0M307.3 259.2h0M256.3 250.8h0M271.9 267.8h0M241.6 258.1h0M266.6 248.3h0M287.3 247.9h0M170.7 318.9h0M268.6 261.5h0M286.2 245.3h0M268.5 250.8h0M276.4 247.3h0M233.8 257.4h0M279.2 247.8h0M300.7 250.4h0M262.8 259.9h0M351.7 281.6h0M297.1 258.6h0M264.7 263.1h0M261.2 263.8h0M277.4 251.2h0M306.4 252.5h0M260.3 255.7h0M302.8 262.1h0M324.2 263.4h0M255.1 274.8h0M274.0 254.7h0M263.7 250.3h0M233.9 243.1h0M281.4 256.9h0M261.4 266.8h0M253.4 242.4h0M279.4 257.1h0M209.7 271.7h0M274.3 251.2h0M276.6 241.8h0M307.8 256.6h0M260.5 250.7h0M270.1 252.6h0M261.2 247.4h0M262.3 245.5h0M294.9 260.8h0M275.6 260.1h0M275.3 271.8h0M279.4 245.5h0M201.1 262.0h0M319.6 270.9h0M297.3 255.8h0M286.1 242.9h0M334.1 245.0h0M259.5 248.8h0M265.1 246.2h0M323.0 262.6h0M218.2 285.2h0M283.2 271.5h0M279.6 247.9h0M271.9 258.7h0M267.2 258.5h0M283.0 254.7h0M334.8 273.8h0M256.4 259.5h0M263.7 256.2h0M332.3 219.3h0M353.9 276.3h0M223.6 270.3h0M274.3 259.6h0M325.2 229.2h0M277.9 255.5h0M271.3 252.3h0M257.2 248.6h0" stroke="#7a70b0" stroke-opacity="0.32" stroke-width="2.70" stroke-linecap="round" fill="none"/>
<path d="M233.9 264.8h0M279.0 224.2h0M260.8 243.0h0M267.1 240.1h0M246.9 270.0h0M278.6 227.5h0M234.3 263.0h0M244.1 264.4h0M254.0 265.5h0M236.7 275.9h0M236.9 262.1h0M276.5 230.7h0M264.6 238.1h0M285.3 218.6h0M240.1 276.5h0M292.7 221.1h0M229.2 275.2h0M293.7 220.7h0M232.2 270.0h0M240.0 274.3h0M269.4 236.7h0M278.8 231.7h0M236.1 256.9h0M271.4 237.9h0M297.8 222.1h0M293.4 224.5h0M259.9 241.3h0M258.5 239.0h0M300.5 219.9h0M235.8 261.0h0M262.0 226.1h0M242.4 260.6h0M229.1 278.8h0M317.1 209.9h0M240.8 265.4h0M229.1 280.4h0M316.9 219.0h0M303.3 208.9h0M244.0 274.9h0M272.9 227.1h0M273.0 233.0h0M274.7 223.3h0M264.3 236.7h0M322.6 207.3h0M290.1 206.6h0M237.4 263.7h0M272.2 228.9h0M278.2 237.2h0M265.5 237.8h0M284.7 213.4h0M305.8 219.1h0M280.0 238.8h0M268.1 219.8h0M245.4 269.1h0M275.6 228.0h0M268.2 228.6h0M277.1 237.2h0M292.1 229.5h0M263.0 225.6h0M296.2 208.5h0M246.3 264.8h0M327.3 211.5h0M270.7 232.6h0M275.2 230.9h0M270.4 231.9h0M267.0 250.3h0M237.3 269.1h0M312.9 230.0h0M229.8 268.3h0M245.9 273.1h0M233.8 273.9h0M287.0 213.8h0M238.9 267.4h0M263.9 234.9h0M234.9 273.1h0M286.8 210.5h0M292.2 207.9h0M310.0 212.9h0M261.3 249.6h0M256.4 242.3h0M305.9 221.2h0M273.1 236.0h0M233.4 275.5h0M249.3 271.8h0M240.2 261.7h0M247.0 270.2h0M274.9 236.9h0M271.4 237.7h0M247.1 259.8h0M266.8 246.7h0M236.7 273.6h0M266.8 239.0h0M246.3 275.2h0M266.4 229.2h0M270.4 221.1h0M230.8 266.0h0M232.9 261.3h0M272.9 241.4h0M295.3 203.0h0M232.6 269.0h0M271.5 229.6h0M271.8 224.2h0M279.9 210.8h0M232.8 276.5h0M241.1 275.5h0M276.3 238.9h0M268.2 231.1h0M240.8 274.8h0M274.1 244.9h0M243.7 262.9h0M265.9 216.0h0M270.1 228.6h0M240.9 276.4h0M326.2 207.7h0M310.2 203.8h0M236.3 271.7h0M271.1 226.1h0M233.3 278.6h0M231.7 276.1h0M235.8 271.5h0M279.1 237.5h0M272.7 231.2h0M272.4 229.2h0M266.1 240.3h0M265.6 239.9h0M250.0 267.1h0M269.5 235.1h0M310.6 221.0h0" stroke="#e42a24" stroke-opacity="0.38" stroke-width="2.70" stroke-linecap="round" fill="none"/>
<path d="M272.0 225.7h0M244.4 280.3h0M240.2 264.1h0M240.8 275.3h0M271.2 249.5h0M249.9 284.3h0M275.6 240.3h0M267.0 243.2h0M310.2 196.8h0M301.9 207.6h0M230.9 280.9h0M274.2 227.0h0M239.0 285.2h0M276.9 226.6h0M275.9 227.6h0M238.3 266.8h0M290.0 230.2h0M324.9 193.5h0M287.2 224.7h0M232.0 277.6h0M280.2 212.5h0M303.2 234.3h0M275.5 227.2h0M293.0 223.0h0M274.5 227.2h0M292.7 207.3h0M267.6 236.3h0M284.4 231.7h0M293.5 218.8h0M277.3 222.6h0M239.7 262.4h0M241.4 280.6h0M269.7 241.6h0M274.9 242.6h0M300.5 205.1h0M239.7 272.8h0M239.0 258.4h0M261.2 230.5h0M269.8 238.8h0M288.0 208.5h0M269.0 226.0h0M275.6 219.1h0M262.7 225.1h0M270.1 218.0h0M274.6 232.2h0M243.6 262.6h0M270.5 227.6h0M298.6 209.2h0M278.3 227.3h0M232.3 269.9h0M265.6 248.0h0M267.1 228.4h0M261.0 243.7h0M249.7 265.5h0M309.7 211.2h0M280.6 227.0h0M308.2 208.7h0M241.7 272.9h0M275.9 243.6h0M278.9 221.8h0M264.8 243.4h0M231.6 261.3h0M266.6 228.2h0M316.6 212.8h0M279.9 223.0h0M270.2 240.4h0M273.9 232.5h0M274.8 229.5h0M242.0 272.0h0M275.7 224.8h0M231.3 274.2h0M312.1 206.8h0M268.5 235.7h0M237.4 269.2h0M243.5 261.0h0M247.7 281.5h0M289.5 236.7h0M240.3 267.6h0M283.1 218.3h0M233.3 273.8h0M271.4 241.4h0M275.3 231.2h0M285.6 231.0h0M280.6 233.6h0M294.7 228.6h0M272.3 232.6h0M311.9 209.1h0M236.1 282.6h0M266.8 228.4h0M265.5 241.9h0M294.6 226.0h0M237.1 266.3h0M269.0 231.2h0M237.2 273.1h0M244.2 259.4h0M269.4 231.5h0M258.6 240.4h0M267.0 236.2h0M274.2 233.0h0M265.2 244.9h0M227.8 269.8h0M267.4 235.7h0M304.7 226.3h0M267.0 240.2h0M302.9 206.1h0M272.3 237.3h0M310.8 204.7h0M236.2 273.5h0M272.3 229.5h0M271.0 239.8h0M265.3 215.1h0M283.4 233.9h0M267.5 237.0h0M263.2 230.0h0M271.2 235.5h0M302.3 212.0h0M290.0 229.5h0M247.1 269.8h0M243.4 273.8h0M301.2 202.5h0M269.8 238.1h0M300.7 229.0h0M237.2 273.2h0M229.7 280.3h0M275.3 245.6h0M274.8 225.5h0M263.3 234.4h0M273.4 231.1h0" stroke="#e42a24" stroke-opacity="0.38" stroke-width="2.70" stroke-linecap="round" fill="none"/>
<path d="M236.2 269.5h0M263.8 233.7h0M299.3 196.9h0M276.0 227.1h0M265.6 241.4h0M284.9 236.0h0M270.9 229.1h0M293.0 237.1h0M245.7 268.9h0M299.8 226.2h0M267.4 230.7h0M238.7 269.3h0M267.5 247.7h0M275.6 248.2h0M257.3 235.1h0M292.6 221.2h0M263.4 244.5h0M321.6 219.5h0M306.5 220.5h0M267.3 234.7h0M267.6 245.2h0M266.8 221.1h0M232.1 266.5h0M276.3 226.2h0M320.1 221.8h0M246.9 279.3h0M280.3 255.9h0M320.3 190.0h0M233.2 281.1h0M250.2 268.0h0M264.2 240.8h0M280.6 224.7h0M311.4 211.0h0M269.9 233.3h0M275.3 220.2h0M247.4 271.9h0M234.9 271.6h0M259.9 240.0h0M275.2 226.0h0M238.8 275.4h0M272.7 229.0h0M247.5 266.5h0M238.1 258.2h0M282.3 243.8h0M296.4 219.6h0M252.5 272.0h0M243.8 268.4h0M238.8 282.9h0M278.9 226.8h0M270.5 240.3h0M277.0 222.6h0M237.2 287.6h0M319.6 204.2h0M262.8 230.1h0M277.4 230.0h0M276.0 233.2h0M273.9 234.6h0M276.9 231.2h0M275.9 231.7h0M300.4 212.0h0M242.1 269.7h0M275.4 216.2h0M233.5 274.1h0M245.0 274.9h0M272.5 249.5h0M271.8 215.6h0M238.7 285.2h0M266.5 228.4h0M264.8 231.5h0M271.3 237.0h0M246.5 270.1h0M272.4 241.2h0M316.0 207.5h0M227.9 264.7h0M243.9 265.3h0M275.0 221.1h0M275.6 236.2h0M262.6 235.1h0M273.1 235.0h0M282.9 225.6h0M271.5 230.4h0M247.6 278.7h0M279.2 229.3h0M285.0 225.4h0M270.9 231.3h0M297.8 221.7h0M268.0 254.0h0M240.6 277.6h0M250.6 261.2h0M280.9 232.7h0M269.2 227.0h0M246.3 264.5h0M239.0 267.2h0M300.7 220.7h0M270.2 234.5h0M288.2 224.5h0M268.7 238.1h0M229.0 263.4h0M266.1 227.7h0M312.8 214.9h0M257.5 242.4h0M265.8 223.0h0M268.3 242.4h0M317.4 195.6h0M311.4 196.8h0M271.3 227.1h0M269.3 246.9h0M238.4 274.0h0M279.1 226.3h0M275.7 232.2h0M278.6 220.8h0M297.1 221.3h0M270.8 228.0h0M239.4 276.4h0M256.9 214.8h0M257.7 222.5h0M307.1 234.6h0M267.5 245.7h0M271.8 236.8h0M283.7 231.1h0M260.4 235.4h0M313.5 207.4h0M268.0 257.4h0M234.6 263.1h0M310.6 214.1h0M238.5 273.2h0M274.0 220.4h0M265.1 220.4h0" stroke="#e42a24" stroke-opacity="0.38" stroke-width="2.70" stroke-linecap="round" fill="none"/>
<path d="M267.7 241.7h0M242.0 280.9h0M275.4 237.7h0M267.5 247.3h0M279.4 238.1h0M231.4 269.7h0M239.4 278.0h0M264.3 235.0h0M295.2 218.7h0M277.7 220.4h0M276.9 226.4h0M264.7 224.3h0M281.5 229.6h0M275.4 238.6h0M225.5 273.9h0M269.5 223.3h0M242.0 276.8h0M272.9 232.9h0M276.6 237.0h0M272.7 236.1h0M285.8 218.3h0M268.4 241.2h0M265.2 236.3h0M262.7 239.9h0M275.5 226.7h0M276.6 228.5h0M227.8 273.5h0M272.0 250.4h0M267.2 250.8h0M271.4 233.1h0M272.3 232.5h0M269.3 214.8h0M272.7 238.1h0M276.3 222.6h0M237.2 281.7h0M298.0 201.2h0M302.1 211.4h0M281.9 232.1h0M270.3 232.9h0M270.2 229.7h0M277.9 236.0h0M275.7 244.0h0M273.0 216.6h0M278.7 229.0h0M281.9 229.1h0M275.8 238.2h0M236.5 270.2h0M326.7 184.3h0M230.2 261.6h0M279.5 222.2h0M289.4 216.4h0M266.6 230.1h0M265.0 241.1h0M247.6 261.2h0M245.8 261.4h0M307.6 209.7h0M281.8 218.6h0M236.8 271.4h0M230.4 274.0h0M274.9 219.9h0M297.6 221.2h0M239.3 268.4h0M237.0 283.4h0M238.2 283.9h0M260.8 224.6h0M244.4 277.3h0M264.9 236.3h0M298.1 219.0h0M238.8 270.3h0M248.3 273.8h0M250.6 288.5h0M274.8 213.8h0M265.8 235.2h0M267.0 240.0h0M273.2 236.1h0M268.8 225.9h0M302.6 200.4h0M241.7 268.7h0M245.9 282.2h0M274.0 240.1h0M242.9 280.1h0M272.1 232.5h0M259.3 236.5h0M277.7 233.8h0M243.9 260.4h0M298.1 211.0h0M244.0 267.7h0M269.8 225.8h0M269.0 226.4h0M274.5 249.7h0M283.2 227.4h0M274.3 225.6h0M277.4 235.5h0M295.1 208.1h0M265.6 214.9h0M267.2 232.1h0M303.0 227.8h0M282.3 229.8h0M282.9 221.3h0M237.8 276.7h0M278.0 222.3h0M260.3 242.0h0M235.3 277.0h0M269.9 219.7h0M298.1 215.7h0M274.6 235.9h0M298.3 205.4h0M274.7 232.9h0M261.6 247.5h0M268.9 226.0h0M287.6 224.0h0M307.2 222.2h0M227.6 274.7h0M294.3 220.1h0M267.8 223.1h0M309.1 198.4h0M243.8 273.6h0M237.0 287.5h0M270.3 227.6h0M273.3 220.2h0M318.5 212.3h0M301.4 224.8h0M274.4 232.3h0M263.0 244.6h0M262.5 231.4h0M244.5 275.3h0M266.3 234.9h0M310.6 219.1h0" stroke="#e42a24" stroke-opacity="0.38" stroke-width="2.70" stroke-linecap="round" fill="none"/>
<path d="M269.1 240.9h0M299.4 211.2h0M245.3 268.9h0M227.4 276.6h0M272.8 230.0h0M306.1 202.5h0M305.4 207.5h0M239.4 263.6h0M306.8 205.3h0M276.5 219.3h0M301.6 217.9h0M241.5 273.3h0M299.8 214.1h0M312.5 214.4h0M264.5 234.1h0M315.0 211.4h0M290.4 218.8h0M276.2 229.6h0M293.0 219.9h0M247.7 265.7h0M252.6 251.6h0M270.1 242.5h0M234.2 267.9h0M247.1 259.9h0M280.7 244.6h0M274.3 221.6h0M245.0 270.2h0M236.5 277.0h0M230.7 267.3h0M244.5 264.1h0M249.2 271.2h0M270.9 248.3h0M312.8 205.7h0M244.2 261.1h0M245.0 264.7h0M295.3 214.5h0M234.7 261.2h0M267.8 238.9h0M269.3 220.8h0M241.4 259.1h0M276.4 241.0h0M269.0 249.2h0M241.4 271.9h0M270.3 235.5h0M309.0 200.6h0M267.1 241.1h0M269.4 222.2h0M282.4 238.1h0M292.6 223.7h0M231.3 280.8h0M273.2 225.0h0M304.2 228.6h0M231.8 266.5h0M269.2 241.7h0M320.7 200.6h0M304.3 207.1h0M277.5 225.6h0M265.7 226.5h0M274.4 241.9h0M265.8 240.2h0M237.4 281.7h0M265.4 214.0h0M274.4 237.3h0M283.2 234.4h0M264.9 226.8h0M272.5 228.4h0M304.1 203.0h0M313.9 208.1h0M269.7 227.8h0M269.2 238.1h0M271.2 224.5h0M269.5 223.6h0M243.4 275.3h0M270.3 223.6h0M267.7 233.9h0M266.4 248.2h0M276.0 235.2h0M275.4 216.8h0M268.9 226.1h0M241.9 264.9h0M269.0 224.0h0M270.3 229.3h0M265.2 231.2h0M283.2 239.0h0M277.8 223.3h0M290.7 210.1h0M305.7 183.6h0M257.9 224.9h0M327.4 213.1h0M236.6 277.4h0M274.5 250.6h0M236.3 277.4h0M274.9 251.1h0M275.8 221.3h0M285.3 234.5h0M269.9 229.5h0M239.7 275.0h0M279.6 226.1h0M268.1 239.6h0M261.6 238.1h0M267.7 225.3h0M246.5 267.0h0M238.3 269.8h0M259.0 232.9h0M269.9 220.1h0M271.1 231.9h0M234.7 276.0h0M280.1 227.5h0M242.9 278.0h0M277.3 230.6h0M263.7 243.4h0M276.0 238.6h0M240.8 262.0h0M269.8 220.2h0M268.3 241.9h0M262.7 244.9h0M242.9 280.5h0M278.0 224.8h0M243.3 261.7h0M262.4 224.7h0M293.5 211.7h0M304.6 219.5h0M233.6 282.7h0M290.2 221.8h0M282.4 220.7h0M239.8 269.0h0M305.3 221.0h0M303.2 223.4h0" stroke="#e42a24" stroke-opacity="0.38" stroke-width="2.70" stroke-linecap="round" fill="none"/>
<path d="M285.4 240.2h0M400.0 173.2h0M273.5 220.0h0M296.5 224.3h0M349.0 124.1h0M339.5 179.6h0M286.4 268.7h0M330.0 210.2h0M332.9 147.8h0M408.7 96.3h0M407.8 132.1h0M301.7 231.0h0M208.6 318.7h0M132.3 307.0h0M302.1 249.3h0M355.6 145.5h0M371.9 249.5h0M267.3 215.1h0M295.7 123.8h0M327.5 207.0h0M449.2 126.4h0M374.3 123.8h0M255.5 182.4h0M293.9 258.2h0M367.4 135.7h0M322.3 196.1h0M465.1 153.1h0M340.7 199.9h0M286.1 202.3h0M291.6 156.4h0M283.9 249.9h0M318.8 128.1h0M357.5 202.5h0M255.2 231.7h0M326.2 206.5h0M282.1 237.1h0M446.1 125.6h0M275.3 351.9h0M181.2 283.8h0M299.3 209.0h0M328.4 227.1h0M239.3 218.4h0M331.1 224.6h0M286.6 239.4h0M250.0 240.5h0M204.7 273.8h0M334.7 240.1h0M269.6 242.0h0M349.2 189.1h0M310.5 148.6h0M335.9 205.2h0M180.1 311.2h0M319.3 182.0h0M326.8 164.2h0M278.4 271.0h0M198.2 305.7h0M279.0 317.6h0M278.8 199.8h0M393.8 134.8h0M463.7 159.3h0M329.6 161.5h0M279.1 207.2h0M370.5 197.7h0M353.2 112.7h0M334.5 195.9h0M313.7 188.9h0M145.5 309.7h0M196.0 348.8h0M272.6 215.5h0M248.6 236.8h0M153.6 315.9h0M364.3 252.0h0M160.7 324.4h0M403.3 173.8h0M345.5 196.8h0M379.2 183.6h0M308.5 185.9h0M245.3 173.5h0M386.1 111.6h0M317.8 166.3h0M188.9 316.2h0M191.0 328.7h0M359.1 165.9h0M327.0 175.8h0M308.6 242.7h0M335.9 186.7h0M437.2 168.1h0M357.2 189.7h0M277.8 177.0h0M343.8 224.3h0M186.0 273.4h0M321.9 199.5h0M374.8 115.6h0M370.2 173.3h0M364.4 164.8h0M244.1 252.2h0M384.1 92.0h0M312.0 177.8h0M326.2 252.6h0M384.8 183.1h0M239.3 299.4h0M286.7 185.9h0M325.4 133.0h0M385.4 185.8h0M267.0 219.9h0M288.6 236.4h0M320.1 199.6h0M426.4 184.4h0M178.6 325.9h0M301.9 176.6h0M302.7 167.1h0M371.1 184.7h0M310.5 210.1h0M250.8 218.2h0M298.7 205.9h0M295.9 194.3h0M292.2 198.7h0M253.1 310.5h0M348.8 202.3h0M336.2 320.0h0M340.4 165.6h0M270.6 180.7h0M366.4 179.0h0M216.5 364.6h0M281.6 220.0h0M293.5 201.8h0M353.3 134.1h0M277.4 200.9h0M294.3 292.8h0M230.5 319.4h0" stroke="#d83a48" stroke-opacity="0.36" stroke-width="2.70" stroke-linecap="round" fill="none"/>
<path d="M190.3 315.9h0M260.8 295.0h0M304.7 187.0h0M284.5 247.4h0M291.7 205.8h0M315.9 194.5h0M419.0 143.1h0M245.8 242.5h0M455.9 155.0h0M293.2 216.2h0M210.5 328.8h0M423.5 155.9h0M441.1 152.8h0M325.0 152.2h0M360.9 211.2h0M411.5 144.4h0M278.9 223.2h0M293.7 190.4h0M254.6 221.5h0M309.0 207.1h0M288.9 243.1h0M315.0 219.3h0M338.2 175.8h0M358.1 90.1h0M395.0 151.2h0M419.2 160.4h0M203.6 331.8h0M351.7 218.2h0M363.2 167.6h0M179.1 292.6h0M336.7 184.6h0M276.2 308.0h0M229.8 308.5h0M340.2 245.1h0M256.4 226.7h0M307.4 199.9h0M299.9 229.5h0M326.4 208.1h0M176.1 301.8h0M329.7 148.9h0M233.4 190.2h0M355.1 203.0h0M262.0 223.1h0M404.4 217.3h0M322.9 232.3h0M483.3 161.4h0M354.2 154.4h0M365.2 188.8h0M308.4 239.7h0M289.2 320.2h0M211.1 269.6h0M311.5 180.0h0M413.3 134.5h0M403.1 178.8h0M244.2 189.5h0M348.1 162.4h0M342.0 164.7h0M383.3 173.3h0M305.9 222.5h0M358.3 185.3h0M354.2 189.8h0M221.2 193.4h0M319.8 179.1h0M412.8 184.0h0M173.8 277.4h0M266.4 215.4h0M276.5 224.8h0M327.4 307.2h0M298.7 124.0h0M329.1 154.4h0M336.6 209.0h0M240.7 217.8h0M292.7 228.4h0M364.8 216.1h0M389.9 165.0h0M373.3 181.1h0M226.2 308.4h0M379.3 145.8h0M293.4 179.5h0M270.7 215.9h0M372.2 179.2h0M427.7 151.3h0M382.1 215.9h0M345.0 210.2h0M353.8 241.8h0M311.5 221.9h0M373.0 188.5h0M263.7 250.3h0M340.3 208.3h0M291.5 158.7h0M272.7 237.4h0M475.9 173.2h0M278.2 325.9h0M265.6 243.1h0M290.7 197.0h0M354.5 142.5h0M186.4 342.8h0M367.6 181.6h0M336.3 174.3h0M306.2 219.6h0M179.7 363.6h0M312.1 199.6h0M331.1 263.7h0M347.1 131.9h0M207.0 330.8h0M349.9 205.5h0M440.1 146.7h0M169.0 341.5h0M309.7 189.9h0M181.3 407.3h0M338.4 199.0h0M332.1 234.6h0M195.0 312.5h0M229.7 203.2h0M299.1 297.3h0M291.0 193.3h0M333.4 243.1h0M208.3 320.9h0M332.2 139.7h0M374.5 210.1h0M238.3 335.2h0M98.0 342.4h0M188.8 320.6h0M282.3 236.4h0M312.9 228.8h0M429.5 118.7h0M353.5 201.7h0M278.8 208.7h0M315.0 162.8h0M353.1 151.1h0" stroke="#d83a48" stroke-opacity="0.36" stroke-width="2.70" stroke-linecap="round" fill="none"/>
<path d="M316.3 323.1h0M392.0 181.2h0M324.1 205.6h0M311.2 122.1h0M394.6 179.3h0M173.3 308.0h0M350.7 236.4h0M383.3 149.2h0M202.9 346.0h0M319.0 158.2h0M338.8 217.9h0M289.6 236.5h0M289.6 221.5h0M362.2 165.2h0M225.5 311.9h0M380.0 139.6h0M307.8 285.7h0M270.3 240.8h0M333.1 178.1h0M290.1 212.2h0M418.4 141.8h0M326.2 232.5h0M382.6 210.5h0M320.2 192.9h0M336.0 222.1h0M295.2 228.2h0M284.2 243.5h0M288.9 218.8h0M302.9 262.4h0M184.7 339.2h0M346.0 210.7h0M182.7 295.4h0M375.6 190.2h0M290.8 221.0h0M273.2 228.5h0M325.2 301.5h0M290.6 220.3h0M454.8 129.7h0M333.2 242.7h0M212.7 367.3h0M292.9 159.3h0M355.4 206.5h0M371.4 116.6h0M308.3 122.2h0M301.0 190.8h0M315.2 216.7h0M182.0 305.7h0M424.5 190.4h0M254.5 181.8h0M292.8 212.0h0M297.2 167.6h0M289.4 203.7h0M378.4 138.0h0M312.9 156.7h0M347.7 224.9h0M319.1 195.8h0M378.3 141.6h0M310.6 209.2h0M379.9 182.3h0M240.6 306.4h0M278.5 150.9h0M285.3 223.7h0M329.7 164.9h0M306.6 179.3h0M357.6 195.5h0M322.8 214.7h0M399.0 131.1h0M342.4 222.1h0M301.1 243.9h0M346.8 217.8h0M294.9 251.3h0M278.4 237.8h0M298.6 226.0h0M376.6 164.2h0M285.7 353.5h0M348.0 177.9h0M291.8 292.7h0M273.6 244.9h0M401.7 132.4h0M179.5 350.6h0M410.9 203.8h0M283.3 236.4h0M314.9 180.4h0M209.3 357.0h0M304.6 181.7h0M394.1 167.7h0M294.6 213.5h0M372.4 102.5h0M436.7 174.3h0M279.2 207.6h0M315.5 210.5h0M314.4 127.5h0M277.5 234.9h0M141.6 335.7h0M491.7 133.6h0M281.9 234.0h0M217.3 376.8h0M322.9 266.3h0M303.9 278.1h0M314.7 195.0h0M172.4 302.8h0M286.7 200.2h0M391.4 161.0h0M222.7 310.6h0M310.6 145.9h0M234.9 246.6h0M255.5 234.7h0M303.2 198.4h0M134.8 352.0h0M418.0 130.5h0M378.9 107.6h0M196.1 311.0h0M279.7 213.4h0M432.4 150.8h0M484.9 149.2h0M309.4 219.8h0M288.6 200.9h0M328.8 175.1h0M175.3 303.3h0M323.3 166.1h0M353.6 147.4h0M340.4 190.1h0M289.6 200.3h0M287.0 190.8h0M292.3 203.5h0M298.4 191.3h0M314.7 191.4h0M294.5 287.5h0M284.4 228.6h0M309.5 222.2h0" stroke="#d83a48" stroke-opacity="0.36" stroke-width="2.70" stroke-linecap="round" fill="none"/>
<path d="M344.9 169.9h0M345.2 193.8h0M338.6 162.1h0M284.5 220.2h0M399.2 159.0h0M332.2 228.7h0M348.7 190.0h0M323.6 202.9h0M321.6 314.1h0M291.7 232.8h0M276.0 209.8h0M265.4 187.5h0M405.4 150.2h0M175.9 281.7h0M300.8 188.6h0M355.6 129.0h0M323.6 312.9h0M313.9 156.4h0M310.7 196.5h0M281.5 299.6h0M304.2 193.9h0M382.8 161.7h0M316.0 211.0h0M274.9 245.1h0M468.1 183.1h0M396.7 206.4h0M197.8 329.0h0M277.1 217.0h0M331.7 222.2h0M392.4 195.1h0M303.8 240.0h0M307.1 218.9h0M319.5 214.2h0M412.4 141.8h0M418.2 147.6h0M405.6 134.2h0M290.9 216.2h0M343.5 157.7h0M277.9 312.4h0M326.2 183.2h0M288.3 187.9h0M396.1 174.7h0M322.8 219.6h0M368.2 141.5h0M298.5 226.0h0M392.3 139.7h0M302.2 235.3h0M321.6 223.7h0M268.2 259.4h0M280.2 273.6h0M202.0 394.6h0M309.8 197.4h0M224.9 338.7h0M327.8 211.5h0M376.6 150.4h0M396.1 122.1h0M314.8 194.1h0M155.7 346.9h0M186.0 372.5h0M361.0 156.8h0M353.0 207.7h0M436.3 172.1h0M288.1 223.8h0M391.6 142.6h0M299.7 196.6h0M402.5 219.0h0M151.5 367.5h0M343.9 55.2h0M181.3 316.6h0M418.5 102.1h0M374.9 125.3h0M302.4 236.1h0M325.3 227.5h0M282.7 293.3h0M145.3 316.8h0M274.2 201.1h0M304.4 143.7h0M221.3 263.0h0M317.6 187.1h0M266.2 212.1h0M338.2 142.7h0M293.8 183.6h0M321.2 303.3h0M311.7 145.6h0M299.3 236.6h0M178.9 298.0h0M222.7 266.2h0M342.3 175.6h0M362.7 119.0h0M305.1 240.7h0M292.8 146.9h0M300.9 210.8h0M319.9 157.5h0M172.6 293.7h0M322.3 317.6h0M207.7 315.5h0M219.7 294.1h0M415.7 130.5h0M316.5 188.7h0M364.4 216.3h0M341.1 130.7h0M425.2 105.1h0M310.6 204.9h0M429.4 153.7h0M294.6 337.5h0M295.7 237.7h0M364.0 202.9h0M309.3 216.0h0M422.5 146.1h0M336.7 222.0h0M358.9 187.1h0M309.0 208.5h0M375.7 139.6h0M353.1 209.5h0M149.6 301.0h0M323.0 208.3h0M426.0 117.8h0M314.7 211.3h0M243.7 325.8h0M213.4 295.9h0M395.9 85.4h0M418.3 184.1h0M395.8 207.8h0M337.8 135.0h0M199.5 316.1h0M194.9 364.5h0M271.3 242.0h0M375.6 125.1h0M204.1 316.5h0M195.7 316.9h0" stroke="#d83a48" stroke-opacity="0.36" stroke-width="2.70" stroke-linecap="round" fill="none"/>
<path d="M271.6 232.3h0M214.4 272.7h0M253.5 229.1h0M365.8 152.3h0M379.7 123.0h0M177.8 325.1h0M427.1 127.7h0M330.6 197.2h0M283.9 260.0h0M311.0 194.9h0M276.6 232.2h0M302.9 195.4h0M280.5 285.5h0M253.9 247.3h0M406.5 145.8h0M361.8 191.0h0M400.4 116.0h0M301.8 207.0h0M367.8 169.2h0M294.0 176.8h0M345.4 187.5h0M374.5 214.5h0M402.1 150.5h0M321.2 229.8h0M278.1 215.3h0M180.5 278.0h0M327.0 201.7h0M317.5 227.6h0M305.6 230.4h0M418.4 179.0h0M411.4 177.7h0M256.7 227.2h0M273.2 204.6h0M439.0 156.6h0M183.2 301.2h0M290.3 258.9h0M386.9 232.2h0M296.2 198.6h0M291.5 144.6h0M263.3 230.3h0M317.1 216.5h0M236.5 280.5h0M377.5 152.5h0M295.6 176.0h0M286.4 205.6h0M220.1 301.5h0M329.2 211.8h0M329.7 150.5h0M167.5 316.5h0M353.4 202.6h0M305.8 208.8h0M285.6 232.6h0M181.3 372.9h0M293.2 274.6h0M308.8 170.0h0M269.9 234.1h0M270.9 293.7h0M331.7 184.4h0M221.3 304.9h0M350.4 89.7h0M216.5 334.3h0M309.7 191.7h0M202.6 358.2h0M314.3 258.7h0M398.3 165.5h0M373.9 163.7h0M191.5 339.8h0M352.4 145.9h0M350.1 200.4h0M302.8 218.5h0M452.0 142.8h0M350.1 198.7h0M454.6 199.4h0M162.1 342.8h0M303.6 197.2h0M260.0 175.8h0M394.9 130.4h0M380.6 147.1h0M349.1 148.3h0M170.3 299.7h0M277.6 234.7h0M183.0 318.8h0M310.3 199.0h0M317.6 203.5h0M336.2 208.2h0M313.2 216.8h0M328.2 206.1h0M334.5 150.6h0M351.3 154.2h0M355.8 225.4h0M459.1 130.9h0M320.9 195.8h0M269.3 261.5h0M187.7 312.3h0M466.8 112.1h0M295.0 216.5h0M337.0 174.0h0M253.1 239.2h0M310.2 220.4h0M396.2 185.0h0M423.6 90.5h0M373.9 142.7h0M294.8 240.4h0M423.0 153.8h0M292.4 203.7h0M232.6 211.4h0M278.7 193.4h0M327.0 194.9h0M308.6 194.9h0M324.9 186.4h0M223.2 304.6h0M328.0 238.2h0M343.4 207.0h0M273.5 188.1h0M298.7 181.6h0M387.8 177.7h0M294.0 178.7h0M218.2 301.4h0M315.4 157.9h0M176.2 321.1h0M290.9 244.4h0M303.5 202.3h0M297.2 297.2h0M263.1 220.4h0M291.0 210.0h0M332.8 120.7h0M353.3 181.9h0M193.8 277.4h0M401.5 104.8h0M325.5 187.8h0" stroke="#d83a48" stroke-opacity="0.36" stroke-width="2.70" stroke-linecap="round" fill="none"/>
<path d="M245.2 850.6h0M257.7 711.5h0M211.4 765.2h0M274.8 685.2h0M236.0 816.8h0M220.0 739.1h0M260.4 816.7h0M209.1 740.0h0M250.0 711.4h0M242.8 726.9h0M256.5 782.5h0M251.3 705.8h0M248.8 700.2h0M211.7 738.6h0M167.5 604.6h0M271.0 694.0h0M282.4 754.9h0M221.7 756.4h0M206.4 713.4h0M234.7 691.3h0M273.8 792.8h0M236.6 780.5h0M238.2 696.6h0M239.4 825.5h0M190.1 663.7h0M252.0 706.6h0M243.2 912.4h0M205.3 805.5h0M283.4 731.6h0M270.0 756.6h0M300.1 775.8h0M234.4 728.7h0M247.7 751.9h0M267.2 796.3h0M228.7 625.3h0M252.8 693.6h0M245.0 757.7h0M202.0 739.6h0M250.7 749.0h0M285.9 810.2h0M241.9 819.7h0M241.8 884.0h0M251.6 694.5h0M256.6 757.3h0M239.9 757.4h0M223.9 712.9h0M284.1 741.2h0M264.4 749.9h0M216.6 636.4h0M255.6 724.8h0M249.1 845.0h0M230.5 712.3h0M186.0 694.4h0M225.3 804.6h0M253.3 821.0h0M260.4 814.2h0M230.2 715.2h0M224.0 742.3h0M256.4 712.0h0M226.3 763.0h0M253.8 743.7h0M214.7 819.3h0M253.0 821.4h0M206.7 740.4h0M269.5 749.3h0M228.3 791.5h0M243.2 796.4h0M191.6 741.4h0M212.6 753.6h0M297.4 765.9h0M183.2 689.5h0M261.7 800.6h0M269.3 693.7h0M218.8 713.9h0M279.1 742.9h0M214.9 709.5h0M213.4 739.9h0M231.8 733.0h0M217.0 833.3h0M271.9 730.1h0M194.2 736.8h0M219.7 764.5h0M249.4 795.7h0M225.6 659.3h0M221.0 763.9h0M222.4 764.6h0M202.7 680.0h0M192.1 669.0h0M275.0 711.0h0M204.8 722.0h0M221.5 830.5h0M263.4 798.3h0M282.0 759.2h0M248.8 863.3h0M287.1 769.5h0M217.8 780.6h0M216.6 759.8h0M241.8 836.7h0M234.9 718.0h0M245.5 680.9h0M246.9 881.5h0M254.9 774.0h0M269.6 772.3h0M231.0 760.8h0M246.6 692.0h0M242.2 777.1h0M269.9 839.1h0M270.1 752.0h0M186.3 723.8h0M262.9 806.9h0M235.1 755.9h0M244.6 857.7h0M252.0 706.4h0M220.6 701.5h0M280.9 754.6h0M280.0 799.5h0M230.0 779.7h0M289.2 711.7h0M261.5 662.5h0M252.2 751.1h0M275.2 733.3h0M198.6 810.0h0M262.7 839.4h0M283.4 736.1h0M224.1 682.7h0M252.1 791.8h0M240.9 700.4h0M206.8 775.0h0M246.1 814.9h0M266.2 701.2h0M282.2 729.7h0M228.0 731.7h0M274.9 746.1h0M205.7 769.7h0M212.1 694.2h0M255.3 709.3h0M194.1 752.1h0M252.6 779.5h0M267.9 778.6h0M229.9 820.8h0M209.0 664.4h0M300.4 807.8h0M284.7 718.9h0M231.9 718.4h0M278.0 737.6h0M245.8 736.5h0M237.3 742.1h0M267.3 705.3h0M250.1 693.6h0M237.6 731.2h0M218.1 692.4h0M206.7 725.3h0M261.2 746.1h0M214.1 727.0h0M226.3 699.1h0M203.2 736.5h0M230.7 781.4h0M229.9 855.4h0M188.8 752.8h0M271.1 772.5h0M238.5 708.1h0M240.8 713.0h0M299.3 810.9h0M268.5 755.8h0M234.5 792.3h0M209.2 678.1h0M257.2 728.4h0M253.5 713.4h0M277.6 761.5h0M261.6 663.7h0M209.4 774.8h0M223.4 868.0h0M245.4 813.3h0M287.9 767.6h0M239.4 725.3h0M258.9 708.0h0M246.0 811.0h0M232.0 845.0h0M275.2 707.1h0M227.7 729.5h0M235.9 696.4h0M209.2 708.8h0M229.6 713.9h0M264.3 712.8h0M230.7 849.6h0M268.1 725.8h0M219.5 733.7h0M237.4 718.9h0M238.1 791.1h0M248.3 720.8h0M197.3 737.1h0M286.4 713.8h0M276.0 826.6h0M285.0 794.7h0M230.5 749.5h0M238.1 888.0h0M233.9 829.8h0M234.1 707.7h0M232.2 705.8h0M248.9 816.0h0M272.6 743.1h0M196.8 766.1h0M273.9 776.6h0M275.4 757.5h0M270.4 737.1h0M291.4 751.5h0M242.2 840.7h0M290.8 680.3h0M263.1 831.0h0M246.4 837.4h0M213.3 641.6h0M256.8 788.5h0M269.1 824.2h0M279.3 839.7h0M258.1 822.5h0M236.9 748.2h0M248.9 705.9h0M240.8 734.6h0M217.4 751.0h0M253.0 705.0h0M247.6 821.5h0M230.1 689.9h0M237.0 852.0h0M275.3 781.2h0M254.5 843.5h0M219.5 660.7h0M248.9 701.7h0M210.0 713.0h0M244.0 708.3h0M212.3 738.5h0M207.9 763.2h0M254.5 758.1h0M260.1 744.3h0M251.0 792.6h0M251.9 783.2h0M221.8 760.3h0M235.3 773.9h0M249.8 876.7h0M251.2 693.1h0M282.5 721.7h0M224.0 841.4h0M220.0 793.4h0M218.1 677.1h0M233.8 807.8h0M309.2 769.2h0M224.2 729.7h0M247.2 743.5h0M230.5 838.7h0M261.5 805.2h0M248.9 762.0h0M263.1 615.8h0M204.1 642.5h0M251.0 767.8h0M215.7 708.5h0M246.0 722.5h0M240.3 699.1h0M284.4 735.9h0M213.7 698.8h0M258.2 832.2h0M245.8 719.8h0M247.6 752.0h0M261.5 761.3h0M255.1 844.3h0M253.1 826.6h0M225.1 762.3h0M268.9 747.5h0M233.4 787.3h0M254.4 754.2h0M240.9 732.2h0M349.0 710.0h0M284.7 733.4h0M213.3 896.4h0M234.6 850.0h0M225.3 751.8h0M230.9 768.3h0M244.1 890.1h0M238.2 873.4h0M238.1 809.7h0M225.6 707.9h0M276.9 716.3h0M335.0 734.3h0M109.6 801.6h0M211.3 692.4h0M259.5 761.0h0M271.6 758.3h0M320.6 718.0h0M215.0 674.9h0M246.4 696.9h0M263.5 756.6h0M221.7 753.9h0M243.2 644.6h0M244.0 703.6h0M289.1 730.7h0M243.7 753.3h0M229.1 743.7h0M261.8 721.4h0M239.7 702.9h0M302.1 790.4h0M263.1 828.3h0M267.3 735.2h0M257.6 732.8h0M274.3 708.0h0M248.9 826.6h0M256.3 711.5h0M223.7 722.2h0M221.5 716.9h0M295.1 756.3h0M225.8 804.7h0M204.9 732.4h0M257.4 635.5h0M283.4 722.1h0M236.3 746.5h0M216.0 743.7h0M284.6 780.7h0M259.3 709.5h0M272.3 778.3h0M250.9 758.0h0M247.7 755.2h0M235.4 766.5h0M239.2 698.1h0M235.7 847.7h0M249.1 839.8h0M205.4 780.4h0M206.6 746.1h0M245.9 808.3h0M218.2 731.4h0M227.6 775.4h0M229.7 817.9h0M263.3 790.8h0M262.9 794.5h0M296.8 696.9h0M230.8 725.7h0M221.9 794.0h0M232.5 705.0h0M269.0 757.5h0M254.2 835.7h0M322.0 714.3h0M237.4 790.8h0M239.8 852.0h0M249.3 862.3h0M286.6 744.8h0M210.8 805.6h0M214.2 728.8h0M266.4 814.6h0M253.5 735.1h0M235.1 737.1h0M269.1 715.5h0M239.4 693.2h0M232.6 733.4h0M285.0 713.8h0M220.4 816.5h0M271.9 773.9h0M215.3 702.9h0M230.7 823.7h0M230.4 649.2h0M253.4 689.2h0M303.9 801.8h0M254.5 736.4h0M217.1 715.0h0M252.1 699.8h0M225.5 737.7h0M276.9 714.9h0M282.7 723.5h0M281.6 798.5h0M243.9 842.4h0M247.6 791.8h0M258.5 711.9h0M257.9 694.2h0M212.6 766.6h0M275.6 772.4h0M247.4 752.8h0M215.8 713.2h0M263.1 741.5h0M234.6 787.2h0M215.6 641.2h0M263.3 694.1h0M283.6 770.2h0M209.0 815.1h0M232.0 761.7h0M232.3 750.6h0M251.0 737.9h0M242.3 765.2h0M225.1 766.3h0M245.1 845.2h0M233.0 750.2h0M258.2 696.8h0M212.8 727.7h0M230.2 827.0h0M293.9 742.6h0M228.8 727.9h0M240.8 696.5h0M256.5 703.8h0M215.9 666.6h0M249.0 883.0h0M204.1 788.1h0M216.4 709.4h0M237.5 849.9h0M245.9 697.3h0M215.7 775.6h0M280.6 684.7h0M281.2 729.9h0M274.3 768.2h0M230.2 712.2h0M217.9 797.0h0M216.3 694.3h0M246.0 797.6h0M225.0 671.7h0M239.5 878.3h0M275.2 731.8h0" stroke="#a8a8a8" stroke-opacity="0.45" stroke-width="3.40" stroke-linecap="round" fill="none"/>
<path d="M270.3 835.4h0M246.9 836.4h0M247.3 694.2h0M228.1 697.5h0M246.0 779.1h0M242.8 743.4h0M244.2 825.6h0M281.7 778.0h0M245.5 814.0h0M246.4 749.5h0M196.1 745.7h0M264.3 664.0h0M270.5 809.0h0M275.5 771.6h0M241.5 707.5h0M257.8 733.8h0M260.3 723.6h0M230.5 724.0h0M266.2 768.7h0M272.6 710.3h0M256.8 736.5h0M294.7 779.7h0M258.1 826.8h0M199.1 794.6h0M251.8 690.4h0M239.5 733.2h0M226.5 687.3h0M261.4 807.9h0M214.0 719.1h0M212.4 767.6h0M252.1 798.4h0M206.6 762.4h0M265.2 765.6h0M227.1 697.4h0M274.1 772.6h0M286.4 803.7h0M253.9 728.1h0M256.8 797.0h0M219.7 734.8h0M256.3 856.8h0M295.9 760.6h0M262.3 716.1h0M235.4 775.7h0M231.5 667.1h0M214.2 721.8h0M272.9 800.4h0M238.8 793.1h0M268.4 789.4h0M310.0 739.2h0M212.8 649.2h0M269.6 689.8h0M216.0 790.9h0M262.9 858.5h0M236.9 769.0h0M254.5 756.6h0M230.0 828.4h0M236.1 786.3h0M220.6 709.6h0M265.8 752.6h0M236.8 759.8h0M244.2 791.0h0M281.3 736.1h0M291.1 765.6h0M245.7 809.8h0M203.8 681.3h0M328.9 676.2h0M247.7 869.3h0M267.7 747.8h0M204.7 778.6h0M251.4 716.4h0M282.1 719.9h0M230.7 824.1h0M230.2 713.9h0M197.8 713.3h0M243.5 830.6h0M204.7 723.7h0M216.2 647.9h0M262.6 834.5h0M241.0 778.6h0M236.9 671.8h0M264.2 791.8h0M216.4 796.8h0M283.4 683.1h0M233.6 703.3h0M268.9 836.9h0M208.9 870.3h0M215.5 696.0h0M183.8 779.5h0M253.1 774.4h0M237.1 894.7h0M219.3 732.0h0M239.6 818.5h0M300.9 699.2h0M227.1 750.4h0M284.6 773.3h0M204.3 705.9h0M259.0 829.0h0M205.5 854.0h0M228.4 799.7h0M229.0 748.6h0M232.1 723.4h0M268.1 844.9h0M253.6 798.0h0M252.4 706.4h0M216.7 719.1h0M269.8 800.9h0M219.6 710.1h0M238.1 749.9h0M241.1 740.2h0M241.5 803.1h0M216.0 744.5h0M280.2 707.7h0M216.4 653.0h0M250.1 704.9h0M212.5 761.9h0M252.4 738.5h0M215.9 711.6h0M204.8 749.5h0M289.9 754.3h0M254.5 815.5h0M252.1 800.5h0M282.9 745.9h0M275.9 741.6h0M230.4 817.2h0M194.7 671.5h0M247.4 799.7h0M281.8 759.2h0M203.5 736.7h0M225.6 718.2h0M218.3 735.0h0M292.5 725.4h0M220.9 727.2h0M235.2 808.3h0M238.5 789.2h0M271.1 726.1h0M215.8 667.7h0M248.8 739.6h0M238.8 737.0h0M272.8 767.1h0M230.1 702.7h0M227.9 759.4h0M268.0 737.0h0M237.6 841.4h0M250.6 782.0h0M250.6 707.9h0M223.2 809.9h0M257.6 790.7h0M240.5 832.9h0M198.5 760.2h0M246.9 775.2h0M208.9 695.6h0M290.1 735.2h0M261.7 759.3h0M263.6 695.8h0M252.4 707.5h0M250.6 716.4h0M227.0 825.3h0M246.9 839.2h0M237.7 734.8h0M229.7 774.8h0M209.9 790.9h0M262.9 848.9h0M232.4 761.1h0M276.8 713.7h0M228.8 794.9h0M266.2 761.3h0M203.7 792.3h0M257.7 751.7h0M192.1 793.2h0M193.0 741.6h0M280.6 735.3h0M239.4 742.6h0M237.5 807.4h0M254.4 782.1h0M217.5 690.1h0M294.6 755.6h0M223.0 868.1h0M219.0 736.9h0M204.7 708.3h0M270.8 802.7h0M233.3 784.9h0M219.2 716.0h0M254.3 819.9h0M278.3 784.7h0M262.5 719.8h0M194.8 800.5h0M223.2 677.0h0M204.9 628.7h0M210.9 754.3h0M275.8 647.2h0M189.5 740.1h0M236.2 827.8h0M203.3 755.3h0M221.3 780.8h0M240.3 705.7h0M275.2 713.9h0M250.7 766.1h0M217.1 709.4h0M261.5 729.7h0M235.2 749.6h0M221.3 658.0h0M243.1 705.3h0M248.2 831.4h0M256.2 709.0h0M283.6 785.0h0M253.7 790.4h0M215.5 846.7h0M220.8 748.0h0M216.3 745.9h0M233.9 667.6h0M231.6 700.2h0M210.8 737.1h0M223.9 798.4h0M281.8 755.6h0M247.6 708.9h0M297.7 719.8h0M246.3 808.7h0M229.8 709.4h0M254.0 813.2h0M250.1 695.2h0M285.0 782.8h0M205.6 699.2h0M216.1 804.2h0M235.7 778.4h0M230.8 715.1h0M244.3 737.1h0M228.2 764.7h0M232.7 703.8h0M281.3 707.1h0M289.3 706.4h0M258.4 704.6h0M252.8 769.7h0M208.6 754.6h0M278.6 766.9h0M246.6 832.3h0M244.1 744.3h0M239.1 745.2h0M233.8 758.0h0M257.7 796.2h0M240.2 681.9h0M262.4 806.0h0M252.2 700.9h0M209.6 760.5h0M236.1 771.4h0M276.4 698.9h0M263.0 713.7h0M226.0 693.5h0M229.1 778.9h0M203.8 682.5h0M293.1 713.4h0M237.4 767.7h0M211.5 702.4h0M288.2 765.2h0M260.6 752.3h0M247.6 781.8h0M246.2 712.7h0M239.3 713.2h0M234.8 744.0h0M218.1 764.9h0M274.9 759.0h0M267.2 681.0h0M209.2 774.6h0M220.1 732.7h0M247.5 742.8h0M271.4 691.9h0M201.0 727.1h0M212.3 647.7h0M215.3 755.5h0M263.6 811.6h0M261.7 768.8h0M242.1 797.9h0M232.2 781.0h0M181.2 825.2h0M268.0 870.8h0M247.9 878.6h0M249.4 735.9h0M284.3 764.6h0M275.7 757.9h0M262.2 848.3h0M255.1 783.8h0M236.2 793.8h0M262.0 836.3h0M197.9 751.0h0M322.2 748.6h0M259.0 750.9h0M209.3 728.2h0M216.0 696.0h0M252.8 833.6h0M214.7 784.9h0M231.5 779.8h0M234.2 722.7h0M211.2 746.7h0M249.7 762.1h0M246.7 705.8h0M231.6 668.0h0M200.2 729.5h0M238.9 735.2h0M202.9 674.9h0M237.4 781.1h0M263.6 741.7h0M256.3 838.8h0M233.0 763.4h0M256.1 811.3h0M289.6 746.9h0M237.5 777.2h0M268.0 769.0h0M245.4 697.6h0M288.3 724.2h0M281.1 752.1h0M223.2 707.4h0M285.9 719.0h0M235.9 769.6h0M227.2 742.9h0M255.3 706.0h0M211.6 773.4h0M197.2 722.7h0M253.1 778.0h0M277.2 675.8h0M222.6 767.8h0M296.0 756.3h0M189.2 650.6h0M204.2 730.2h0M219.5 739.3h0M269.8 697.1h0M227.9 772.3h0M213.4 694.6h0M217.1 769.8h0M257.6 790.5h0M254.6 714.2h0M232.9 768.2h0M242.1 727.5h0M268.1 804.2h0M235.1 705.6h0M253.4 714.1h0M233.6 709.5h0M258.1 823.0h0M236.5 712.9h0M253.4 846.2h0M211.5 727.2h0M255.2 717.8h0M213.3 714.2h0M251.7 719.6h0M235.5 712.3h0M251.0 730.5h0M220.5 722.6h0M272.9 768.1h0M236.7 698.9h0M240.3 823.2h0M253.5 854.3h0M194.2 786.4h0M257.4 742.5h0M261.3 712.9h0M247.3 731.5h0M217.5 701.6h0M214.3 738.4h0M257.6 752.7h0M297.3 716.1h0M271.6 731.9h0M213.1 729.2h0M248.7 742.4h0M247.0 831.7h0M258.9 810.0h0M274.8 793.2h0M258.8 701.2h0M195.3 709.5h0M256.5 736.0h0M230.3 738.0h0M231.0 912.7h0M258.8 799.0h0M218.6 712.9h0M247.4 898.3h0M275.7 695.8h0M250.4 795.9h0M287.4 705.0h0M217.6 698.6h0M263.0 762.9h0M189.6 714.6h0M228.2 741.1h0M269.9 774.5h0M243.2 863.3h0M247.0 702.4h0M240.5 789.3h0M267.5 836.4h0M246.2 668.3h0M253.2 858.0h0M229.5 676.7h0M288.0 773.3h0M280.7 774.0h0M259.1 799.4h0M216.9 726.2h0M246.3 840.7h0M246.2 702.0h0M282.6 748.9h0M283.5 751.5h0M263.8 771.8h0M248.6 829.4h0M211.4 718.3h0M264.1 707.5h0M250.5 714.1h0M213.0 769.4h0M243.0 752.8h0M283.2 769.1h0M257.6 729.5h0M287.5 708.0h0M281.0 731.3h0M260.4 813.2h0M242.5 727.3h0M219.7 757.0h0M239.9 714.1h0" stroke="#a8a8a8" stroke-opacity="0.45" stroke-width="3.40" stroke-linecap="round" fill="none"/>
<path d="M320.3 668.8h0M210.2 806.4h0M255.3 699.7h0M209.1 814.6h0M216.2 738.2h0M281.2 770.9h0M232.1 739.9h0M222.9 739.7h0M229.5 724.3h0M255.7 835.8h0M222.5 747.7h0M212.5 765.1h0M234.5 745.5h0M186.8 694.7h0M262.7 805.4h0M198.1 786.3h0M258.8 715.1h0M210.9 748.2h0M260.2 814.5h0M236.8 800.7h0M238.6 865.2h0M272.1 708.6h0M223.4 746.0h0M252.0 860.8h0M281.3 727.0h0M244.0 747.8h0M233.7 748.8h0M262.5 716.9h0M230.4 818.5h0M203.0 758.5h0M193.5 650.5h0M229.9 770.2h0M227.4 645.4h0M234.4 758.2h0M300.2 742.4h0M195.6 766.9h0M223.1 829.7h0M190.3 723.9h0M248.6 767.4h0M227.1 753.3h0M228.2 692.2h0M256.4 849.7h0M238.8 775.3h0M298.8 764.5h0M236.9 685.1h0M248.1 830.7h0M299.4 720.6h0M199.6 714.5h0M217.9 748.1h0M271.6 754.9h0M192.1 705.4h0M181.5 657.4h0M232.2 688.9h0M275.9 712.1h0M296.9 733.0h0M230.2 738.3h0M283.6 726.8h0M298.3 766.6h0M254.8 758.4h0M244.2 830.4h0M264.4 768.3h0M263.6 738.8h0M247.4 874.1h0M178.9 768.6h0M233.3 781.1h0M261.0 683.4h0M246.0 730.5h0M251.1 845.4h0M225.1 840.5h0M182.2 691.8h0M241.7 855.1h0M238.4 665.3h0M275.7 748.9h0M225.6 722.5h0M231.2 758.8h0M224.7 712.7h0M216.1 735.5h0M283.2 731.6h0M277.3 748.5h0M297.4 721.2h0M215.9 750.7h0M241.2 716.7h0M231.7 703.8h0M195.8 846.6h0M202.8 652.8h0M249.1 710.5h0M258.0 763.9h0M279.5 820.1h0M197.8 767.3h0M187.4 662.0h0M225.2 718.8h0M237.1 707.3h0M251.7 827.5h0M253.8 708.2h0M246.5 818.8h0M223.0 784.6h0M214.7 746.3h0M255.0 723.3h0M240.3 748.1h0M163.7 648.4h0M284.3 736.9h0M234.6 707.8h0M211.9 716.9h0M265.0 756.5h0M250.5 878.0h0M252.7 843.5h0M284.1 752.9h0M192.1 722.3h0M232.5 805.6h0M219.8 654.4h0M248.7 704.3h0M229.5 845.3h0M259.9 829.4h0M233.6 724.1h0M285.2 730.4h0M250.4 770.5h0M240.3 751.8h0M251.5 766.8h0M266.5 818.4h0M263.4 848.3h0M261.1 758.3h0M203.3 737.0h0M209.3 717.4h0M248.7 811.0h0M263.7 713.4h0M161.4 813.3h0M272.1 725.7h0M285.2 685.6h0M218.5 651.9h0M248.9 731.4h0M214.0 697.9h0M194.0 769.4h0M228.3 734.5h0M229.7 854.4h0M202.2 754.2h0M213.7 712.6h0M214.8 733.1h0M244.3 733.3h0M259.5 783.2h0M255.2 802.7h0M222.2 738.7h0M236.3 771.3h0M251.1 757.1h0M197.8 690.9h0M309.2 736.8h0M235.1 863.6h0M249.2 837.3h0M290.0 753.5h0M278.4 798.0h0M292.9 771.2h0M250.0 793.1h0M223.9 672.9h0M201.7 711.7h0M207.6 729.7h0M195.2 722.1h0M297.5 736.4h0M214.6 724.9h0M235.8 789.8h0M245.5 707.5h0M293.4 751.1h0M319.8 782.4h0M205.2 770.7h0M255.6 758.9h0M217.5 644.3h0M239.1 694.4h0M252.5 699.4h0M211.2 710.1h0M176.4 707.0h0M202.8 777.4h0M237.2 739.7h0M271.0 862.2h0M237.1 770.1h0M222.7 657.6h0M217.5 770.7h0M242.5 835.8h0M289.3 681.3h0M232.1 753.6h0M195.4 733.0h0M236.0 702.7h0M246.6 817.4h0M217.7 673.4h0M198.8 744.9h0M245.4 744.9h0M278.6 771.3h0M263.7 826.4h0M238.1 704.8h0M204.7 698.0h0M224.0 709.9h0M231.7 640.2h0M283.8 749.3h0M239.6 875.2h0M272.3 734.1h0M200.8 862.6h0M273.8 754.7h0M209.9 735.4h0M242.3 908.0h0M220.8 751.7h0M276.5 738.8h0M279.2 716.5h0M289.1 728.7h0M234.1 760.9h0M295.8 735.2h0M251.0 752.8h0M248.8 865.7h0M250.7 683.4h0M202.9 711.8h0M269.5 776.2h0M277.7 817.1h0M268.0 725.5h0M259.0 700.6h0M241.0 683.0h0M241.4 743.2h0M222.6 704.9h0M252.2 815.1h0M212.8 775.1h0M213.0 798.9h0M240.7 871.5h0M250.4 703.6h0M219.2 720.7h0M292.4 720.5h0M257.8 786.5h0M233.6 761.5h0M268.8 743.1h0M234.6 835.6h0M199.2 691.6h0M254.5 822.6h0M234.7 843.2h0M225.6 767.0h0M202.5 715.1h0M237.2 723.3h0M280.3 763.0h0M276.0 807.1h0M233.9 784.2h0M250.9 795.4h0M237.5 853.1h0M249.5 721.0h0M148.4 688.8h0M246.3 765.3h0M237.2 686.5h0M292.1 742.6h0M240.0 697.2h0M268.1 730.6h0M240.1 769.0h0M266.9 817.5h0M210.2 750.9h0M232.9 666.9h0M244.9 854.9h0M225.0 712.3h0M206.7 745.7h0M202.1 723.8h0M243.1 732.3h0M284.3 702.7h0M200.2 728.8h0M203.8 667.8h0M242.5 732.1h0M248.2 886.5h0M229.7 717.1h0M277.1 772.9h0M238.1 829.0h0M213.3 725.7h0M222.3 758.9h0M222.0 700.3h0M241.6 843.0h0M279.3 765.0h0M240.7 708.7h0M250.7 887.3h0M243.3 699.0h0M215.2 752.0h0M249.9 805.9h0M230.4 707.6h0M285.0 730.3h0M172.6 678.6h0M207.4 805.7h0M238.4 709.5h0M210.0 741.2h0M242.5 700.3h0M244.6 881.8h0M240.6 825.1h0M234.1 829.1h0M250.1 712.0h0M257.8 741.9h0M224.5 741.0h0M170.3 774.5h0M288.7 790.2h0M271.9 709.5h0M267.7 753.7h0M211.4 715.4h0M308.8 694.7h0M260.4 734.0h0M228.3 775.6h0M257.7 752.6h0M249.3 707.2h0M253.0 831.3h0M267.7 665.7h0M227.9 774.0h0M218.4 709.1h0M277.9 719.5h0M212.1 705.3h0M266.9 731.2h0M220.8 647.0h0M208.7 737.2h0M237.3 702.8h0M233.2 853.8h0M233.4 792.8h0M199.3 711.9h0M239.6 773.8h0M244.0 853.1h0M277.9 754.3h0M250.9 725.4h0M233.2 820.4h0M202.2 744.3h0M224.7 706.5h0M257.6 783.5h0M238.1 763.0h0M240.1 739.1h0M241.1 809.4h0M218.4 753.1h0M274.2 725.5h0M259.3 757.3h0M248.6 713.3h0M223.3 782.0h0M221.8 744.2h0M231.5 789.8h0M210.8 663.7h0M245.4 840.8h0M220.8 646.6h0M291.0 733.7h0M249.9 706.8h0M251.4 699.9h0M256.4 752.9h0M247.0 705.3h0M220.8 738.9h0M246.2 740.4h0M259.0 758.1h0M246.3 795.0h0M249.6 876.7h0M210.1 778.6h0M238.7 833.2h0M267.1 794.9h0M219.0 717.3h0M221.8 699.5h0M259.3 748.4h0M252.5 706.5h0M228.4 819.2h0M238.9 768.7h0M210.0 690.2h0M214.5 745.5h0M230.7 786.1h0M217.7 690.8h0M287.1 750.9h0M248.7 707.6h0M245.5 755.6h0M223.6 757.0h0M267.2 701.9h0M275.3 746.5h0M240.3 715.8h0M229.0 779.4h0M216.7 746.2h0M258.0 686.3h0M248.8 792.7h0M226.3 761.6h0M247.3 833.0h0M242.4 773.0h0M241.6 691.5h0M272.1 818.2h0M257.5 756.8h0M257.7 762.8h0M195.2 744.9h0M234.3 646.8h0M212.3 757.6h0M240.1 677.9h0M270.4 818.6h0M286.3 719.2h0M199.9 739.7h0M242.8 686.9h0M253.4 842.1h0M219.5 732.7h0M225.2 710.0h0M268.3 838.1h0M222.8 737.2h0M255.5 686.0h0M209.9 738.0h0M224.9 765.2h0M284.2 703.7h0M195.4 746.9h0M199.3 738.0h0M214.0 724.3h0M296.7 745.4h0M261.8 700.2h0M258.4 840.5h0M183.8 741.7h0M204.9 809.2h0M229.6 721.3h0M253.8 785.7h0M229.9 749.0h0M228.3 706.7h0M229.7 752.6h0M251.8 719.4h0M208.6 818.1h0M244.2 788.6h0M234.1 725.5h0M239.4 770.4h0M270.1 706.4h0M248.2 767.5h0M233.4 818.7h0M244.9 699.9h0M214.0 703.3h0M340.8 755.0h0M191.3 696.9h0" stroke="#a8a8a8" stroke-opacity="0.45" stroke-width="3.40" stroke-linecap="round" fill="none"/>
<path d="M236.3 791.7h0M245.9 713.1h0M259.2 808.4h0M243.8 851.4h0M245.6 851.2h0M259.1 725.2h0M266.6 720.6h0M237.3 713.1h0M268.5 753.3h0M250.7 787.6h0M270.3 733.2h0M244.7 853.2h0M243.5 837.4h0M234.3 766.1h0M245.9 819.1h0M226.8 789.8h0M244.1 799.3h0M243.0 781.0h0M247.4 718.6h0M227.1 743.4h0M236.1 826.2h0M255.5 797.5h0M250.8 784.9h0M260.3 761.8h0M245.3 801.3h0M253.3 748.5h0M241.3 847.9h0M245.9 781.8h0M251.8 750.4h0M243.2 752.6h0M254.6 742.5h0M252.7 735.0h0M259.3 802.7h0M237.9 824.5h0M256.0 817.6h0M242.4 847.8h0M243.4 837.7h0M248.9 809.4h0M242.3 830.2h0M237.9 813.6h0M257.2 745.7h0M242.5 775.2h0M253.0 738.9h0M256.7 813.8h0M237.6 820.1h0M237.6 725.8h0M238.9 740.5h0M248.0 825.7h0M246.6 850.7h0M250.3 831.7h0M239.2 758.4h0M239.6 778.0h0M248.0 837.4h0M262.8 782.4h0M261.8 758.3h0M247.9 736.3h0M235.6 799.1h0M232.8 807.4h0M234.0 714.5h0M248.2 755.8h0M242.2 839.7h0M236.5 798.9h0M261.1 763.2h0M249.0 727.6h0M256.4 743.3h0M244.8 784.8h0M249.7 794.2h0M243.1 836.5h0M234.6 792.3h0M259.3 770.1h0M244.1 816.5h0M255.0 775.0h0M246.9 820.7h0M236.2 723.7h0M233.0 750.1h0M234.3 785.1h0M240.0 833.0h0M233.2 816.9h0M239.3 820.8h0M257.0 789.1h0M238.1 824.8h0M242.4 728.1h0M241.4 848.8h0M263.7 764.3h0M257.1 714.5h0M262.5 797.5h0M248.2 726.5h0M252.7 827.6h0M236.4 821.8h0M255.2 761.5h0M230.2 754.0h0M237.1 806.7h0M236.7 744.2h0M225.7 753.6h0M237.8 771.3h0M248.8 827.7h0M248.4 794.1h0M231.4 783.7h0M239.4 775.8h0M257.5 772.2h0M255.8 811.7h0M246.3 846.8h0M239.2 787.3h0M235.1 730.4h0M255.0 807.9h0M232.7 785.7h0M252.6 763.9h0M235.1 790.7h0M248.4 807.4h0M234.2 771.9h0M270.3 742.4h0M233.3 750.2h0M247.9 792.2h0M244.2 825.9h0M237.3 785.7h0M247.6 803.8h0M250.2 767.1h0M251.9 791.0h0M237.4 840.4h0M237.5 842.1h0M241.5 847.4h0M249.4 757.6h0M247.2 840.7h0M252.9 819.3h0M245.6 774.6h0M264.5 785.6h0M255.1 787.5h0M241.2 761.9h0M245.5 839.7h0M249.5 742.1h0M262.9 758.9h0M252.7 802.4h0M252.1 786.0h0M248.8 829.8h0M265.2 733.3h0M239.5 823.5h0M241.4 837.5h0M247.4 810.0h0M259.6 732.2h0M258.1 765.4h0M243.7 715.3h0M236.2 797.4h0M244.3 822.4h0M241.0 818.5h0M262.4 765.2h0M254.0 803.2h0M239.1 793.9h0M256.7 774.4h0M239.0 820.9h0M238.7 796.8h0M248.7 829.7h0M263.7 718.4h0M242.7 813.6h0M245.5 790.6h0M235.5 740.8h0M235.7 776.8h0M251.5 835.4h0M252.9 761.9h0M235.5 815.6h0M248.0 850.0h0M250.6 804.6h0M242.1 725.8h0M242.6 786.6h0M254.7 727.7h0M245.7 765.4h0M261.5 782.9h0M237.2 787.6h0M237.4 832.3h0M230.9 715.3h0M246.1 711.1h0M247.7 749.3h0M253.0 817.9h0M250.4 815.1h0M251.6 714.7h0M270.1 756.3h0M250.1 759.2h0M251.7 810.0h0M257.6 824.6h0M245.3 749.4h0M225.3 732.4h0M242.9 819.6h0M249.3 723.3h0M248.7 719.9h0M246.0 845.3h0M243.7 822.4h0M253.4 816.5h0M245.2 762.2h0M250.0 710.9h0M239.9 824.6h0M255.4 770.0h0M248.3 841.5h0M258.6 766.5h0M235.9 808.7h0M239.7 741.8h0M245.4 811.4h0M233.9 746.8h0M251.4 810.3h0M242.3 710.7h0M244.4 801.5h0M248.9 840.5h0M261.5 758.4h0M263.9 761.4h0M240.3 799.4h0M242.3 732.9h0M246.6 851.1h0M243.9 824.6h0M255.7 809.7h0M234.5 772.6h0M244.5 819.6h0M247.1 717.1h0M241.9 831.1h0M254.6 755.7h0M240.4 764.6h0M243.9 815.4h0M256.1 755.3h0M241.5 837.0h0M259.9 731.3h0M242.3 844.3h0M260.1 758.4h0M255.8 763.5h0M240.4 798.0h0M242.9 843.1h0M240.7 730.0h0M228.3 809.7h0M241.6 745.1h0M232.4 767.3h0M238.6 774.8h0M241.1 726.0h0M240.7 746.5h0M244.6 851.3h0M246.2 842.0h0M232.5 730.4h0M262.5 784.5h0M240.1 743.8h0M246.4 778.3h0M239.4 719.5h0M246.4 786.7h0M241.2 835.6h0M238.9 805.3h0M235.5 774.6h0M243.4 741.4h0M248.3 779.5h0M248.4 800.2h0M231.7 727.7h0M256.4 766.1h0M256.8 819.9h0M230.9 765.1h0M255.3 830.1h0M241.6 852.4h0M242.3 840.5h0M241.6 814.1h0M248.2 842.8h0M253.3 765.1h0M242.3 823.0h0M246.2 726.5h0M250.0 734.2h0M252.3 828.4h0M254.7 815.1h0M239.9 770.9h0M251.4 813.1h0M231.6 759.2h0M243.9 764.2h0M251.4 775.4h0M250.4 797.8h0M250.2 838.2h0M250.5 819.7h0M264.7 756.5h0M231.2 761.0h0M254.7 741.7h0M243.6 852.4h0M246.8 724.2h0M239.7 773.3h0M231.9 723.6h0M252.3 833.5h0M250.7 732.5h0M246.9 819.7h0M258.8 750.4h0M254.1 830.3h0M254.9 716.9h0M253.6 773.9h0M271.6 775.6h0M247.8 734.4h0M236.3 733.5h0M260.7 759.1h0M237.8 818.4h0M250.9 750.1h0M236.6 792.4h0M263.5 720.8h0M226.4 719.4h0M246.2 843.0h0M254.4 825.5h0M262.6 765.1h0M257.9 742.0h0M256.7 777.4h0M239.6 778.1h0M245.7 841.6h0M252.1 816.2h0M260.0 713.0h0M242.7 828.9h0M227.5 728.2h0M234.7 815.2h0M252.8 814.5h0M242.8 853.4h0M245.2 771.9h0M261.7 763.6h0M240.1 825.6h0M243.7 829.6h0M234.6 758.0h0M234.5 803.7h0M240.7 841.1h0M242.4 729.0h0M254.0 756.2h0M247.6 834.9h0M245.4 853.9h0M254.0 756.4h0M230.7 747.4h0M240.5 729.2h0M252.5 817.6h0M246.5 844.9h0M244.6 722.1h0M232.3 754.1h0M246.9 848.3h0M250.8 826.7h0M266.6 743.9h0M230.3 799.8h0M226.8 729.7h0M243.4 851.8h0M250.9 796.8h0M254.0 770.9h0M227.6 735.6h0M239.5 838.8h0M245.7 747.9h0M236.9 735.6h0M244.3 834.4h0M253.8 804.9h0M248.8 745.2h0M243.3 841.2h0M238.2 733.4h0M236.5 801.8h0M251.6 762.3h0M260.2 797.3h0M245.7 767.7h0M233.5 738.0h0M255.3 751.1h0M254.5 789.0h0M245.2 807.6h0M239.6 829.7h0M246.9 835.0h0M240.8 828.7h0M253.9 824.7h0M249.6 792.7h0M231.5 778.7h0M258.8 721.9h0M230.6 768.8h0M232.9 804.7h0M262.7 767.8h0M268.1 711.1h0M261.7 737.7h0M240.8 834.2h0M238.9 828.0h0M266.3 797.6h0M231.9 799.5h0M238.0 765.2h0M240.2 849.5h0M238.7 762.3h0M249.7 816.6h0M253.5 771.3h0M228.6 775.9h0M249.5 760.5h0M242.6 850.3h0M223.2 747.5h0M237.9 724.7h0M240.0 842.2h0M234.2 749.8h0M233.0 750.3h0M263.7 743.3h0M250.3 843.5h0M245.0 771.7h0M262.0 738.3h0M243.9 850.5h0M258.6 820.3h0M240.3 827.9h0M235.3 755.9h0M241.1 743.1h0M247.2 845.8h0M238.0 804.3h0M255.8 717.8h0M236.7 830.1h0M232.9 777.5h0M236.0 712.3h0M260.2 792.7h0M251.5 719.9h0M229.8 735.9h0M264.6 715.0h0M252.1 768.1h0M236.9 718.1h0M237.6 797.1h0M241.5 764.2h0M249.2 796.3h0M248.4 838.8h0M235.4 831.0h0M242.3 785.6h0M246.3 805.6h0M239.1 752.6h0M252.4 736.1h0M240.9 767.3h0M258.7 770.1h0M249.0 737.3h0M263.7 732.6h0M239.2 811.2h0M259.9 712.3h0M238.9 775.9h0M231.5 762.3h0M253.8 711.8h0M236.4 807.4h0M256.7 803.9h0M241.3 846.2h0M244.1 824.8h0M251.9 837.9h0M259.7 787.7h0M255.7 744.8h0M257.4 716.6h0M232.3 789.2h0M245.5 808.2h0M242.6 757.1h0M237.2 714.8h0M248.0 760.9h0M228.6 759.1h0M240.2 827.7h0M233.6 739.9h0M243.8 741.1h0M249.6 712.8h0M257.6 748.8h0M234.7 819.3h0M257.6 740.7h0M263.0 731.0h0M240.4 715.7h0M230.7 785.3h0M231.2 784.7h0M237.3 804.5h0M238.3 729.6h0M251.2 822.0h0M244.8 851.5h0M237.5 806.1h0M236.1 750.1h0M224.3 710.5h0M261.4 773.7h0M244.5 785.0h0M241.3 750.5h0M262.3 769.4h0M243.1 722.0h0M234.2 770.9h0M253.2 809.8h0M242.4 762.9h0M260.1 729.4h0M236.1 786.6h0M233.6 790.1h0M259.5 759.8h0M252.2 827.2h0M242.9 849.9h0M253.4 755.8h0M246.9 728.8h0M243.1 759.4h0M234.3 790.8h0M242.4 850.0h0M238.6 817.8h0M242.8 850.9h0M248.0 839.6h0M256.2 721.9h0M239.1 764.8h0M240.0 737.5h0M245.1 826.5h0M245.5 847.9h0M234.1 729.9h0M238.7 813.8h0M238.6 782.8h0M260.0 783.2h0M246.1 849.4h0M242.0 730.3h0M240.6 826.7h0M242.6 839.5h0M246.6 794.4h0M262.0 777.1h0M247.1 815.0h0M241.0 720.4h0M257.4 774.7h0M253.8 773.5h0M263.7 792.3h0M247.4 801.0h0M233.7 772.3h0M252.0 769.3h0M254.7 791.1h0M233.4 742.3h0M254.6 717.3h0M240.5 849.3h0M247.3 827.4h0M251.5 825.4h0M247.1 841.3h0M232.5 798.1h0M252.9 804.5h0M238.3 826.8h0M239.4 796.6h0M237.7 787.1h0M230.1 760.7h0M235.6 826.3h0M237.1 724.6h0M245.5 847.3h0M256.2 804.0h0M240.7 816.0h0M268.9 719.5h0M232.2 711.3h0M256.0 806.1h0M236.9 727.5h0M259.6 808.4h0M251.8 828.2h0M236.2 728.4h0M264.6 711.0h0M252.7 776.8h0M262.9 777.9h0M252.8 829.6h0M229.8 756.1h0M238.3 814.3h0M244.8 843.3h0M243.6 851.4h0M244.8 852.6h0M246.5 850.6h0M243.0 770.9h0M243.2 821.2h0M240.6 842.0h0M243.0 844.5h0M248.3 778.4h0M244.8 712.3h0M241.3 833.9h0M244.5 800.0h0M234.1 757.0h0M261.4 739.3h0M254.5 830.3h0M237.3 810.5h0M246.2 851.3h0M244.4 853.0h0M245.2 846.7h0M249.5 841.7h0M237.4 827.7h0M241.0 844.8h0M246.7 828.7h0M261.5 746.9h0M256.0 748.2h0M262.1 795.8h0M260.0 781.7h0M258.7 796.1h0M230.4 788.4h0M241.2 798.3h0M245.7 774.6h0M232.4 807.4h0M229.5 736.8h0M251.5 773.3h0M232.9 782.4h0M248.9 843.2h0M247.1 842.2h0M243.2 847.4h0M249.7 759.3h0M247.2 718.4h0M269.1 786.4h0M248.3 846.6h0M267.6 787.2h0M260.3 711.1h0M234.8 817.0h0M252.7 809.6h0M233.5 747.9h0M257.6 763.9h0M263.5 759.4h0M239.8 730.3h0M243.7 838.4h0M251.4 787.3h0M267.3 743.3h0M247.7 850.3h0M244.6 814.2h0M241.1 772.2h0M234.4 810.5h0M245.9 838.4h0M242.0 736.9h0M241.4 720.5h0M265.3 732.4h0M245.3 727.6h0M245.0 745.6h0M253.7 795.5h0M245.7 711.7h0M246.0 721.4h0M233.7 807.1h0M245.9 845.2h0M246.1 771.5h0M252.3 812.8h0M233.1 724.2h0M265.9 729.5h0M251.5 772.2h0M259.5 816.3h0M248.6 832.7h0M235.4 770.3h0M242.0 738.8h0M247.9 832.3h0M261.0 799.1h0M256.4 776.6h0M244.2 723.8h0M252.0 751.4h0M241.6 743.0h0M246.0 786.6h0M244.1 772.2h0M261.8 776.6h0M240.2 826.9h0M234.0 808.3h0M246.8 727.0h0M243.0 725.4h0M246.9 780.8h0M253.7 716.6h0M238.4 760.5h0M261.1 716.9h0M269.5 716.2h0M254.6 742.2h0M228.9 763.2h0M263.0 750.0h0M265.2 788.0h0M232.9 782.6h0M260.8 748.8h0M267.1 752.8h0M240.1 790.5h0M245.9 776.6h0M252.8 793.2h0M247.4 784.6h0M249.2 765.8h0M249.1 786.7h0M247.3 825.9h0M258.6 727.1h0M241.5 816.1h0M233.1 716.7h0M264.9 769.1h0M243.4 846.3h0M246.7 725.9h0M262.0 734.4h0M242.6 839.1h0M250.1 721.0h0M230.2 777.4h0M255.1 803.2h0M234.6 812.1h0M237.2 807.5h0M242.8 734.8h0M254.9 813.9h0M247.0 841.8h0M237.5 803.0h0M261.7 796.1h0M257.8 815.6h0M239.2 750.5h0M269.6 726.5h0M232.4 804.4h0M224.0 774.7h0M231.4 772.8h0M235.8 785.1h0M252.9 773.9h0M254.9 816.6h0M248.9 747.9h0M230.4 738.5h0M253.0 820.5h0M244.6 849.6h0M250.1 776.6h0M238.8 738.9h0M243.9 723.7h0M233.3 817.9h0M244.8 852.3h0M242.4 819.9h0M261.8 743.7h0M242.6 844.0h0M228.9 729.2h0M263.1 760.7h0M235.5 733.1h0M244.6 825.9h0M237.9 839.3h0M251.4 804.6h0M254.8 770.9h0M259.0 804.1h0M244.3 744.3h0M245.1 812.3h0M245.6 820.1h0M259.5 719.1h0M235.1 739.2h0M248.7 730.2h0M233.8 765.1h0M254.6 776.0h0M256.8 711.9h0M229.7 756.4h0M239.0 742.6h0M244.7 851.2h0M247.0 763.5h0M245.1 839.0h0M244.7 767.0h0M237.2 730.2h0M234.2 793.6h0M241.9 845.4h0M241.3 846.5h0M243.5 840.5h0M237.8 786.1h0M237.2 819.9h0M248.9 803.9h0M261.8 777.6h0M260.1 794.6h0M256.3 822.5h0M252.4 792.2h0M257.3 800.6h0M245.8 767.8h0M252.7 734.5h0M251.1 827.8h0M266.7 730.0h0M242.7 849.9h0M262.2 793.9h0M245.3 852.1h0M244.5 798.9h0M244.1 785.6h0M248.6 829.8h0M246.5 747.3h0M247.8 844.6h0M235.9 797.2h0M260.6 715.1h0M237.5 834.9h0M265.0 803.3h0M255.1 811.8h0M255.4 833.0h0M246.1 724.2h0M237.2 734.6h0M255.3 716.0h0M256.8 799.5h0M244.3 852.8h0M252.0 825.1h0M259.5 786.1h0M236.4 819.1h0M238.9 838.5h0M239.6 716.0h0M232.1 727.8h0M253.1 829.0h0M254.4 820.6h0M251.5 819.6h0M257.1 824.3h0M243.6 754.0h0M240.9 819.6h0M247.0 821.9h0M249.8 815.3h0M264.5 735.6h0M229.9 746.7h0M245.6 787.4h0M249.2 822.8h0M236.2 716.3h0M240.6 820.4h0M261.3 771.7h0M257.9 783.9h0M246.1 726.7h0M258.3 779.4h0M263.2 710.5h0M246.3 822.4h0M243.5 843.4h0M234.6 716.8h0M240.9 826.3h0M240.9 789.9h0M264.4 746.0h0M235.7 823.0h0M245.8 844.2h0M243.1 852.8h0M244.2 804.5h0M243.4 801.9h0M242.2 850.1h0M255.6 789.8h0M247.2 791.3h0M246.5 815.6h0M238.6 733.8h0M254.4 796.0h0M262.8 782.8h0M240.0 825.5h0M230.9 787.2h0M242.5 807.8h0M249.1 832.4h0M242.3 721.2h0M241.4 828.1h0M260.5 799.9h0M258.4 804.2h0M251.7 730.1h0M250.5 792.3h0M242.7 844.1h0M241.4 831.6h0M247.4 840.9h0M235.6 731.4h0M251.6 799.9h0M248.8 827.0h0M239.9 848.1h0M225.9 760.3h0M237.8 824.1h0M246.5 844.6h0M252.9 786.4h0M259.8 733.8h0M242.6 711.7h0M233.8 722.6h0M230.0 747.8h0M256.6 718.3h0M242.2 846.6h0M260.4 790.5h0" stroke="#a9a9a9" stroke-opacity="0.72" stroke-width="3.60" stroke-linecap="round" fill="none"/>
<path d="M254.7 791.1h0M243.7 733.6h0M244.2 750.2h0M246.7 829.6h0M230.4 736.2h0M267.0 762.6h0M252.5 798.2h0M266.5 767.7h0M260.7 816.0h0M255.0 711.7h0M253.5 837.1h0M243.0 814.0h0M243.5 787.9h0M244.0 853.7h0M244.8 852.9h0M252.7 833.7h0M244.3 813.6h0M228.7 743.1h0M245.2 788.7h0M243.0 821.3h0M233.2 821.1h0M247.8 848.1h0M244.6 753.0h0M251.8 805.9h0M235.4 730.8h0M229.8 791.3h0M250.4 718.2h0M253.2 743.6h0M238.6 736.5h0M248.2 752.2h0M242.9 773.0h0M239.5 844.4h0M250.6 829.8h0M238.4 768.6h0M247.7 813.8h0M245.6 782.7h0M233.2 724.1h0M244.0 835.1h0M258.2 799.9h0M238.9 843.6h0M243.4 823.8h0M235.0 799.1h0M244.0 854.1h0M264.5 767.7h0M265.7 751.1h0M263.5 779.2h0M249.1 785.9h0M240.2 840.4h0M238.0 838.8h0M242.0 851.6h0M240.5 793.9h0M259.4 711.5h0M247.0 746.8h0M239.5 834.0h0M240.5 808.1h0M226.5 771.7h0M238.1 768.2h0M239.0 745.8h0M253.6 713.8h0M270.5 729.1h0M239.3 771.6h0M264.4 772.4h0M267.8 739.7h0M244.2 839.9h0M245.6 839.6h0M240.5 755.7h0M230.4 782.4h0M247.1 803.5h0M248.7 841.4h0M254.6 797.2h0M234.7 789.7h0M238.4 834.9h0M260.6 781.4h0M249.4 804.2h0M238.5 751.4h0M251.9 823.5h0M243.2 766.8h0M243.4 803.0h0M242.2 796.8h0M240.9 830.4h0M241.5 816.5h0M246.9 823.8h0M253.4 758.1h0M254.1 746.1h0M241.9 724.8h0M235.0 742.1h0M238.7 820.9h0M240.7 789.6h0M259.8 786.2h0M241.2 837.2h0M259.8 809.0h0M259.8 789.8h0M245.5 779.3h0M247.7 749.8h0M255.3 804.9h0M237.3 821.1h0M244.5 818.7h0M245.9 713.9h0M248.8 829.6h0M256.4 783.8h0M227.5 756.5h0M256.5 784.1h0M255.2 817.1h0M259.9 793.8h0M235.8 738.8h0M236.8 721.8h0M239.8 817.3h0M251.4 823.4h0M223.4 777.0h0M226.6 762.5h0M245.5 794.6h0M241.7 767.1h0M247.5 816.5h0M243.3 843.3h0M259.2 737.5h0M260.9 735.3h0M263.5 788.5h0M250.6 818.7h0M249.5 724.6h0M244.8 728.1h0M273.2 731.2h0M228.3 716.2h0M236.9 795.9h0M264.5 727.5h0M250.3 841.5h0M242.5 815.7h0M242.0 817.5h0M239.0 754.8h0M244.4 771.8h0M266.5 757.7h0M245.9 842.2h0M239.5 795.7h0M249.1 845.9h0M250.3 831.5h0M253.9 831.5h0M249.6 797.8h0M259.8 744.0h0M248.3 843.3h0M243.6 752.1h0M265.4 789.8h0M241.3 840.1h0M253.9 804.2h0M227.3 729.5h0M261.6 752.5h0M262.7 741.4h0M237.4 792.9h0M242.2 849.0h0M224.5 729.9h0M246.0 807.4h0M261.1 766.7h0M246.2 758.1h0M256.7 727.3h0M243.8 832.1h0M261.4 751.0h0M262.8 726.6h0M256.8 754.2h0M248.2 792.4h0M236.8 740.5h0M239.8 814.6h0M244.0 802.3h0M262.7 774.0h0M253.3 765.9h0M249.2 744.3h0M259.0 820.5h0M259.4 796.5h0M271.9 723.9h0M243.1 849.4h0M262.5 735.3h0M245.5 817.1h0M272.9 728.1h0M241.0 738.9h0M260.5 714.1h0M238.2 769.5h0M255.0 796.6h0M260.6 735.8h0M243.2 852.8h0M259.8 722.0h0M248.2 757.3h0M262.8 790.3h0M231.5 736.4h0M243.7 821.3h0M258.8 765.4h0M231.5 791.7h0M239.9 756.3h0M237.0 787.5h0M234.6 790.2h0M245.7 825.2h0M263.5 721.9h0M234.2 745.6h0M230.7 717.9h0M242.6 742.6h0M260.1 781.1h0M237.7 813.0h0M276.1 735.8h0M258.1 775.4h0M236.1 730.9h0M245.9 831.9h0M268.1 732.4h0M261.4 727.4h0M260.8 742.5h0M267.7 743.2h0M234.7 742.3h0M228.8 803.5h0M240.9 849.6h0M265.3 763.2h0M243.7 789.1h0M245.1 853.0h0M254.8 811.8h0M249.7 826.3h0M260.2 723.7h0M251.0 748.0h0M266.3 746.5h0M244.7 804.5h0M235.7 809.8h0M258.7 756.4h0M251.9 824.3h0M250.3 775.3h0M233.9 748.2h0M251.9 746.2h0M244.3 852.0h0M254.4 811.4h0M250.5 775.6h0M236.0 810.1h0M263.8 714.3h0M248.1 790.7h0M241.8 852.7h0M259.6 731.3h0M260.3 788.1h0M255.9 717.1h0M246.0 834.3h0M255.8 738.1h0M254.7 724.3h0M219.6 772.8h0M265.5 759.0h0M265.0 754.4h0M239.2 820.6h0M260.6 731.5h0M242.6 851.7h0M243.8 848.8h0M265.3 769.1h0M233.1 779.3h0M251.1 842.7h0M228.5 764.2h0M251.3 736.8h0M247.7 718.4h0M242.9 833.7h0M232.4 766.6h0M253.6 727.6h0M236.6 757.7h0M244.9 735.3h0M273.3 713.1h0M263.4 713.7h0M252.4 795.4h0M257.5 803.3h0M239.1 713.0h0M252.4 820.3h0M247.8 772.8h0M254.1 775.4h0M257.1 733.2h0M232.2 769.4h0M249.6 734.8h0M241.6 752.0h0M237.4 783.5h0M247.6 785.1h0M249.6 735.6h0M234.9 798.9h0M265.0 747.5h0M260.5 717.3h0M242.5 734.1h0M248.6 827.6h0M265.1 793.1h0M232.8 818.2h0M240.2 809.6h0M231.2 753.6h0M233.9 714.2h0M248.0 755.9h0M234.5 743.9h0M260.0 765.9h0M237.2 753.0h0M244.1 811.7h0M249.2 811.5h0M230.0 792.7h0M243.2 818.0h0M257.5 809.0h0M230.6 728.2h0M228.3 751.1h0M247.8 826.4h0M233.4 807.3h0M258.6 752.4h0M234.7 759.7h0M232.9 779.7h0M261.8 786.3h0M248.5 834.7h0M246.5 786.4h0M271.3 757.2h0M246.5 783.9h0M244.6 750.8h0M264.4 747.7h0M256.6 809.4h0M229.2 712.4h0M236.0 800.9h0M242.4 814.8h0M265.3 735.8h0M239.2 822.3h0M265.7 718.9h0M258.5 741.0h0M240.8 814.7h0M236.3 750.9h0M260.1 802.0h0M239.7 728.9h0M259.2 765.0h0M246.0 850.4h0M238.5 778.9h0M240.1 793.4h0M248.7 746.6h0M230.8 746.5h0M241.5 840.3h0M260.7 759.7h0M258.6 780.9h0M245.8 841.3h0M249.7 839.9h0M231.7 753.2h0M251.0 817.3h0M252.2 826.8h0M260.3 782.8h0M235.9 824.0h0M262.0 786.5h0M253.2 734.8h0M233.6 759.5h0M238.6 798.6h0M238.7 806.5h0M269.1 712.8h0M242.1 748.5h0M235.4 768.2h0M265.2 764.8h0M252.2 820.7h0M246.7 791.2h0M257.3 812.6h0M250.4 735.1h0M252.9 774.5h0M245.6 827.9h0M242.2 776.6h0M235.7 772.5h0M242.3 851.7h0M253.5 805.5h0M237.4 733.5h0M242.4 828.7h0M250.9 831.5h0M248.0 755.6h0M242.8 832.6h0M240.8 809.4h0M248.9 822.2h0M249.9 843.9h0M250.7 800.3h0M250.3 778.4h0M243.9 767.2h0M231.0 791.3h0M235.7 813.4h0M236.0 787.6h0M256.8 768.8h0M241.6 735.1h0M248.3 836.9h0M244.2 813.3h0M256.4 734.3h0M231.9 794.7h0M228.2 731.8h0M250.5 772.1h0M260.6 777.1h0M234.0 732.8h0M242.5 853.4h0M245.1 727.0h0M239.2 835.7h0M247.4 733.4h0M248.8 835.5h0M254.2 760.0h0M249.4 811.1h0M240.1 770.4h0M250.8 806.3h0M235.9 810.5h0M236.6 803.6h0M244.7 810.5h0M229.4 792.1h0M230.0 791.7h0M247.9 845.1h0M261.5 735.6h0M243.7 710.7h0M255.4 722.2h0M238.6 833.0h0M237.0 797.3h0M262.0 787.7h0M238.0 808.9h0M235.9 791.3h0M250.1 824.8h0M233.9 714.4h0M258.1 810.7h0M244.8 824.3h0M248.3 836.6h0M238.3 787.3h0M235.9 783.7h0M241.9 844.2h0M251.7 756.9h0M244.8 780.5h0M246.8 786.4h0M249.6 831.2h0M247.8 811.4h0M260.4 735.9h0M240.1 838.7h0M245.5 756.1h0M247.1 843.8h0M233.1 819.0h0M225.4 766.3h0M244.7 711.0h0M257.6 733.1h0M248.6 743.5h0M241.9 725.8h0M256.9 712.3h0M236.7 733.7h0M253.2 826.6h0M246.0 783.3h0M245.0 821.0h0M242.8 765.2h0M231.2 777.4h0M249.7 801.8h0M246.2 850.6h0M243.7 767.3h0M259.6 749.0h0M230.8 782.5h0M260.6 783.6h0M240.4 829.1h0M235.5 812.5h0M265.2 743.9h0M252.2 821.3h0M252.6 811.7h0M255.5 781.4h0M242.1 849.0h0M246.6 818.2h0M233.8 785.2h0M237.9 738.9h0M258.8 734.5h0M266.2 744.9h0M242.1 792.9h0M256.0 790.4h0M258.0 778.3h0M235.2 712.6h0M240.6 728.3h0M255.0 778.1h0M252.4 792.9h0M265.1 741.1h0M262.4 713.9h0M255.1 764.4h0M258.5 755.4h0M262.8 789.8h0M254.1 780.4h0M255.5 822.8h0M241.5 835.6h0M241.9 749.5h0M266.9 732.4h0M266.3 781.9h0M227.2 782.4h0M251.1 827.7h0M250.5 835.6h0M252.1 832.7h0M249.3 814.2h0M232.1 817.3h0M245.6 842.5h0M230.7 711.1h0M241.4 849.3h0M245.8 743.0h0M251.9 748.4h0M244.3 759.4h0M236.0 734.8h0M238.3 722.9h0M241.3 849.8h0M224.5 758.5h0M257.5 771.8h0M242.9 837.2h0M258.0 740.0h0M241.5 833.3h0M248.9 728.8h0M243.2 847.5h0M240.4 712.6h0M242.2 849.0h0M256.7 819.2h0M245.9 762.8h0M252.7 813.3h0M246.4 815.7h0M263.8 738.3h0M260.2 765.2h0M270.5 716.6h0M252.0 823.6h0M260.2 808.4h0M239.9 826.7h0M234.2 805.6h0M258.5 721.7h0M235.1 757.0h0M249.9 747.9h0M255.2 829.3h0M258.9 747.2h0M243.7 804.5h0M264.9 719.9h0M250.8 819.2h0M238.7 717.5h0M258.3 747.7h0M266.8 717.1h0M255.0 810.3h0M234.6 822.8h0M248.1 765.8h0M268.8 785.7h0M245.0 852.7h0M254.1 716.9h0M264.6 752.7h0M261.2 775.1h0M244.0 845.0h0M245.4 835.8h0M235.6 792.8h0M238.3 830.3h0M260.7 795.0h0M266.5 753.6h0M258.8 782.5h0M247.5 833.6h0M245.6 790.9h0M230.0 742.3h0M268.2 724.4h0M246.2 838.1h0M239.8 838.0h0M252.5 796.1h0M240.4 818.6h0M250.2 717.6h0M256.3 744.4h0M245.3 844.5h0M234.0 797.0h0M243.1 852.3h0M232.0 789.7h0M239.5 781.8h0M233.4 797.4h0M229.9 753.7h0M244.8 822.3h0M265.3 786.8h0M234.7 783.9h0M243.9 838.1h0M254.4 742.8h0M255.4 747.5h0M241.5 843.6h0M247.8 842.7h0M236.8 777.0h0M264.8 779.6h0M243.0 840.1h0M234.9 710.9h0M246.3 835.0h0M243.1 766.6h0M245.9 841.0h0M242.7 747.0h0M235.2 757.9h0M229.3 775.5h0M258.1 715.8h0M247.8 746.9h0M243.9 745.2h0M228.1 736.6h0M261.1 715.0h0M250.7 788.1h0M246.3 780.8h0M243.0 746.3h0M242.0 850.2h0M250.2 722.6h0M238.2 809.0h0M232.5 822.8h0M246.6 746.7h0M259.9 734.4h0M254.9 827.6h0M242.4 757.2h0M253.5 801.2h0M250.9 770.9h0M262.6 735.5h0M241.4 834.9h0M250.9 809.8h0M248.0 755.4h0M238.9 845.2h0M238.8 740.1h0M259.7 814.0h0M242.5 795.7h0M255.4 797.3h0M239.2 780.4h0M251.3 746.5h0M240.0 739.5h0M241.3 797.8h0M246.3 752.7h0M243.5 851.8h0M266.7 729.6h0M246.3 851.4h0M255.5 809.1h0M256.4 801.8h0M261.7 726.9h0M243.6 809.5h0M241.4 812.5h0M252.1 779.8h0M249.8 841.5h0M244.7 849.9h0M260.2 810.2h0M234.9 743.2h0M235.4 773.1h0M244.6 776.9h0M235.3 737.6h0M233.6 767.2h0M263.9 766.0h0M260.0 716.9h0M238.3 732.9h0M237.2 731.7h0M236.0 780.8h0M252.2 784.9h0M248.6 840.7h0M241.4 798.4h0M248.2 842.3h0M248.6 747.1h0M254.4 770.1h0M255.2 751.6h0M237.5 769.4h0M226.4 738.1h0M249.6 734.6h0M241.5 813.5h0M248.0 765.1h0M267.5 726.9h0M229.4 747.4h0M251.9 716.0h0M236.0 730.9h0M231.0 728.3h0M257.1 809.7h0M234.3 799.9h0M242.2 840.4h0M247.0 819.9h0M241.0 844.8h0M240.3 807.2h0M253.9 781.6h0M251.9 756.5h0M258.7 774.6h0M237.0 782.1h0M250.8 711.4h0M247.6 788.6h0M253.7 772.4h0M237.8 796.2h0M254.9 802.6h0M243.1 752.6h0M248.2 848.9h0M239.1 823.9h0M241.1 737.9h0M242.2 850.7h0M245.4 807.4h0M248.8 817.3h0M262.7 777.7h0M251.1 767.1h0M230.4 732.1h0M249.7 845.7h0M242.6 760.8h0M263.9 719.0h0M254.6 732.2h0M249.2 787.1h0M269.8 723.2h0M264.7 781.9h0M256.7 754.8h0M259.2 713.2h0M247.7 837.0h0M250.8 812.0h0M237.0 727.3h0M245.7 804.4h0M245.5 830.5h0M247.2 848.2h0M241.7 849.8h0M249.3 749.4h0M257.6 796.2h0M251.8 766.3h0M254.3 815.6h0M238.0 759.7h0M244.5 817.5h0M266.7 775.5h0M260.5 796.6h0M252.9 828.1h0M230.2 765.1h0M238.7 740.8h0M254.5 743.5h0M255.7 796.7h0M258.8 734.5h0M252.5 806.2h0M248.4 728.6h0M259.4 762.4h0M241.5 803.6h0M255.3 749.9h0M247.2 727.3h0M242.5 751.9h0M270.8 755.9h0M244.0 717.0h0M264.3 797.5h0M235.5 779.4h0M238.4 769.0h0M242.3 838.8h0M239.5 727.0h0M256.6 781.5h0M227.3 779.4h0M246.7 825.8h0M239.9 738.8h0M239.6 742.1h0M245.5 826.5h0M234.6 738.9h0M240.8 817.2h0M249.4 826.8h0M247.3 849.6h0M239.9 840.5h0M245.5 827.7h0M249.9 732.0h0M260.6 712.6h0M239.7 772.2h0M263.6 732.0h0M246.9 791.0h0M258.6 786.0h0M241.9 848.6h0M245.2 806.0h0M242.4 852.0h0M244.9 810.4h0M259.0 751.1h0M247.4 849.7h0M258.1 779.8h0M242.6 732.5h0M250.1 838.1h0M245.6 761.7h0M245.9 839.9h0M254.2 770.6h0M265.1 720.2h0M260.0 748.0h0M260.2 785.9h0M250.8 786.6h0M252.9 822.5h0M243.6 797.7h0M254.3 766.5h0M247.9 835.0h0M237.1 827.6h0M252.4 826.9h0M256.7 795.9h0M261.9 765.4h0M228.8 785.3h0M240.5 722.0h0M241.7 828.5h0M253.8 720.0h0M238.8 720.9h0M232.2 803.6h0M238.3 718.8h0M255.1 759.9h0M259.8 765.4h0M255.4 790.7h0M253.0 731.9h0M231.6 743.0h0M238.1 837.8h0M251.7 824.9h0M232.0 798.9h0M265.8 721.0h0M242.7 849.0h0M235.4 739.5h0M258.4 741.9h0M246.8 849.3h0M256.4 811.3h0M253.6 784.0h0M267.2 721.0h0M246.2 835.6h0M240.7 752.2h0M256.6 793.9h0M252.5 803.3h0M232.8 762.2h0M254.1 793.9h0M255.0 759.0h0M254.0 803.7h0M244.8 770.0h0M231.8 730.6h0M233.8 788.8h0M253.2 834.8h0M238.0 711.7h0M235.4 748.5h0M240.5 746.0h0M256.9 767.5h0M268.0 783.9h0M231.8 812.3h0M270.3 742.8h0M264.4 711.4h0M260.0 818.6h0M265.8 778.9h0M247.4 721.8h0M248.7 840.5h0M266.1 784.5h0M248.1 748.5h0M242.4 718.3h0M244.5 735.7h0M237.3 801.2h0M243.1 836.3h0M251.1 784.8h0M233.6 715.2h0M225.8 711.6h0M253.0 796.6h0M250.7 837.3h0M270.3 781.3h0M253.8 767.0h0M255.4 739.6h0M232.9 790.7h0M241.1 834.5h0M242.8 808.7h0" stroke="#a9a9a9" stroke-opacity="0.72" stroke-width="3.60" stroke-linecap="round" fill="none"/>
<path d="M240.1 752.1h0M264.8 719.1h0M249.3 769.5h0M236.1 804.6h0M262.0 720.6h0M240.2 756.3h0M247.7 730.4h0M240.5 766.4h0M228.0 727.6h0M250.3 714.9h0M242.9 835.3h0M244.1 854.0h0M248.3 718.5h0M270.3 712.4h0M239.2 746.4h0M241.0 784.4h0M260.9 773.4h0M248.2 798.3h0M240.0 825.0h0M245.1 833.3h0M246.5 794.1h0M265.3 716.3h0M244.7 791.4h0M245.7 799.4h0M261.1 735.7h0M241.5 746.9h0M254.8 780.4h0M261.6 784.1h0M240.9 847.9h0M259.1 728.7h0M231.8 748.0h0M252.1 761.8h0M247.3 821.8h0M239.3 729.0h0M257.3 735.9h0M248.2 780.0h0M235.5 768.4h0M235.9 824.9h0M235.0 800.3h0M245.6 769.3h0M245.2 792.1h0M240.0 843.5h0M241.8 847.3h0M230.2 788.3h0M253.3 732.6h0M240.8 816.0h0M232.8 782.8h0M233.3 715.5h0M263.2 801.4h0M241.6 834.9h0M247.0 790.6h0M250.3 780.7h0M255.4 715.9h0M251.5 722.5h0M239.0 743.8h0M230.3 791.6h0M230.8 788.4h0M228.5 749.8h0M263.9 712.8h0M248.2 725.2h0M252.1 713.8h0M246.2 803.0h0M258.0 793.2h0M254.8 726.2h0M229.5 739.9h0M246.7 845.9h0M239.0 830.0h0M243.4 852.8h0M234.6 748.2h0M243.8 826.4h0M240.5 845.1h0M261.2 714.8h0M252.4 831.8h0M247.5 719.2h0M243.4 815.1h0M265.3 770.3h0M248.4 746.4h0M239.0 810.8h0M255.3 733.6h0M254.4 780.2h0M236.7 724.8h0M245.2 805.8h0M228.9 788.1h0M240.8 710.5h0M240.0 773.7h0M237.4 836.3h0M232.7 755.9h0M238.0 722.5h0M239.0 726.7h0M237.5 751.7h0M253.1 809.4h0M234.5 770.1h0M238.5 748.9h0M252.4 764.6h0M262.6 742.6h0M237.5 807.2h0M251.3 829.0h0M263.6 789.6h0M256.8 805.1h0M232.5 754.6h0M233.9 800.9h0M232.8 774.6h0M227.6 753.6h0M230.1 719.3h0M242.9 779.2h0M271.0 761.3h0M263.7 751.6h0M254.1 750.0h0M230.4 770.8h0M245.9 801.4h0M249.9 801.3h0M243.9 800.5h0M242.8 845.6h0M246.0 716.9h0M244.5 835.3h0M250.2 778.9h0M241.4 823.3h0M259.0 720.7h0M262.6 782.2h0M248.6 716.0h0M246.8 788.7h0M266.1 759.5h0M266.2 710.9h0M232.7 805.7h0M245.9 793.4h0M243.6 813.1h0M235.2 778.4h0M254.0 792.6h0M240.0 844.7h0M234.6 785.8h0M232.3 752.3h0M253.3 803.7h0M261.8 721.8h0M228.7 752.6h0M262.5 807.6h0M249.6 812.8h0M237.3 845.5h0M251.5 824.4h0M230.2 751.3h0M252.6 798.8h0M235.1 799.1h0M246.5 827.9h0M248.5 768.1h0M234.8 720.4h0M248.0 733.1h0M250.2 817.3h0M259.4 815.9h0M246.1 761.3h0M262.2 769.6h0M231.2 749.2h0M259.1 749.6h0M244.0 842.3h0M260.8 730.7h0M233.3 715.8h0M261.9 767.8h0M239.8 807.8h0M239.0 727.4h0M238.4 717.7h0M239.3 770.6h0M249.9 798.6h0M237.3 815.5h0M250.3 737.0h0M234.3 822.0h0M246.4 837.4h0M248.6 838.9h0M258.1 792.2h0M272.8 782.2h0M247.0 796.7h0M262.4 750.5h0M241.2 843.2h0M244.7 715.2h0M246.8 833.5h0M260.3 731.7h0M232.5 756.0h0M256.6 819.3h0M240.1 731.9h0M243.8 797.5h0M252.3 812.1h0M249.2 843.6h0M225.1 742.3h0M243.0 785.5h0M242.6 713.9h0M245.1 837.8h0M245.5 773.6h0M231.9 713.8h0M250.2 725.7h0M256.4 822.5h0M254.1 834.4h0M244.7 789.6h0M249.2 833.7h0M271.6 716.0h0M235.3 821.2h0M231.5 742.0h0M241.4 813.4h0M270.8 724.8h0M247.7 816.6h0M234.3 793.8h0M258.6 771.7h0M258.7 801.3h0M257.5 765.0h0M256.0 720.8h0M240.0 812.9h0M255.5 767.0h0M259.3 799.6h0M251.8 774.1h0M246.5 852.3h0M259.1 767.2h0M247.4 784.8h0M237.3 812.4h0M246.4 826.9h0M247.6 830.7h0M245.5 762.9h0M238.9 796.7h0M233.7 760.2h0M236.7 820.3h0M248.7 786.7h0M251.0 821.7h0M231.3 785.7h0M243.2 745.3h0M231.3 768.2h0M247.0 727.3h0M240.1 715.8h0M238.9 835.0h0M239.3 795.1h0M257.3 733.8h0M233.7 794.4h0M262.4 777.8h0M227.3 740.7h0M233.9 747.9h0M252.0 743.6h0M248.9 844.0h0M250.2 820.0h0M243.0 808.1h0M248.2 788.4h0M249.0 824.8h0M233.6 735.9h0M260.5 736.7h0M252.4 832.8h0M228.0 788.4h0M233.2 757.2h0M243.2 718.6h0M245.8 812.2h0M236.9 805.7h0M266.1 745.7h0M237.4 835.0h0M240.3 842.0h0M259.1 786.4h0M258.6 775.5h0M243.2 841.3h0M256.4 790.8h0M260.8 761.6h0M243.5 809.7h0M235.4 738.1h0M265.4 729.7h0M236.7 754.4h0M268.9 782.1h0M257.8 780.8h0M236.8 747.2h0M243.3 779.9h0M239.4 724.5h0M249.7 785.0h0M238.3 838.3h0M262.9 728.3h0M253.1 822.6h0M245.1 835.8h0M243.6 838.1h0M245.3 848.8h0M258.6 806.0h0M257.6 760.7h0M242.7 836.1h0M255.9 803.0h0M244.7 787.6h0M256.8 762.7h0M254.1 784.9h0M239.2 786.4h0M255.1 738.7h0M229.9 776.5h0M248.6 845.7h0M245.8 849.4h0M248.7 763.3h0M234.1 791.8h0M251.8 821.5h0M240.6 722.8h0M261.7 802.2h0M254.4 812.1h0M248.2 809.9h0M256.0 800.9h0M230.6 766.1h0M239.6 791.4h0M253.1 772.9h0M227.3 717.7h0M247.1 839.1h0M242.5 826.8h0M242.1 814.7h0M252.8 834.2h0M266.0 740.6h0M256.6 807.7h0M241.5 826.4h0M261.5 790.6h0M248.2 732.9h0M240.8 725.5h0M225.4 740.9h0M269.6 718.9h0M234.4 754.3h0M250.2 840.0h0M248.9 829.1h0M246.3 838.6h0M256.0 747.3h0M251.3 835.8h0M248.0 762.4h0M234.0 831.2h0M252.3 767.6h0M252.2 780.3h0M245.4 833.6h0M235.2 746.4h0M246.7 725.9h0M236.9 817.6h0M258.3 789.4h0M251.4 781.6h0M242.5 849.5h0M257.1 772.5h0M255.8 752.4h0M251.1 799.4h0M232.3 806.0h0M251.2 733.1h0M242.7 748.9h0M258.6 787.2h0M234.2 718.3h0M246.4 840.6h0M258.2 753.6h0M233.0 724.0h0M253.9 765.7h0M255.5 772.0h0M253.8 777.6h0M244.7 719.6h0M241.7 843.3h0M237.4 746.3h0M238.2 819.9h0M232.0 732.4h0M243.7 827.6h0M237.6 842.5h0M245.1 822.9h0M242.5 852.8h0M237.6 821.7h0M237.0 811.2h0M250.9 730.7h0M235.6 777.6h0M238.8 718.1h0M223.2 760.7h0M250.7 792.2h0M252.3 811.0h0M264.1 721.8h0M258.5 804.8h0M258.2 817.3h0M247.4 759.0h0M268.8 742.5h0M249.1 842.6h0M234.3 728.5h0M256.7 770.5h0M264.1 721.5h0M255.2 781.0h0M237.9 752.5h0M236.9 722.8h0M262.6 760.5h0M228.6 754.8h0M240.8 719.8h0M239.3 783.4h0M244.9 820.3h0M235.1 755.0h0M238.3 806.0h0M260.1 782.1h0M233.7 769.0h0M229.8 717.4h0M258.4 758.6h0M240.8 817.3h0M249.7 754.1h0M237.2 801.8h0M243.8 777.5h0M260.7 777.1h0M260.6 778.4h0M250.0 755.5h0M255.4 794.4h0M242.4 727.5h0M262.5 784.4h0M236.5 722.8h0M241.9 804.2h0M250.9 834.2h0M231.2 736.9h0M240.3 824.3h0M261.5 747.0h0M236.9 721.6h0M238.5 769.4h0M239.5 745.5h0M251.4 818.1h0M252.8 729.0h0M246.4 748.1h0M245.8 845.4h0M240.9 799.6h0M225.0 749.1h0M240.1 798.3h0M261.1 721.3h0M250.5 772.5h0M244.6 716.4h0M256.2 774.3h0M227.0 729.3h0M237.8 828.2h0M240.6 759.3h0M249.7 845.7h0M244.5 853.9h0M237.9 730.1h0M242.0 761.5h0M230.1 718.7h0M232.1 802.7h0M248.8 831.4h0M231.7 807.2h0M253.6 803.9h0M247.3 849.6h0M244.9 852.2h0M250.1 812.3h0M235.6 776.1h0M270.1 735.3h0M231.4 711.5h0M255.8 739.9h0M238.7 802.3h0M236.9 765.7h0M257.6 794.5h0M230.6 768.1h0M243.0 816.3h0M241.9 749.1h0M244.7 737.1h0M252.1 833.4h0M240.8 832.0h0M247.5 725.3h0M250.6 755.9h0M246.4 851.1h0M230.9 782.4h0M250.4 721.9h0M235.0 781.5h0M229.9 713.5h0M253.6 711.8h0M244.2 802.0h0M235.4 736.3h0M243.9 831.0h0M242.2 853.3h0M246.1 846.3h0M248.8 823.8h0M249.8 822.2h0M241.2 810.0h0M248.5 756.5h0M241.3 715.3h0M239.4 821.5h0M246.2 723.8h0M239.9 763.5h0M255.1 719.6h0M259.2 750.8h0M253.1 785.4h0M242.0 834.9h0M249.1 846.9h0M258.9 748.8h0M235.4 773.0h0M231.9 784.2h0M238.7 812.9h0M250.4 751.1h0M240.3 714.2h0M255.6 749.5h0M240.8 756.2h0M253.3 824.7h0M240.7 846.1h0M247.0 825.5h0M238.4 810.8h0M251.1 796.2h0M237.0 800.8h0M239.6 750.6h0M243.8 773.3h0M252.9 719.0h0M249.1 764.1h0M226.2 715.5h0M250.2 840.0h0M250.3 820.9h0M249.2 844.1h0M253.7 815.4h0M264.7 781.8h0M243.2 846.1h0M239.5 774.2h0M264.0 766.8h0M238.8 810.2h0M247.4 817.4h0M268.5 749.0h0M237.6 796.5h0M238.7 765.3h0M266.5 787.0h0M266.7 720.5h0M241.4 801.9h0M242.9 814.5h0M256.5 738.8h0M232.6 761.0h0M260.4 782.7h0M239.9 825.2h0M255.3 769.7h0M245.7 759.8h0M253.0 819.4h0M233.3 805.1h0M262.2 798.8h0M243.4 849.5h0M244.6 747.7h0M229.8 720.0h0M248.0 839.7h0M255.1 748.6h0M241.5 837.0h0M256.9 768.7h0M231.7 729.0h0M254.4 788.2h0M234.8 758.6h0M245.3 824.3h0M244.4 800.5h0M242.5 748.0h0M257.9 812.4h0M248.6 763.3h0M257.4 817.4h0M244.0 822.6h0M241.7 809.5h0M257.8 757.7h0M255.3 718.8h0M237.9 832.2h0M248.6 824.0h0M240.1 715.4h0M246.1 764.9h0M232.7 763.8h0M249.5 722.8h0M253.2 816.8h0M255.2 827.1h0M239.3 774.1h0M255.3 768.0h0M248.1 728.9h0M254.7 784.1h0M229.3 719.3h0M230.5 748.1h0M238.8 836.8h0M243.3 777.9h0M242.9 807.4h0M268.8 729.5h0M239.8 711.6h0M245.4 817.9h0M232.9 754.2h0M243.6 711.9h0M242.4 771.2h0M240.9 742.7h0M249.8 754.7h0M235.9 784.1h0M254.1 816.9h0M242.6 774.5h0M251.3 743.2h0M240.0 840.1h0M252.3 795.2h0M243.4 759.6h0M265.5 739.9h0M244.1 847.3h0M250.2 842.2h0M271.9 729.4h0M241.5 850.4h0M262.2 740.8h0M252.5 805.4h0M250.1 734.2h0M267.1 759.0h0M258.4 803.7h0M259.9 737.5h0M236.3 776.2h0M246.6 747.0h0M243.0 765.2h0M242.1 851.8h0M240.7 816.3h0M230.6 742.4h0M241.3 746.2h0M239.5 841.0h0M254.7 728.8h0M231.5 801.2h0M234.1 758.0h0M249.9 824.3h0M265.7 750.0h0M240.1 840.8h0M240.0 764.1h0M242.6 851.2h0M247.7 791.8h0M274.6 717.1h0M259.7 754.4h0M247.3 758.8h0M239.6 721.1h0M255.4 801.6h0M248.4 831.2h0M255.8 789.0h0M250.8 807.7h0M253.9 799.7h0M245.5 837.9h0M246.1 763.4h0M234.6 734.8h0M241.4 764.1h0M256.3 753.8h0M248.1 822.2h0M256.8 785.8h0M257.5 790.0h0M247.1 846.4h0M253.5 836.6h0M249.0 814.5h0M236.7 747.4h0M245.3 825.2h0M253.5 714.3h0M265.5 730.5h0M261.8 744.6h0M236.2 803.0h0M246.4 836.0h0M227.9 780.8h0M240.3 760.4h0M254.3 779.7h0M266.3 768.0h0M260.3 809.9h0M253.4 775.4h0M237.7 824.6h0M253.0 808.9h0M258.3 787.2h0M266.3 779.1h0M224.5 750.0h0M240.0 783.2h0M234.3 821.5h0M256.5 734.5h0M244.9 827.6h0M265.0 786.6h0M239.7 805.6h0M249.2 802.8h0M269.4 772.1h0M240.2 828.3h0M246.7 720.5h0M252.2 822.6h0M265.3 770.6h0M245.7 817.1h0M233.6 800.1h0M261.7 758.6h0M251.6 832.1h0M259.4 762.4h0M254.4 807.2h0M244.6 838.0h0M243.5 723.1h0M238.9 717.0h0M247.7 715.6h0M245.0 743.3h0M253.8 830.5h0M262.4 715.3h0M231.2 805.5h0M241.9 848.6h0M269.2 771.7h0M260.1 762.8h0M261.2 797.6h0M245.1 793.1h0M244.1 784.7h0M235.6 774.8h0M252.9 742.8h0M244.7 712.2h0M232.1 769.8h0M253.3 820.9h0M226.7 774.5h0M244.1 811.0h0M252.9 819.8h0M235.4 739.8h0M229.1 738.3h0M239.8 752.1h0M263.7 740.5h0M231.6 748.1h0M230.7 742.8h0M246.7 810.2h0M245.0 729.9h0M237.3 718.8h0M250.8 835.7h0M255.7 791.4h0M271.3 774.2h0M243.2 849.1h0M248.7 833.4h0M258.5 771.5h0M239.0 791.8h0M253.1 756.1h0M234.6 766.7h0M249.5 836.0h0M237.7 712.8h0M243.6 851.9h0M244.0 722.9h0M237.1 732.1h0M231.8 720.3h0M263.7 770.5h0M234.7 817.2h0M231.3 722.9h0M253.8 784.6h0M232.2 732.0h0M248.4 809.3h0M238.1 806.8h0M231.7 785.0h0M252.6 793.6h0M236.0 757.5h0M254.6 811.0h0M252.1 823.9h0M249.2 834.4h0M226.0 785.1h0M258.4 741.0h0M242.1 826.6h0M240.9 844.5h0M244.1 845.6h0M238.1 799.4h0M248.9 826.6h0M237.0 752.0h0M250.7 798.4h0M247.0 848.9h0M238.6 841.5h0M239.9 779.6h0M259.9 736.5h0M235.7 754.6h0M247.9 734.8h0M262.3 714.9h0M269.7 717.5h0M248.5 718.5h0M235.1 721.5h0M242.4 849.3h0M243.9 818.5h0M233.8 757.8h0M260.2 814.8h0M265.9 718.6h0M238.2 797.2h0M258.7 808.8h0M243.8 779.2h0M236.7 793.1h0M254.4 775.3h0M229.4 722.6h0M231.2 730.4h0M244.0 837.5h0M239.1 825.2h0M233.3 755.8h0M249.2 818.4h0M252.5 826.8h0M256.7 818.3h0M234.4 829.3h0M258.0 747.7h0M242.3 813.4h0M245.1 811.2h0M252.9 819.1h0M238.6 738.4h0M251.8 822.6h0M243.0 749.8h0M255.4 824.0h0M252.3 725.7h0M239.6 745.5h0M242.8 773.6h0M270.9 750.5h0M251.1 810.3h0M252.2 760.6h0M236.1 785.2h0M243.0 795.6h0M261.1 778.2h0M247.2 845.2h0M240.1 847.0h0M225.8 747.0h0M231.6 797.5h0M264.5 765.9h0M251.9 775.3h0M239.6 787.8h0M252.7 783.7h0M243.2 717.9h0M240.8 848.8h0M238.5 810.6h0M260.9 736.2h0M257.8 815.9h0M260.5 803.1h0M242.3 849.6h0M247.8 737.2h0M237.4 837.6h0M251.3 822.1h0M265.8 711.5h0M241.5 728.0h0M254.3 799.0h0M243.6 847.3h0M241.1 766.8h0M260.2 805.9h0M266.4 785.5h0M242.7 843.8h0M257.3 744.4h0M257.7 761.5h0M239.2 791.3h0M255.8 731.8h0M252.9 816.4h0M242.0 851.0h0M259.0 719.9h0M243.6 798.4h0M246.8 753.8h0M253.0 818.6h0M251.5 830.3h0M247.3 836.6h0M239.0 828.6h0M245.7 819.0h0M266.3 740.8h0M264.5 755.2h0M253.7 819.1h0M236.7 814.3h0M242.5 741.8h0M254.8 752.9h0M242.8 754.6h0" stroke="#a9a9a9" stroke-opacity="0.72" stroke-width="3.60" stroke-linecap="round" fill="none"/>
<path d="M254.6 733.4h0M232.3 720.6h0M260.2 808.9h0M257.2 733.6h0M241.3 826.8h0M242.1 842.3h0M233.9 751.5h0M253.3 837.5h0M243.3 759.0h0M243.1 828.6h0M246.8 844.1h0M264.5 735.1h0M250.6 820.9h0M249.0 822.2h0M242.5 837.5h0M257.2 719.0h0M264.3 778.3h0M237.9 785.7h0M257.6 763.2h0M224.5 722.2h0M238.9 786.1h0M263.8 787.8h0M235.7 796.5h0M244.7 822.2h0M251.5 739.5h0M241.2 846.3h0M237.7 839.9h0M241.8 828.1h0M238.8 809.1h0M243.6 730.4h0M239.8 788.9h0M246.0 722.7h0M253.2 774.3h0M241.7 830.1h0M245.9 834.7h0M236.6 795.7h0M247.2 748.5h0M233.8 717.2h0M239.8 846.8h0M236.5 716.3h0M243.7 737.7h0M242.2 801.0h0M249.1 834.9h0M238.2 729.9h0M233.2 736.2h0M256.5 813.4h0M264.4 767.2h0M262.8 720.6h0M265.8 746.0h0M237.9 773.2h0M230.1 779.9h0M242.8 744.4h0M239.4 776.3h0M233.7 807.7h0M252.4 755.1h0M256.6 827.4h0M234.0 776.2h0M258.4 798.3h0M242.6 834.8h0M248.4 731.6h0M257.1 763.4h0M256.3 796.4h0M234.9 721.1h0M246.6 748.0h0M247.2 844.3h0M255.2 833.5h0M249.5 845.0h0M252.7 721.9h0M240.6 845.0h0M243.2 853.8h0M242.8 799.3h0M251.9 818.7h0M266.7 758.7h0M232.4 786.5h0M243.9 846.0h0M241.3 779.2h0M246.6 817.9h0M253.1 816.9h0M243.9 718.3h0M239.5 757.4h0M246.0 710.9h0M247.5 793.7h0M243.6 786.5h0M261.1 796.9h0M238.9 814.4h0M263.0 757.9h0M231.8 761.5h0M254.3 810.7h0M245.9 791.8h0M247.3 824.3h0M257.9 782.8h0M267.8 746.9h0M248.0 835.6h0M241.1 848.0h0M262.9 716.1h0M247.6 838.1h0M236.9 714.9h0M249.3 747.6h0M253.5 752.5h0M242.7 813.6h0M244.2 820.8h0M244.4 801.4h0M245.9 839.4h0M248.2 719.7h0M229.0 781.8h0M243.2 774.6h0M242.5 834.8h0M243.9 852.9h0M241.4 819.7h0M245.3 845.3h0M247.4 835.2h0M261.3 762.2h0M234.2 787.2h0M245.5 850.8h0M245.2 849.3h0M232.8 827.0h0M240.3 757.8h0M251.9 826.5h0M248.8 784.7h0M252.4 751.5h0M253.0 810.2h0M230.4 730.9h0M237.5 748.9h0M242.0 844.4h0M237.7 719.8h0M238.0 727.7h0M248.0 832.2h0M259.9 803.9h0M261.6 789.3h0M241.8 760.6h0M253.7 714.2h0M230.3 759.9h0M252.1 752.7h0M231.9 758.8h0M234.3 744.1h0M244.4 740.2h0M246.8 834.3h0M243.9 749.5h0M245.3 779.6h0M251.9 794.9h0M242.2 849.5h0M260.1 720.3h0M254.5 812.6h0M233.6 758.3h0M241.0 848.2h0M245.2 824.2h0M238.6 842.6h0M240.0 725.4h0M250.6 778.9h0M271.4 734.9h0M229.8 811.2h0M243.8 853.4h0M243.2 781.3h0M266.5 791.7h0M230.7 775.9h0M243.9 829.5h0M240.8 836.8h0M243.7 829.2h0M234.7 718.5h0M246.8 831.0h0M241.0 846.1h0M260.8 716.5h0M248.8 834.6h0M246.7 751.1h0M240.5 798.1h0M257.0 744.0h0M250.0 769.2h0M242.3 849.2h0M256.1 762.2h0M251.3 836.1h0M260.3 743.3h0M235.3 817.6h0M228.0 757.8h0M269.5 726.5h0M253.1 833.3h0M257.0 819.9h0M235.4 748.8h0M255.9 787.7h0M237.7 812.9h0M248.1 824.7h0M236.8 793.0h0M243.3 731.9h0M244.7 839.9h0M247.3 844.8h0M264.9 777.6h0M237.2 832.6h0M231.1 726.0h0M232.9 729.2h0M235.4 801.3h0M245.3 814.1h0M256.5 768.1h0M228.6 797.5h0M240.6 813.1h0M244.5 821.3h0M254.9 831.4h0M267.7 730.0h0M254.7 748.8h0M225.0 718.8h0M249.6 817.6h0M245.3 748.0h0M241.0 781.7h0M245.5 832.0h0M257.1 728.4h0M234.0 752.1h0M246.6 764.5h0M253.3 765.1h0M255.2 785.7h0M236.9 786.1h0M228.2 728.5h0M262.8 744.4h0M248.6 816.0h0M263.0 711.8h0M244.3 831.9h0M236.9 724.0h0M250.7 726.6h0M239.0 806.6h0M266.8 713.3h0M265.1 768.6h0M265.9 786.6h0M235.5 720.1h0M239.2 731.1h0M248.6 725.0h0M247.0 780.5h0M239.9 802.1h0M236.8 738.3h0M231.4 710.9h0M232.3 736.2h0M263.5 719.1h0M226.4 743.4h0M262.2 765.6h0M238.3 842.0h0M245.2 722.8h0M238.4 799.3h0M238.6 769.5h0M256.5 805.2h0M234.0 716.6h0M248.4 843.1h0M234.8 744.4h0M252.6 757.8h0M246.3 743.2h0M250.2 817.1h0M249.0 790.0h0M257.1 718.5h0M240.2 794.5h0M247.9 802.5h0M247.0 717.4h0M263.5 774.1h0M246.3 798.8h0M263.4 724.0h0M261.9 714.2h0M263.9 745.7h0M261.5 767.9h0M250.5 815.5h0M225.9 720.8h0M250.3 830.5h0M256.2 775.7h0M240.4 824.8h0M226.5 750.5h0M231.1 790.9h0M230.3 756.4h0M247.8 803.4h0M248.7 847.4h0M230.9 786.2h0M244.7 783.4h0M269.5 715.3h0M230.1 816.3h0M252.3 733.0h0M238.8 833.6h0M251.4 825.9h0M263.4 729.2h0M238.2 836.9h0M246.5 799.7h0M260.8 738.6h0M248.5 813.0h0M241.7 772.2h0M244.2 833.8h0M244.8 776.8h0M246.6 827.2h0M231.9 770.9h0M234.5 726.0h0M246.8 844.1h0M235.5 763.4h0M244.6 845.9h0M232.1 774.8h0M237.3 836.0h0M253.6 821.1h0M252.9 811.9h0M240.1 841.7h0M245.8 843.6h0M245.9 820.5h0M251.9 826.1h0M243.0 849.5h0M229.9 721.6h0M246.8 815.0h0M256.1 822.2h0M250.6 810.8h0M254.3 794.7h0M258.8 799.1h0M243.2 830.1h0M229.9 787.4h0M257.4 742.2h0M250.0 770.1h0M256.6 802.1h0M261.8 733.8h0M230.7 791.8h0M262.5 729.8h0M243.6 816.8h0M245.9 835.9h0M243.5 710.9h0M241.3 813.6h0M238.5 819.7h0M263.1 710.4h0M248.4 813.2h0M250.1 820.1h0M245.8 801.7h0M253.0 789.2h0M254.7 829.9h0M245.4 766.7h0M243.4 849.2h0M238.9 780.5h0M245.1 825.3h0M226.3 772.5h0M254.8 758.1h0M244.1 796.7h0M233.3 775.3h0M239.5 824.9h0M259.8 810.3h0M254.7 817.9h0M261.1 711.7h0M249.2 845.1h0M251.8 766.0h0M235.7 811.7h0M231.2 811.6h0M260.0 741.3h0M261.4 740.6h0M239.7 710.7h0M244.5 726.1h0M270.0 714.4h0M262.1 750.0h0M235.9 837.6h0M257.7 765.4h0M252.5 736.2h0M236.4 835.4h0M245.4 800.5h0M260.3 723.6h0M248.0 719.7h0M240.3 754.7h0M268.8 754.4h0M251.9 818.2h0M238.2 817.2h0M230.7 739.2h0M224.6 763.5h0M232.3 734.9h0M248.4 821.6h0M239.0 814.0h0M245.0 809.5h0M253.2 821.1h0M242.4 741.3h0M255.4 811.4h0M232.9 762.3h0M232.9 714.0h0M255.5 727.7h0M246.6 773.4h0M246.5 724.0h0M248.2 734.8h0M268.6 748.0h0M244.4 842.0h0M254.8 758.1h0M231.8 781.0h0M250.2 751.1h0M230.7 786.1h0M242.5 711.0h0M238.2 825.4h0M254.3 750.4h0M242.0 841.5h0M241.7 771.7h0M246.3 846.3h0M254.0 752.6h0M265.5 737.7h0M238.3 844.0h0M230.6 782.3h0M233.0 714.1h0M234.0 817.0h0M242.9 841.9h0M243.1 810.6h0M264.5 713.8h0M231.0 751.4h0M259.1 746.8h0M246.5 844.0h0M253.6 716.0h0M244.2 845.4h0M246.8 836.7h0M254.4 776.3h0M243.3 742.9h0M244.0 727.0h0M253.5 819.7h0M245.5 785.3h0M238.3 774.9h0M249.9 827.5h0M258.1 788.0h0M240.9 822.6h0M238.7 839.2h0M236.9 739.5h0M270.7 760.1h0M235.1 778.0h0M253.8 822.5h0M234.6 807.0h0M243.4 845.3h0M256.0 815.5h0M242.7 850.1h0M248.5 735.0h0M246.7 717.8h0M238.2 766.5h0M243.3 844.5h0M247.7 806.3h0M256.5 785.2h0M239.4 819.1h0M254.8 715.9h0M250.1 761.1h0M261.1 743.2h0M271.6 717.0h0M257.4 756.9h0M240.5 840.4h0M256.2 775.8h0M248.0 784.3h0M256.8 760.3h0M241.6 813.4h0M239.7 832.1h0M233.4 770.9h0M262.6 780.0h0M245.8 846.6h0M236.3 761.0h0M253.3 822.1h0M254.2 734.9h0M261.1 752.5h0M253.1 727.6h0M253.3 758.2h0M236.1 727.5h0M248.4 842.4h0M251.8 743.3h0M242.7 809.8h0M228.4 798.2h0M241.2 770.3h0M251.9 756.9h0M251.2 825.1h0M260.8 792.4h0M246.1 843.8h0M251.8 755.3h0M245.6 727.0h0M234.3 821.8h0M256.6 812.9h0M250.6 838.6h0M239.1 732.9h0M230.4 735.8h0M238.0 791.4h0M247.3 781.5h0M241.8 835.5h0M247.3 843.5h0M248.4 844.2h0M247.1 840.1h0M237.3 717.4h0M252.2 787.8h0M237.6 768.6h0M255.3 815.5h0M236.7 751.8h0M237.2 820.9h0M269.2 718.6h0M255.1 819.9h0M264.3 784.1h0M251.1 738.4h0M236.5 808.5h0M241.9 760.3h0M233.3 756.7h0M239.9 758.1h0M235.5 767.9h0M248.7 815.5h0M241.9 844.0h0M264.6 718.5h0M241.7 755.1h0M259.6 800.2h0M256.7 741.0h0M250.5 806.0h0M240.8 792.3h0M255.8 803.7h0M268.2 743.0h0M237.9 752.2h0M244.9 792.3h0M234.2 805.4h0M240.2 750.7h0M254.8 820.8h0M233.5 711.9h0M250.7 831.8h0M262.7 800.3h0M267.8 780.2h0M260.3 748.4h0M249.3 832.2h0M236.4 784.4h0M241.6 802.1h0M234.9 793.1h0M254.3 746.0h0M250.4 769.9h0M253.9 786.8h0M262.2 754.3h0M240.3 770.2h0M254.2 824.7h0M239.7 724.3h0M241.1 834.4h0M242.2 759.7h0M253.4 820.8h0M251.9 821.6h0M243.6 854.1h0M240.6 816.8h0M252.6 723.6h0M263.0 771.5h0M238.3 817.5h0M242.0 850.3h0M233.4 797.2h0M243.5 823.7h0M257.9 770.4h0M230.7 773.3h0M252.7 833.0h0M244.5 848.7h0M245.5 771.8h0M233.1 760.7h0M265.8 729.4h0M256.7 822.2h0M271.0 742.8h0M254.7 801.4h0M250.4 789.4h0M242.9 846.6h0M242.7 717.1h0M246.8 838.1h0M229.5 739.8h0M246.3 712.2h0M252.2 711.5h0M250.6 803.1h0M261.2 763.4h0M253.0 814.7h0M244.9 743.0h0M251.8 743.3h0M232.1 730.1h0M247.6 751.2h0M241.0 817.2h0M243.0 851.7h0M243.3 716.7h0M238.3 788.0h0M257.1 808.4h0M243.0 843.9h0M241.6 851.6h0M237.2 815.1h0M261.9 728.8h0M237.4 763.1h0M243.7 849.2h0M237.2 806.7h0M249.7 805.3h0M236.3 746.9h0M250.2 783.1h0M244.1 836.7h0M252.2 775.1h0M252.2 783.5h0M236.0 730.5h0M241.0 763.7h0M263.1 754.1h0M237.3 786.7h0M244.4 850.6h0M234.4 802.3h0M240.8 744.2h0M240.9 839.2h0M238.2 821.8h0M238.0 740.9h0M228.2 801.2h0M229.3 797.4h0M245.3 731.0h0M239.0 791.6h0M244.6 831.3h0M250.6 730.0h0M248.7 842.0h0M246.3 824.6h0M250.5 799.5h0M250.9 835.2h0M234.7 795.5h0M238.4 818.7h0M242.2 829.7h0M244.6 795.7h0M236.9 776.0h0M230.6 742.3h0M241.4 831.7h0M233.5 799.3h0M249.1 822.5h0M238.3 828.2h0M238.6 780.3h0M238.1 828.4h0M250.1 721.1h0M238.6 810.1h0M241.7 818.8h0M252.2 794.2h0M235.5 711.4h0M255.9 735.6h0M255.2 805.1h0M261.6 753.7h0M231.1 787.1h0M228.3 797.1h0M247.5 817.3h0M246.1 824.6h0M231.9 768.2h0M265.9 755.5h0M241.0 770.9h0M266.8 727.4h0M245.3 818.2h0M251.8 832.7h0M234.0 753.7h0M252.7 829.4h0M236.4 744.8h0M258.5 737.0h0M245.6 711.5h0M243.5 845.6h0M261.7 729.0h0M235.0 734.9h0M246.5 838.3h0M241.5 849.0h0M237.8 830.2h0M254.2 799.2h0M240.1 738.1h0M241.3 744.6h0M258.2 745.7h0M260.4 748.5h0M246.5 833.9h0M245.0 848.9h0M255.8 823.5h0M249.5 842.2h0M246.0 850.0h0M242.1 814.7h0M253.2 835.2h0M268.4 737.9h0M250.9 736.0h0M250.8 794.3h0M257.3 794.5h0M259.5 740.2h0M249.5 720.1h0M243.0 842.9h0M241.3 816.1h0M228.7 718.1h0M233.4 763.3h0M239.0 781.0h0M242.2 833.8h0M233.6 742.5h0M242.7 763.3h0M257.4 801.9h0M260.5 750.8h0M244.4 849.9h0M233.1 780.3h0M235.4 735.5h0M232.7 799.3h0M252.0 730.2h0M242.7 841.7h0M267.5 739.9h0M244.0 731.1h0M240.0 794.5h0M250.3 767.1h0M243.3 848.0h0M253.0 780.9h0M257.5 810.7h0M240.6 846.9h0M251.8 813.0h0M242.6 849.7h0M263.3 751.7h0M245.6 770.1h0M244.3 846.4h0M247.4 734.1h0M251.4 820.5h0M248.2 730.6h0M244.4 782.5h0M243.0 745.0h0M248.4 822.9h0M240.5 844.6h0M232.4 774.0h0M263.8 728.7h0M242.2 843.2h0M243.1 758.7h0M249.0 804.2h0M238.7 757.3h0M243.8 853.7h0M258.2 740.0h0M262.1 773.0h0M229.9 782.3h0M249.2 811.7h0M253.5 717.4h0M265.3 713.7h0M247.0 842.7h0M250.0 837.9h0M240.6 841.6h0M251.2 830.3h0M241.5 852.2h0M242.6 854.0h0M239.5 737.4h0M258.8 815.1h0M237.5 798.2h0M250.3 762.7h0M244.9 840.7h0M239.2 805.2h0M254.6 762.6h0M241.5 848.0h0M245.0 836.6h0M262.0 727.5h0M256.8 722.4h0M260.7 727.3h0M247.9 741.0h0M229.0 796.1h0M248.1 832.6h0M232.3 749.7h0M244.2 813.6h0M251.9 720.9h0M240.5 749.7h0M254.8 722.5h0M235.1 812.3h0M238.0 744.7h0M233.0 827.9h0M252.4 822.8h0M254.0 758.4h0M241.9 726.2h0M262.0 804.3h0M249.6 758.2h0M250.1 833.1h0M258.6 765.1h0M247.1 849.2h0M234.9 821.1h0M258.0 741.2h0M253.2 811.3h0M239.6 824.6h0M251.8 818.1h0M235.1 803.5h0M237.3 800.9h0M236.4 824.5h0M241.8 823.2h0M260.5 748.9h0M244.4 789.5h0M243.0 851.0h0M263.4 732.8h0M241.8 805.7h0M262.3 764.7h0M250.4 789.8h0M248.1 781.3h0M255.9 740.7h0M266.1 754.8h0M255.2 743.2h0M235.2 760.8h0M265.6 777.8h0M259.4 718.9h0M241.9 849.8h0M237.4 801.5h0M240.1 819.2h0M247.6 774.3h0M245.3 846.2h0M254.0 733.8h0M244.0 760.4h0M265.9 765.0h0M233.0 797.0h0M246.1 806.5h0M264.4 762.9h0M246.1 734.2h0M243.9 846.9h0M231.9 759.5h0M255.5 813.3h0M235.1 711.8h0M241.2 838.9h0M237.6 831.6h0M268.5 721.5h0M248.4 822.2h0M243.5 752.9h0M250.4 754.3h0M258.3 800.7h0M243.1 849.3h0M252.6 822.3h0M245.6 850.7h0M260.5 791.9h0M240.2 844.7h0M240.6 802.3h0M246.7 787.2h0M259.6 758.9h0M236.6 717.4h0M254.7 769.7h0M255.9 733.7h0M248.6 790.5h0M243.2 758.1h0M250.7 815.3h0M257.3 762.5h0M244.6 806.7h0M228.5 748.3h0M263.5 741.6h0M259.2 768.1h0M241.9 849.6h0M243.8 839.5h0M244.3 824.1h0M238.7 723.2h0M252.3 780.9h0M242.9 779.7h0M250.9 799.0h0M238.3 822.9h0M239.7 822.8h0M261.0 784.5h0" stroke="#a9a9a9" stroke-opacity="0.72" stroke-width="3.60" stroke-linecap="round" fill="none"/>
<path d="M267.6 752.5h0M240.4 776.9h0M242.9 844.6h0M232.6 740.8h0M238.5 759.7h0M232.8 772.4h0M240.4 826.7h0M252.2 764.9h0M248.2 809.7h0M244.6 829.0h0M252.7 740.9h0M252.3 742.1h0M261.4 800.5h0M252.0 784.0h0M238.0 788.8h0M241.1 734.6h0M258.4 741.6h0M241.7 844.1h0M236.5 785.4h0M234.5 825.9h0M241.4 717.6h0M259.0 712.8h0M232.7 821.0h0M240.8 798.2h0M243.2 735.3h0M243.8 745.5h0M246.8 770.9h0M258.0 764.2h0M244.7 813.2h0M231.4 730.3h0M243.3 847.6h0M233.3 714.7h0M270.9 759.1h0M236.7 811.4h0M263.4 793.6h0M264.2 743.7h0M229.4 766.9h0M270.4 730.0h0M239.2 760.5h0M250.4 774.4h0M236.5 824.1h0M235.2 764.9h0M231.7 768.3h0M256.0 816.2h0M236.1 828.4h0M253.5 781.8h0M263.9 767.2h0M237.4 767.7h0M233.4 714.8h0M258.7 732.3h0M260.6 790.2h0M266.9 717.6h0M239.7 806.1h0M254.7 727.0h0M234.6 749.1h0M244.5 753.9h0M263.0 743.7h0M237.8 754.8h0M240.6 762.0h0M244.5 839.2h0M245.8 829.4h0M242.3 845.5h0M265.3 765.3h0M245.9 847.8h0M239.5 846.2h0M239.1 768.1h0M231.4 770.8h0M232.5 749.2h0M227.9 779.2h0M244.0 806.5h0M249.5 824.3h0M254.3 829.2h0M254.1 811.0h0M261.8 725.1h0M241.5 849.6h0M236.9 787.5h0M232.5 739.0h0M247.7 847.3h0M257.3 744.2h0M261.4 798.2h0M251.9 805.7h0M250.8 731.5h0M234.7 731.6h0M258.1 759.3h0M232.4 719.9h0M254.2 762.0h0M255.9 797.6h0M235.7 808.0h0M235.9 736.9h0M234.3 732.4h0M259.2 712.6h0M254.7 807.1h0M239.6 766.7h0M257.6 773.4h0M252.6 769.7h0M248.8 817.8h0M229.4 769.3h0M240.2 736.1h0M257.1 772.3h0M233.0 728.8h0M243.4 836.9h0M265.9 745.7h0M241.7 836.6h0M251.6 792.0h0M259.7 807.5h0M252.2 748.8h0M238.6 822.1h0M265.1 795.5h0M240.6 775.1h0M236.8 834.9h0M254.2 787.9h0M261.5 733.5h0M255.1 819.3h0M260.1 776.1h0M263.7 717.6h0M242.6 799.8h0M264.0 743.7h0M226.1 777.9h0M245.2 732.7h0M232.2 726.9h0M228.6 792.8h0M264.0 774.6h0M240.8 755.2h0M244.4 833.0h0M240.1 831.4h0M248.9 827.1h0M242.2 813.1h0M242.8 722.5h0M250.4 766.9h0M257.9 746.0h0M251.9 819.5h0M248.5 827.4h0M259.0 799.8h0M243.5 818.1h0M245.4 831.6h0M248.0 816.2h0M251.8 823.5h0M241.4 735.9h0M253.4 799.6h0M239.4 716.8h0M260.1 770.3h0M237.0 722.1h0M256.9 817.1h0M242.4 848.4h0M268.7 726.5h0M248.6 843.8h0M232.0 789.1h0M231.0 759.9h0M261.9 795.5h0M242.1 781.4h0M233.8 790.2h0M252.9 777.7h0M237.2 722.8h0M234.3 791.4h0M258.8 752.3h0M265.8 714.5h0M266.5 763.5h0M245.7 833.9h0M239.1 720.5h0M244.1 799.4h0M245.9 843.0h0M253.8 790.5h0M253.1 738.1h0M257.8 766.7h0M238.4 804.1h0M232.0 714.7h0M245.3 845.0h0M245.2 805.6h0M257.3 815.8h0M260.2 744.5h0M268.2 780.6h0M253.3 790.0h0M251.3 838.2h0M249.8 743.1h0M262.5 777.8h0M231.7 736.5h0M245.1 739.6h0M244.7 793.3h0M248.4 725.8h0M265.9 732.0h0M238.3 757.2h0M244.1 834.6h0M256.6 752.9h0M240.1 802.8h0M232.8 723.9h0M248.4 843.1h0M258.9 807.3h0M251.4 734.4h0M260.0 793.7h0M251.3 799.6h0M247.5 789.1h0M250.6 803.8h0M252.2 837.3h0M244.5 718.0h0M255.8 748.4h0M267.1 712.4h0M237.2 758.4h0M245.7 849.3h0M248.4 774.5h0M245.3 843.5h0M255.6 771.8h0M255.5 827.6h0M241.6 755.0h0M250.2 818.3h0M242.7 826.0h0M257.9 719.3h0M262.7 782.7h0M250.1 718.0h0M250.3 840.6h0M258.5 767.9h0M253.0 775.6h0M242.6 847.9h0M234.5 724.1h0M264.0 725.4h0M259.4 796.6h0M263.1 755.7h0M254.0 807.2h0M262.5 781.8h0M247.7 810.0h0M246.6 782.4h0M249.0 804.4h0M238.6 805.7h0M242.0 851.5h0M246.5 847.4h0M257.3 714.9h0M243.1 854.0h0M237.4 730.1h0M243.1 838.4h0M262.5 721.6h0M243.7 728.6h0M258.6 772.7h0M240.1 842.6h0M238.8 823.3h0M250.7 759.5h0M233.6 815.4h0M245.8 753.3h0M235.6 832.6h0M267.2 770.4h0M242.7 851.9h0M237.0 814.4h0M264.8 770.5h0M261.8 780.5h0M242.1 800.3h0M238.6 839.8h0M255.9 725.5h0M240.7 848.3h0M245.6 848.2h0M233.4 812.1h0M222.5 748.4h0M267.5 724.6h0M247.5 733.5h0M248.1 720.9h0M246.6 838.3h0M260.4 806.5h0M245.8 847.7h0M254.7 713.1h0M243.2 850.4h0M246.1 852.5h0M243.8 848.6h0M235.3 733.3h0M248.6 729.8h0M239.6 780.0h0M243.5 787.0h0M243.8 831.8h0M249.9 752.6h0M256.3 778.0h0M250.9 784.3h0M242.3 830.1h0M239.7 843.7h0M250.2 763.0h0M243.1 814.4h0M263.5 758.3h0M225.1 744.6h0M239.6 846.0h0M258.4 815.5h0M241.8 847.4h0M240.4 830.4h0M248.3 817.1h0M242.4 716.7h0M245.4 769.9h0M243.6 852.3h0M261.0 730.7h0M260.3 808.4h0M236.2 786.9h0M243.5 817.5h0M242.6 852.0h0M245.0 755.9h0M230.7 763.9h0M235.3 743.6h0M241.0 716.3h0M255.7 718.7h0M234.5 713.4h0M263.1 712.9h0M249.6 760.0h0M238.0 838.2h0M252.2 767.7h0M241.3 714.3h0M253.1 739.5h0M248.5 833.7h0M270.9 753.2h0M231.9 782.6h0M236.1 732.6h0M261.3 727.0h0M236.4 771.6h0M241.5 801.8h0M232.9 807.5h0M243.8 748.0h0M249.3 839.1h0M256.3 714.3h0M247.7 785.9h0M243.6 808.7h0M255.1 795.8h0M269.9 750.7h0M238.5 836.4h0M242.2 849.1h0M229.4 757.9h0M232.1 753.4h0M248.8 844.8h0M250.8 830.3h0M244.0 853.8h0M235.3 735.2h0M250.0 820.3h0M260.3 763.2h0M233.5 799.8h0M244.0 710.5h0M238.1 824.3h0M260.8 757.3h0M243.5 846.0h0M246.5 841.7h0M246.6 816.1h0M267.6 721.1h0M240.3 821.1h0M240.0 715.8h0M246.4 761.2h0M254.8 822.9h0M260.5 711.4h0M252.7 802.5h0M274.3 745.8h0M261.1 727.4h0M234.9 770.0h0M259.9 729.6h0M242.3 802.8h0M239.5 714.4h0M245.8 735.9h0M264.7 736.4h0M248.4 808.6h0M265.2 717.0h0M248.8 755.6h0M237.0 811.3h0M244.2 782.4h0M239.4 823.8h0M234.0 768.6h0M245.6 847.5h0M261.5 750.7h0M261.7 791.2h0M229.1 760.8h0M253.8 796.6h0M253.0 754.6h0M240.5 850.3h0M261.9 749.4h0M250.3 818.5h0M250.9 830.3h0M246.5 844.1h0M223.1 760.9h0M243.7 770.8h0M230.5 755.2h0M245.3 741.9h0M261.7 729.4h0M244.7 810.1h0M243.6 815.6h0M245.8 851.9h0M250.0 771.6h0M258.3 765.1h0M240.9 849.1h0M264.4 797.4h0M256.2 774.7h0M254.7 757.1h0M267.5 710.9h0M252.0 822.5h0M236.2 812.6h0M227.1 770.5h0M259.5 714.3h0M235.6 815.1h0M243.4 842.3h0M237.0 728.5h0M239.0 843.5h0M250.6 750.9h0M253.2 774.0h0M252.9 789.0h0M252.0 829.6h0M253.6 720.4h0M251.0 740.5h0M236.8 810.5h0M233.0 732.5h0M245.3 850.6h0M268.9 713.5h0M245.1 825.9h0M241.3 817.1h0M259.4 748.9h0M255.8 731.7h0M253.1 747.4h0M262.1 753.6h0M256.3 811.4h0M233.0 716.7h0M235.1 776.6h0M246.8 763.3h0M249.5 804.5h0M239.3 735.0h0M254.4 725.4h0M248.1 801.8h0M260.4 788.2h0M242.2 824.9h0M233.7 758.5h0M240.2 841.8h0M240.1 832.9h0M247.1 808.2h0M243.9 848.9h0M239.1 834.3h0M260.5 779.7h0M230.6 729.1h0M242.0 711.0h0M240.1 833.1h0M234.5 784.5h0M264.9 746.6h0M245.6 810.9h0M226.9 712.1h0M244.7 782.3h0M256.6 787.6h0M235.9 776.3h0M255.6 759.7h0M243.0 848.2h0M239.8 791.6h0M252.7 835.4h0M261.5 783.0h0M239.2 841.4h0M241.0 825.8h0M248.3 754.7h0M242.2 852.1h0M245.2 809.6h0M257.6 735.6h0M244.4 720.5h0M245.8 761.7h0M234.4 747.7h0M253.7 736.6h0M257.6 792.7h0M249.4 719.1h0M240.7 763.8h0M240.9 848.8h0M234.6 820.2h0M245.6 849.3h0M263.6 725.8h0M247.3 849.1h0M264.7 788.7h0M249.0 725.3h0M249.8 769.0h0M263.6 748.2h0M234.8 817.7h0M243.7 773.9h0M253.4 710.5h0M248.3 733.6h0M242.9 852.1h0M251.6 770.3h0M238.2 831.0h0M263.8 782.6h0M243.5 850.4h0M236.0 803.5h0M243.8 818.9h0M227.6 744.4h0M248.8 834.4h0M261.1 735.3h0M228.6 780.7h0M251.2 821.4h0M236.6 726.7h0M242.9 848.6h0M241.9 851.0h0M246.0 752.1h0M238.6 818.3h0M237.8 782.9h0M232.2 754.9h0M244.9 750.3h0M254.8 797.2h0M258.7 778.4h0M252.6 799.2h0M262.8 770.9h0M238.2 825.6h0M242.0 818.5h0M235.1 730.4h0M246.2 780.0h0M235.5 715.1h0M253.3 767.5h0M241.5 787.9h0M240.5 815.6h0M236.7 783.0h0M242.8 719.3h0M232.7 719.3h0M245.2 728.6h0M235.6 798.2h0M251.4 818.0h0M242.4 852.8h0M245.1 822.6h0M242.7 849.9h0M239.7 783.0h0M260.1 800.3h0M237.0 796.4h0M251.5 766.5h0M248.6 723.2h0M245.7 736.3h0M243.9 848.8h0M230.8 757.8h0M248.5 820.2h0M257.3 778.0h0M233.7 792.8h0M249.4 799.6h0M236.2 823.2h0M246.1 786.4h0M261.7 765.6h0M251.7 813.8h0M248.6 753.9h0M242.6 831.9h0M242.8 837.9h0M240.5 792.9h0M230.6 758.2h0M251.2 714.6h0M245.3 733.8h0M263.0 776.8h0M242.0 851.4h0M255.1 788.4h0M224.6 723.5h0M254.2 798.8h0M252.4 794.2h0M235.2 758.5h0M242.6 835.5h0M233.0 761.5h0M242.0 853.8h0M249.7 826.5h0M240.7 754.0h0M245.6 780.6h0M244.5 806.0h0M261.1 746.6h0M242.8 739.9h0M263.2 775.1h0M246.2 769.9h0M244.3 747.4h0M270.1 758.8h0M245.2 843.5h0M245.1 827.5h0M240.4 767.1h0M246.8 806.7h0M248.4 784.4h0M230.8 791.8h0M256.6 800.6h0M261.4 733.7h0M254.2 787.7h0M237.9 763.4h0M255.8 793.8h0M252.0 732.8h0M246.3 765.7h0M250.2 791.8h0M257.2 753.8h0M255.3 820.7h0M249.0 745.9h0M243.5 751.8h0M262.5 724.2h0M253.9 829.9h0M263.0 755.9h0M239.6 783.8h0M264.5 799.9h0M243.5 815.8h0M263.3 781.3h0M237.2 835.1h0M262.9 766.6h0M252.3 830.3h0M259.6 771.0h0M261.7 742.9h0M247.9 822.9h0M259.5 724.4h0M258.1 812.5h0M238.1 829.3h0M247.1 847.6h0M244.8 845.3h0M245.6 817.2h0M247.4 840.1h0M244.9 755.2h0M241.4 826.8h0M250.1 841.7h0M250.3 782.8h0M242.1 850.4h0M245.8 789.8h0M234.2 809.8h0M265.4 712.9h0M254.0 797.6h0M261.1 739.1h0M245.5 843.7h0M251.0 783.6h0M243.6 844.5h0M237.1 808.5h0M257.5 788.4h0M233.4 736.6h0M239.9 817.2h0M240.7 842.6h0M248.7 839.2h0M241.1 825.6h0M253.0 813.9h0M261.0 716.5h0M233.9 791.7h0M234.6 792.1h0M231.7 757.7h0M236.9 817.1h0M244.2 844.8h0M243.2 849.3h0M236.2 738.2h0M260.7 761.1h0M234.7 726.5h0M244.0 720.6h0M239.4 717.7h0M232.5 769.2h0M253.8 816.7h0M251.3 812.2h0M243.9 809.8h0M248.1 844.9h0M261.8 762.1h0M248.7 796.5h0M253.0 806.7h0M230.4 747.5h0M256.5 803.8h0M244.7 787.7h0M234.5 755.1h0M227.4 781.8h0M241.8 839.5h0M260.8 713.1h0M262.9 791.0h0M257.2 724.2h0M242.4 763.2h0M256.0 734.0h0M268.3 761.9h0M235.7 775.0h0M247.2 812.0h0M241.0 770.3h0M263.1 788.5h0M228.5 733.8h0M227.9 778.6h0M240.4 719.6h0M263.2 778.5h0M249.1 720.8h0M242.0 826.8h0M243.3 838.5h0M252.8 827.0h0M260.6 746.7h0M258.4 719.8h0M248.0 782.5h0M248.0 809.5h0M240.5 828.6h0M263.9 715.8h0M248.6 723.4h0M257.7 800.2h0M240.0 830.6h0M233.7 717.3h0M251.8 834.7h0M243.0 736.6h0M250.0 746.8h0M238.0 768.8h0M258.6 729.4h0M266.9 722.5h0M232.9 774.1h0M243.9 845.8h0M248.4 769.2h0M236.8 766.8h0M259.3 794.9h0M243.6 772.5h0M251.0 828.5h0M251.5 813.1h0M249.5 828.0h0M232.3 761.1h0M258.0 796.5h0M250.3 739.9h0M243.1 778.4h0M246.9 751.6h0M230.2 752.7h0M251.5 710.7h0M232.3 800.0h0M244.4 833.5h0M256.2 799.5h0M256.7 763.3h0M253.5 774.9h0M253.4 791.1h0M242.3 720.5h0M239.5 766.4h0M246.5 796.8h0M240.4 729.3h0M245.6 726.5h0M238.9 823.5h0M245.5 843.3h0M236.3 753.0h0M246.5 778.5h0M258.0 764.4h0M260.5 756.1h0M253.7 803.2h0M243.1 806.9h0M244.6 852.9h0M247.4 747.3h0M255.7 776.8h0M233.3 786.9h0M250.6 755.1h0M229.1 789.6h0M249.2 846.2h0M237.7 829.7h0M246.6 742.8h0M246.9 776.9h0M252.9 726.5h0M255.7 748.2h0M248.7 841.5h0M255.6 766.5h0M253.2 784.8h0M262.5 743.3h0M239.7 815.5h0M249.7 781.9h0M241.5 762.0h0M237.2 831.3h0M229.9 732.7h0M256.7 807.5h0M256.9 735.7h0M245.9 845.7h0M248.3 834.3h0M233.0 809.2h0M250.6 752.6h0M245.2 747.2h0M234.9 806.8h0M258.9 807.0h0M243.4 813.6h0M259.0 731.6h0M263.5 786.6h0M237.5 796.3h0M244.8 734.8h0M230.8 763.8h0M239.1 712.7h0M258.9 720.9h0M262.7 770.0h0M254.2 807.5h0M241.6 733.0h0M232.6 804.7h0M237.5 830.4h0M236.5 790.2h0M233.5 776.7h0M252.5 802.7h0M259.4 737.3h0M237.2 732.1h0M249.1 736.8h0M243.0 853.5h0M231.2 779.6h0M260.5 767.5h0M258.9 790.5h0M259.1 767.7h0M228.0 713.5h0M274.0 730.7h0M246.7 831.6h0M248.9 772.4h0M230.4 748.9h0M243.6 818.9h0M260.8 793.6h0M249.7 802.3h0M246.0 839.6h0M269.7 733.4h0M239.5 751.5h0M243.6 852.3h0M268.8 788.1h0M255.3 790.3h0M250.7 753.3h0M259.3 773.7h0M239.5 796.2h0M230.4 712.0h0M244.1 800.4h0M237.8 753.1h0M243.9 853.8h0M243.6 743.0h0M244.6 833.5h0M251.2 837.9h0M267.2 754.4h0M232.8 741.8h0M266.1 778.1h0M237.5 742.7h0M246.0 799.6h0M238.8 806.0h0M245.7 852.7h0M240.2 736.7h0M227.2 766.1h0M232.0 769.2h0M266.1 777.5h0M242.2 802.5h0M261.4 712.0h0M239.4 810.8h0M253.5 773.9h0M253.5 729.8h0M260.7 731.3h0M259.8 812.0h0M264.2 719.7h0M251.4 841.6h0M239.0 810.8h0M257.5 743.7h0M262.2 782.0h0M244.5 748.0h0" stroke="#a9a9a9" stroke-opacity="0.72" stroke-width="3.60" stroke-linecap="round" fill="none"/>
<path d="M297.5 722.3h0M214.4 747.0h0M278.1 723.1h0M317.2 734.8h0M274.2 716.5h0M283.4 752.1h0M226.7 711.0h0M272.6 747.5h0M271.9 723.4h0M220.3 768.8h0M275.0 726.7h0M205.5 760.5h0M261.4 745.9h0M318.8 731.1h0M128.1 720.5h0M284.9 730.3h0M274.1 734.6h0M325.0 719.7h0M335.5 727.6h0M283.0 736.7h0M297.3 708.1h0M216.7 719.3h0M94.0 732.6h0M229.6 755.8h0M201.9 764.9h0M221.2 707.6h0M220.3 734.8h0M269.3 758.2h0M161.8 747.6h0M275.8 753.1h0M276.4 744.2h0M262.9 752.3h0M290.5 735.4h0M213.9 752.7h0M274.2 766.4h0M290.0 720.5h0M204.3 736.4h0M277.8 752.4h0M288.1 727.1h0M291.1 733.8h0M311.9 720.1h0M316.8 725.4h0M283.5 775.8h0M349.3 722.3h0M343.3 728.8h0M305.4 728.1h0M265.2 763.5h0M223.3 753.6h0M208.5 757.8h0M222.4 808.2h0M283.5 747.7h0M279.0 759.8h0M282.4 771.1h0M344.5 735.5h0M290.1 723.9h0M274.9 728.8h0M201.0 732.9h0M351.5 745.4h0M289.9 724.4h0M283.6 749.0h0M289.5 772.6h0M278.6 746.0h0M345.4 717.3h0M261.6 764.3h0M338.0 733.7h0M203.4 740.2h0M218.1 732.8h0M341.6 721.2h0M219.1 729.3h0M94.6 737.2h0M280.4 738.3h0M269.8 730.6h0M228.7 746.7h0M271.4 746.1h0M291.6 751.7h0M202.7 718.7h0M276.0 761.3h0M85.8 726.2h0M274.7 731.7h0M272.7 717.7h0M281.0 741.9h0M276.6 754.9h0M377.3 712.4h0M278.5 739.8h0M265.5 764.6h0M219.4 740.8h0M262.0 744.5h0M272.6 729.2h0M295.9 730.8h0M213.7 713.7h0M217.5 746.2h0M199.7 718.3h0M301.2 734.9h0M266.6 746.8h0M113.7 737.4h0M267.2 748.0h0M214.8 773.7h0M206.7 757.2h0M273.6 724.5h0M293.7 742.4h0M273.0 721.7h0M269.8 738.4h0M210.9 716.9h0M204.5 753.9h0M336.9 731.1h0M215.1 750.8h0M131.3 728.7h0" stroke="#9850e0" stroke-opacity="0.62" stroke-width="3.40" stroke-linecap="round" fill="none"/>
<path d="M207.6 713.4h0M275.2 747.5h0M152.8 746.0h0M210.6 716.9h0M367.7 725.9h0M318.5 725.5h0M241.8 748.4h0M317.5 724.5h0M149.1 733.4h0M275.0 738.1h0M222.1 727.1h0M270.4 772.8h0M223.6 787.5h0M232.7 768.4h0M335.4 711.2h0M267.3 716.6h0M272.9 729.7h0M164.0 733.4h0M220.6 785.1h0M189.7 723.9h0M272.2 747.2h0M275.9 709.6h0M290.3 753.1h0M165.2 733.6h0M365.5 724.7h0M285.1 750.6h0M285.7 743.1h0M269.9 741.2h0M265.0 760.3h0M282.7 733.9h0M279.9 764.5h0M86.3 745.2h0M220.8 758.0h0M217.0 747.4h0M292.8 730.5h0M338.3 746.6h0M203.1 765.8h0M329.8 719.5h0M336.5 720.4h0M260.7 754.1h0M315.1 717.9h0M187.5 742.2h0M287.4 758.4h0M344.3 723.3h0M275.4 738.3h0M270.8 732.1h0M188.9 724.6h0M265.2 757.3h0M202.4 753.9h0M291.5 726.2h0M266.6 724.9h0M274.8 715.2h0M289.8 751.5h0M267.3 751.8h0M335.7 725.4h0M281.1 743.9h0M275.2 752.4h0M380.7 724.8h0M201.2 731.7h0M269.7 740.5h0M262.7 714.8h0M271.0 734.7h0M116.1 731.3h0M354.5 736.7h0M278.0 764.4h0M259.8 745.7h0M288.9 797.9h0M338.2 726.5h0M286.4 713.2h0M132.8 722.9h0M306.3 722.1h0M223.2 727.8h0M117.7 728.4h0M116.3 755.6h0M223.5 725.2h0M281.6 723.5h0M137.6 726.8h0M226.8 760.5h0M214.8 766.4h0M275.9 719.5h0M269.4 765.8h0M223.0 733.7h0M292.8 729.4h0M276.2 774.9h0M221.5 738.0h0M293.6 736.9h0M217.4 726.2h0M286.5 753.4h0M284.0 735.1h0M212.1 735.0h0M277.5 723.0h0M275.7 722.0h0M290.3 746.4h0M283.0 724.9h0M329.5 721.5h0M212.6 735.3h0M321.2 716.2h0M214.0 754.0h0M369.4 725.9h0M350.1 758.1h0M274.2 744.4h0M219.0 719.7h0M300.3 713.6h0M225.9 761.5h0M276.6 749.4h0M291.7 731.8h0M287.2 710.8h0" stroke="#9850e0" stroke-opacity="0.62" stroke-width="3.40" stroke-linecap="round" fill="none"/>
<path d="M214.6 773.5h0M216.0 726.8h0M208.5 736.5h0M288.9 762.1h0M296.9 723.6h0M263.3 732.9h0M272.9 718.3h0M332.9 728.1h0M273.9 762.0h0M270.2 731.4h0M200.3 726.3h0M276.1 732.6h0M212.2 721.6h0M283.3 763.7h0M278.0 752.7h0M222.9 746.3h0M320.3 745.5h0M210.7 741.4h0M201.0 767.7h0M207.1 737.6h0M333.0 718.8h0M231.0 778.2h0M283.4 735.2h0M260.9 749.2h0M273.9 739.3h0M199.3 735.8h0M283.5 752.2h0M202.9 741.5h0M264.1 723.9h0M273.0 761.0h0M169.4 741.3h0M278.6 767.5h0M228.4 755.5h0M276.2 751.4h0M269.5 720.8h0M144.8 728.1h0M209.9 766.6h0M329.6 722.8h0M213.3 722.0h0M185.2 734.8h0M217.0 722.8h0M214.1 731.7h0M273.4 734.0h0M273.2 710.9h0M273.7 730.6h0M131.5 736.5h0M277.9 768.5h0M211.1 755.9h0M272.3 726.4h0M113.3 757.3h0M227.4 757.2h0M272.9 776.4h0M306.6 734.4h0M299.1 716.1h0M229.8 758.1h0M283.1 749.9h0M218.8 735.2h0M158.0 739.0h0M280.1 756.0h0M267.2 747.4h0M210.5 724.9h0M283.3 747.3h0M272.8 711.5h0M283.4 720.4h0M333.4 741.3h0M276.2 729.4h0M327.9 722.4h0M210.2 739.6h0M275.0 757.5h0M289.2 746.3h0M291.3 721.1h0M197.5 731.5h0M269.7 755.5h0M266.1 720.5h0M206.5 771.4h0M268.6 773.0h0M263.5 768.1h0M223.1 764.9h0M281.6 730.9h0M283.1 742.7h0M199.4 748.1h0M274.2 743.9h0M211.4 737.6h0M228.1 756.8h0M217.2 722.6h0M171.3 729.5h0M217.8 765.7h0M353.5 713.2h0M277.6 738.5h0M156.3 722.7h0M233.0 746.3h0M174.7 725.6h0M345.0 724.8h0M283.1 758.4h0M277.8 738.4h0M329.2 730.1h0M307.5 720.3h0M284.9 731.9h0M323.3 715.6h0M281.5 741.6h0M209.0 725.9h0M280.0 730.8h0M268.4 712.3h0M207.8 743.1h0M275.6 748.4h0M136.3 724.9h0M300.4 745.3h0" stroke="#9850e0" stroke-opacity="0.62" stroke-width="3.40" stroke-linecap="round" fill="none"/>
<path d="M227.5 744.9h0M203.2 748.1h0M265.6 716.3h0M214.2 730.9h0M144.7 738.8h0M207.5 746.5h0M155.4 742.7h0M229.5 739.0h0M284.1 741.6h0M143.6 713.1h0M288.3 745.6h0M268.1 749.4h0M202.6 728.1h0M274.5 774.5h0M219.1 752.1h0M320.5 717.8h0M276.5 743.9h0M284.2 759.8h0M278.4 740.1h0M161.5 751.8h0M216.5 762.9h0M158.2 737.6h0M217.5 756.8h0M161.8 728.1h0M206.1 715.6h0M329.3 722.2h0M156.3 716.9h0M270.2 749.6h0M387.7 716.9h0M220.1 748.9h0M291.7 742.6h0M212.1 721.7h0M277.9 711.0h0M307.3 733.9h0M209.2 723.7h0M143.3 730.5h0M206.5 735.0h0M356.5 721.7h0M216.5 732.4h0M130.2 744.9h0M278.6 730.4h0M277.9 742.4h0M192.3 723.4h0M141.9 730.5h0M280.1 710.3h0M263.0 729.3h0M282.5 760.7h0M264.2 726.7h0M199.2 716.6h0M221.7 768.5h0M228.8 752.2h0M330.6 729.8h0M276.9 714.3h0M128.3 732.5h0M283.8 770.2h0M321.6 723.3h0M219.6 738.6h0M322.5 717.6h0M219.4 742.6h0M224.7 759.8h0M204.8 732.3h0M286.4 709.7h0M311.3 729.2h0M295.5 723.4h0M282.7 761.1h0M158.9 739.7h0M260.2 752.9h0M213.0 731.8h0M316.9 709.9h0M282.4 747.2h0M279.3 733.8h0M148.3 730.3h0M227.1 780.8h0M211.1 775.4h0M206.6 754.8h0M272.6 710.9h0M301.0 715.2h0M281.0 712.8h0M276.9 719.6h0M195.9 746.6h0M276.9 712.2h0M226.4 734.2h0M212.2 731.3h0M299.4 725.8h0M369.3 723.2h0M209.0 734.9h0M283.5 727.5h0M216.7 716.0h0M275.3 729.7h0M303.4 731.0h0M199.3 754.5h0M290.8 720.1h0M286.6 742.1h0M276.3 769.5h0M95.7 745.4h0M270.1 745.4h0M117.7 731.0h0M272.7 779.4h0M209.0 769.0h0M215.4 780.8h0M222.1 735.5h0M314.0 722.3h0M216.3 756.2h0M236.0 740.2h0M216.6 786.4h0M320.9 732.7h0" stroke="#9850e0" stroke-opacity="0.62" stroke-width="3.40" stroke-linecap="round" fill="none"/>
<path d="M152.4 732.2h0M264.1 736.6h0M270.5 755.5h0M281.7 728.6h0M287.5 714.3h0M210.6 749.8h0M212.2 753.9h0M272.8 721.8h0M314.7 738.9h0M335.6 723.1h0M339.4 750.2h0M285.7 714.1h0M179.9 739.9h0M196.3 732.7h0M277.9 717.5h0M280.0 770.7h0M268.2 774.3h0M269.6 727.6h0M220.5 739.5h0M205.7 746.3h0M224.0 754.5h0M219.0 757.8h0M206.6 747.6h0M310.6 743.8h0M282.9 768.6h0M307.9 745.9h0M225.6 746.1h0M155.2 728.2h0M269.5 726.3h0M289.5 722.4h0M157.6 738.6h0M336.4 744.7h0M220.6 771.0h0M325.0 742.3h0M332.5 721.8h0M340.3 739.9h0M214.5 717.5h0M263.8 732.0h0M230.8 742.4h0M205.1 745.7h0M259.9 729.6h0M179.2 733.0h0M274.1 725.6h0M218.1 754.2h0M295.8 742.8h0M219.6 753.7h0M207.1 733.1h0M265.1 736.4h0M156.1 730.9h0M214.2 731.9h0M269.9 753.9h0M343.8 718.8h0M325.4 717.6h0M299.2 708.2h0M305.6 717.7h0M214.8 714.6h0M264.5 730.1h0M332.0 733.9h0M283.0 724.2h0M231.9 741.5h0M267.6 733.7h0M190.2 714.5h0M278.0 747.5h0M273.3 735.7h0M206.9 749.3h0M270.1 767.8h0M276.5 757.6h0M276.5 745.4h0M262.4 735.0h0M219.2 744.2h0M223.7 730.4h0M295.8 719.7h0M285.3 744.3h0M158.0 708.3h0M206.8 715.3h0M269.9 746.4h0M324.5 723.5h0M287.0 732.0h0M275.5 748.4h0M208.0 737.2h0M221.0 762.5h0M330.4 719.2h0M315.8 744.1h0M101.7 746.1h0M278.7 727.9h0M219.6 741.0h0M268.4 757.9h0M221.1 769.9h0M209.4 716.8h0M222.2 753.3h0M215.4 743.5h0M302.5 717.0h0M86.6 751.3h0M276.2 773.5h0M212.2 712.8h0M311.1 736.9h0M275.4 753.9h0M345.5 735.5h0M351.1 715.2h0M327.5 730.5h0M287.7 731.1h0M297.6 733.0h0M221.1 739.4h0M277.6 773.1h0M128.3 713.3h0M270.3 711.4h0" stroke="#9850e0" stroke-opacity="0.62" stroke-width="3.40" stroke-linecap="round" fill="none"/>
<path d="M275.2 671.8h0M264.8 670.8h0M273.2 691.0h0M264.7 687.9h0M250.0 684.1h0M230.0 690.3h0M253.2 696.5h0M261.5 686.5h0M259.6 680.9h0M263.1 673.6h0M242.8 695.5h0M239.8 697.1h0M251.1 680.8h0M230.6 699.8h0M271.5 691.3h0M272.1 701.0h0M225.5 672.6h0M235.7 693.2h0M256.0 668.3h0M243.8 663.9h0M263.3 687.9h0M259.4 683.0h0M249.7 676.6h0M245.8 668.9h0M231.5 681.2h0M276.7 682.2h0M238.8 689.5h0M238.4 677.1h0M256.1 673.4h0M275.2 699.2h0M235.3 699.6h0M227.4 669.3h0M243.1 690.1h0M243.7 678.1h0M247.3 676.4h0M269.8 674.6h0M280.2 675.1h0M235.1 704.6h0M228.2 689.7h0M253.2 698.5h0M254.6 674.8h0M243.1 679.9h0M261.3 684.5h0M246.1 676.4h0M278.2 693.1h0M263.8 677.2h0M252.6 697.7h0M263.9 677.8h0M240.1 678.0h0M266.8 679.4h0M244.1 681.2h0M255.1 676.3h0M265.9 700.7h0M239.7 688.2h0M271.8 694.2h0M235.1 693.4h0M280.1 696.1h0M267.3 663.6h0M242.2 690.0h0M249.5 669.7h0M247.1 704.3h0M247.3 682.4h0M255.1 674.0h0M255.7 673.5h0M255.0 691.7h0M264.9 683.1h0M255.9 697.4h0M218.9 704.0h0M261.9 698.0h0M255.8 684.4h0M244.0 688.7h0M262.3 679.8h0M253.8 676.7h0M237.3 670.8h0M235.2 689.9h0M252.8 683.9h0M231.3 684.4h0M265.4 697.6h0M226.3 693.6h0M233.5 682.0h0M258.7 673.6h0M234.6 673.3h0M251.9 678.8h0M262.5 693.1h0M241.1 694.0h0M262.4 687.7h0M254.3 700.6h0M285.8 683.1h0M225.3 690.1h0M238.9 679.8h0M256.9 686.6h0M241.5 663.4h0M219.5 665.6h0M253.0 699.9h0M265.6 687.4h0M257.2 684.1h0M253.1 698.4h0M255.1 704.5h0M273.8 682.9h0M255.1 678.9h0M268.9 703.1h0M256.6 665.5h0M256.1 695.3h0M241.9 696.9h0M254.3 706.3h0M261.7 688.2h0M251.5 684.2h0M247.8 696.6h0M236.2 679.3h0M257.3 695.4h0M223.8 673.5h0M238.6 685.5h0M249.8 694.8h0M262.0 691.0h0M268.5 688.7h0M252.2 672.2h0M274.6 696.3h0M259.7 671.7h0M240.5 702.4h0M245.3 688.7h0M240.3 685.3h0M247.7 690.4h0M255.8 695.7h0M230.5 685.8h0M238.1 684.0h0M252.3 686.4h0M256.4 691.5h0M249.3 679.8h0M276.9 676.9h0M262.3 690.0h0M248.8 678.6h0M252.1 679.9h0M272.6 678.3h0" stroke="#22782a" stroke-opacity="0.7" stroke-width="3.30" stroke-linecap="round" fill="none"/>
<path d="M244.8 678.7h0M257.1 682.8h0M226.4 674.0h0M216.8 691.2h0M248.7 701.4h0M246.7 695.6h0M235.8 692.4h0M254.6 694.4h0M253.4 665.5h0M232.0 680.2h0M213.5 683.5h0M257.4 681.7h0M245.6 688.4h0M230.1 687.2h0M272.3 705.9h0M251.4 674.9h0M250.4 693.0h0M257.9 694.6h0M242.0 696.0h0M253.7 665.3h0M248.3 686.3h0M272.8 684.1h0M251.6 679.5h0M263.3 678.3h0M218.0 688.4h0M238.6 674.7h0M261.2 700.0h0M257.2 691.2h0M245.7 695.0h0M266.0 687.8h0M258.7 698.3h0M225.5 703.9h0M249.4 703.4h0M239.5 694.8h0M264.2 691.3h0M240.6 682.3h0M278.2 691.4h0M256.5 691.8h0M228.2 679.3h0M261.1 688.6h0M242.2 676.7h0M224.0 671.7h0M259.4 669.4h0M236.0 695.7h0M257.2 688.3h0M227.2 696.7h0M225.6 687.6h0M246.8 683.2h0M264.5 689.0h0M266.6 678.0h0M247.4 680.6h0M265.0 689.9h0M262.3 664.0h0M260.4 686.4h0M246.2 678.5h0M260.5 667.3h0M254.5 693.8h0M248.0 673.8h0M247.3 696.4h0M267.3 662.8h0M248.1 685.2h0M267.1 680.0h0M239.7 687.2h0M279.0 682.4h0M256.8 679.0h0M252.6 667.3h0M244.5 670.6h0M240.6 698.1h0M247.6 672.7h0M270.3 694.9h0M252.0 695.9h0M251.7 681.6h0M250.3 690.4h0M235.1 678.4h0M270.0 695.5h0M253.8 697.0h0M259.7 684.9h0M242.1 686.8h0M254.1 675.8h0M220.2 693.1h0M247.5 686.3h0M261.4 697.8h0M273.5 681.4h0M260.7 661.8h0M243.5 691.6h0M264.3 675.5h0M257.9 702.8h0M251.3 677.7h0M265.9 666.9h0M269.1 697.4h0M253.9 698.0h0M247.6 699.0h0M263.5 676.4h0M253.7 684.4h0M249.0 697.8h0M252.0 705.4h0M235.2 664.4h0M244.8 698.3h0M241.6 684.0h0M272.3 675.8h0M233.1 698.2h0M218.0 691.3h0M238.3 669.3h0M251.8 696.2h0M251.2 684.4h0M270.9 685.1h0M245.8 680.2h0M252.2 676.9h0M269.5 682.5h0M260.4 691.6h0M250.2 691.1h0M260.9 691.6h0M233.8 704.1h0M249.5 682.9h0M252.4 691.8h0M245.8 672.6h0M257.8 681.1h0M263.2 675.3h0M241.0 692.0h0M248.5 680.0h0M233.1 680.5h0M263.0 697.2h0M259.4 673.8h0M239.3 689.9h0M227.6 661.5h0M262.5 683.6h0M245.9 701.8h0M229.4 694.8h0M243.9 696.4h0M251.6 694.3h0M262.0 690.8h0M255.4 694.9h0M252.7 695.6h0" stroke="#22782a" stroke-opacity="0.7" stroke-width="3.30" stroke-linecap="round" fill="none"/>
<path d="M231.3 703.1h0M261.4 686.2h0M245.1 684.6h0M277.0 687.9h0M239.0 683.1h0M251.2 685.7h0M243.5 691.5h0M247.2 675.9h0M233.4 690.7h0M249.1 680.9h0M250.0 693.9h0M286.9 683.8h0M257.2 704.9h0M269.0 688.2h0M257.0 688.7h0M234.1 680.4h0M258.2 677.1h0M245.0 684.5h0M242.5 689.9h0M236.6 665.2h0M250.2 685.0h0M270.7 689.2h0M240.0 675.6h0M232.4 691.8h0M257.7 693.6h0M251.0 688.3h0M254.0 681.9h0M248.3 676.4h0M252.1 673.2h0M256.9 697.8h0M261.3 703.8h0M265.2 681.2h0M263.3 693.8h0M242.9 682.6h0M238.1 689.9h0M239.9 698.9h0M232.4 689.4h0M259.7 684.1h0M239.9 685.0h0M254.1 683.5h0M256.7 678.4h0M266.3 683.3h0M256.9 681.5h0M225.3 693.2h0M256.1 699.9h0M238.9 702.2h0M264.9 685.8h0M262.1 683.0h0M246.1 674.6h0M245.2 696.0h0M239.5 690.5h0M245.4 700.5h0M269.0 677.4h0M237.9 697.5h0M259.4 680.1h0M270.1 681.4h0M246.4 688.7h0M230.3 677.4h0M278.4 695.5h0M255.4 690.7h0M229.4 679.6h0M247.0 667.4h0M256.0 693.8h0M270.3 677.1h0M231.4 676.9h0M237.1 680.0h0M257.3 688.3h0M260.9 674.2h0M262.7 678.7h0M227.9 680.2h0M256.7 678.6h0M261.0 680.5h0M245.9 689.0h0M247.7 674.1h0M245.7 683.4h0M232.5 683.7h0M258.1 667.6h0M262.2 684.4h0M265.7 693.4h0M233.7 691.7h0M249.7 676.1h0M225.8 689.7h0M245.9 679.7h0M255.6 666.6h0M264.0 683.5h0M239.6 699.3h0M250.8 691.9h0M254.6 676.9h0M241.7 678.7h0M243.9 695.1h0M241.2 691.8h0M250.1 674.1h0M257.5 691.7h0M259.4 681.7h0M257.8 669.1h0M239.9 692.4h0M248.5 696.0h0M227.6 704.3h0M243.9 706.2h0M256.4 696.0h0M266.9 701.1h0M273.1 699.6h0M253.3 683.6h0M260.2 665.1h0M252.6 673.0h0M258.7 706.4h0M283.1 678.9h0M254.5 705.7h0M258.1 686.8h0M248.8 671.1h0M267.3 676.5h0M238.1 687.8h0M257.4 676.0h0M250.5 681.9h0M235.1 671.0h0M258.2 679.4h0M258.0 699.9h0M258.7 683.3h0M245.0 675.1h0M256.0 704.1h0M253.2 700.3h0M250.5 704.3h0M269.1 678.1h0M249.9 694.9h0M258.8 677.6h0M261.8 695.2h0M240.9 694.3h0M226.5 676.6h0M245.9 679.8h0M269.4 667.2h0M239.5 693.6h0M244.0 686.7h0M252.1 692.0h0" stroke="#22782a" stroke-opacity="0.7" stroke-width="3.30" stroke-linecap="round" fill="none"/>
<path d="M261.4 690.1h0M249.1 693.3h0M258.4 688.5h0M225.5 680.7h0M261.4 683.9h0M233.4 697.0h0M248.8 675.1h0M253.4 696.3h0M249.1 696.6h0M234.6 662.8h0M260.7 684.9h0M236.5 665.8h0M230.5 668.6h0M255.0 698.9h0M258.7 704.6h0M261.6 670.1h0M256.2 696.5h0M247.9 679.5h0M262.5 707.2h0M251.3 688.3h0M262.2 699.2h0M249.4 668.2h0M234.1 689.2h0M255.8 697.3h0M243.9 676.4h0M257.5 700.6h0M255.3 685.8h0M259.6 682.2h0M251.4 685.4h0M261.8 694.6h0M256.2 665.6h0M273.8 667.7h0M263.1 667.3h0M245.2 694.6h0M260.5 694.8h0M254.5 673.7h0M263.7 672.3h0M240.8 699.6h0M235.3 673.1h0M242.6 692.4h0M239.9 686.4h0M260.6 698.1h0M257.7 688.9h0M240.3 677.2h0M243.4 697.7h0M250.7 697.8h0M214.1 685.9h0M257.3 688.7h0M245.9 669.7h0M250.9 704.4h0M268.1 679.3h0M256.9 674.8h0M236.1 702.5h0M228.2 678.9h0M252.3 661.0h0M247.2 686.1h0M247.1 671.8h0M255.6 694.0h0M226.3 681.0h0M231.3 667.7h0M230.9 692.8h0M251.6 682.1h0M246.1 693.3h0M245.7 677.1h0M248.2 677.0h0M275.4 700.6h0M253.7 707.2h0M255.1 686.9h0M221.9 682.4h0M240.4 691.0h0M263.0 670.2h0M256.2 700.1h0M267.8 693.0h0M258.6 680.2h0M258.4 689.2h0M241.4 685.7h0M249.1 680.0h0M258.8 684.8h0M239.6 694.4h0M246.7 673.3h0M228.1 662.2h0M253.2 692.2h0M236.8 700.0h0M239.8 690.9h0M248.6 679.8h0M272.5 664.0h0M259.9 679.0h0M269.3 706.2h0M234.6 669.9h0M260.2 692.2h0M231.6 670.4h0M269.6 674.1h0M259.6 683.2h0M253.2 690.0h0M248.6 669.2h0M257.3 698.0h0M235.3 685.7h0M257.6 673.0h0M242.0 679.9h0M272.4 679.3h0M259.8 677.6h0M255.2 680.2h0M252.2 681.1h0M229.7 702.4h0M237.3 679.6h0M260.9 676.9h0M253.9 705.5h0M253.6 676.2h0M255.0 697.6h0M227.0 665.7h0M259.4 661.7h0M253.8 688.3h0M242.0 692.7h0M265.7 685.8h0M282.6 688.1h0M245.3 692.1h0M238.5 685.9h0M250.8 701.6h0M234.2 655.8h0M259.6 704.6h0M259.6 690.7h0M246.0 676.9h0M261.4 672.7h0M207.4 653.6h0M237.9 694.1h0M247.1 697.9h0M230.1 677.6h0M259.8 666.3h0M273.1 700.3h0M262.5 683.5h0M270.5 679.3h0M238.5 691.8h0M270.8 701.9h0" stroke="#22782a" stroke-opacity="0.7" stroke-width="3.30" stroke-linecap="round" fill="none"/>
<path d="M259.1 670.5h0M271.0 695.3h0M255.5 684.8h0M254.1 678.5h0M263.8 688.3h0M258.9 693.9h0M279.9 703.5h0M229.6 685.2h0M242.8 672.2h0M251.1 654.1h0M238.1 696.5h0M246.6 706.4h0M256.7 704.9h0M262.9 696.7h0M257.3 685.8h0M246.0 676.6h0M246.3 689.0h0M236.4 681.6h0M283.9 689.2h0M253.1 701.1h0M259.5 683.6h0M245.7 685.6h0M257.3 690.2h0M262.8 686.9h0M267.7 691.0h0M247.6 668.7h0M266.6 669.0h0M240.3 706.2h0M252.9 703.4h0M235.7 676.4h0M223.4 693.3h0M237.3 693.2h0M257.1 665.0h0M236.9 686.6h0M248.3 661.3h0M257.7 688.8h0M270.4 687.0h0M248.5 691.1h0M247.1 704.4h0M247.8 674.5h0M258.7 678.7h0M256.5 694.8h0M247.6 697.9h0M252.7 672.2h0M259.7 690.4h0M250.6 682.8h0M253.1 706.9h0M269.8 681.3h0M238.5 701.7h0M239.0 658.7h0M249.8 679.7h0M253.0 671.4h0M267.0 683.9h0M250.4 685.7h0M268.5 695.8h0M249.1 696.5h0M240.1 700.0h0M262.5 676.3h0M253.2 662.2h0M255.4 688.6h0M224.3 681.2h0M240.5 684.8h0M255.5 659.9h0M247.2 703.9h0M267.5 699.3h0M241.6 700.7h0M237.8 693.1h0M233.0 684.1h0M253.9 703.6h0M254.0 691.7h0M267.1 691.9h0M254.3 680.0h0M252.7 677.9h0M253.1 690.3h0M255.9 681.2h0M257.6 703.6h0M248.1 686.4h0M264.7 700.1h0M270.8 692.4h0M258.3 684.2h0M260.8 686.9h0M267.1 696.8h0M240.1 692.1h0M259.5 679.4h0M253.0 688.1h0M241.9 695.1h0M244.7 689.2h0M268.5 703.0h0M253.0 682.5h0M237.0 686.6h0M243.2 694.3h0M252.6 681.5h0M269.8 705.3h0M244.2 677.3h0M270.4 684.1h0M249.1 696.8h0M254.2 675.2h0M244.3 694.6h0M264.6 686.3h0M263.6 687.7h0M250.4 681.2h0M242.0 659.8h0M262.6 683.4h0M263.3 697.8h0M261.8 699.3h0M215.8 688.0h0M241.9 694.4h0M256.7 675.4h0M237.6 682.3h0M284.1 674.5h0M243.9 687.6h0M258.0 688.9h0M271.0 689.8h0M264.2 698.6h0M254.8 687.9h0M249.6 673.2h0M252.9 694.4h0M263.2 676.9h0M247.8 682.0h0M264.3 678.7h0M261.3 701.4h0M246.4 694.3h0M224.1 688.7h0M256.1 688.8h0M255.5 696.1h0M250.6 684.4h0M247.2 706.6h0M264.2 682.8h0M232.2 695.5h0M236.5 706.5h0M257.7 682.5h0M256.8 686.9h0M250.9 676.0h0" stroke="#22782a" stroke-opacity="0.7" stroke-width="3.30" stroke-linecap="round" fill="none"/>
<path d="M232.3 628.5h0M194.7 660.4h0M230.7 627.7h0M193.7 689.8h0M242.2 662.3h0M230.0 631.2h0M289.8 657.8h0M283.9 668.3h0M249.7 608.5h0M313.6 673.8h0M258.0 609.6h0M200.9 698.0h0M300.2 657.4h0M189.9 672.5h0M187.0 701.9h0M248.9 691.8h0M209.9 682.7h0M219.7 582.1h0M240.9 598.4h0M217.2 604.8h0M205.1 662.0h0M305.0 677.1h0M329.9 706.4h0M254.7 629.7h0M296.1 680.4h0M207.3 696.7h0M286.1 695.5h0M213.8 704.6h0M223.9 604.9h0M248.3 669.1h0M255.6 635.2h0M268.3 596.1h0M318.7 682.1h0M218.2 693.3h0M255.1 596.3h0M240.2 644.8h0M233.8 688.5h0M227.7 646.5h0M261.2 625.4h0M244.8 628.5h0M280.0 661.7h0M204.7 667.8h0M250.0 622.8h0M209.7 684.0h0M310.2 697.8h0M246.8 665.4h0M313.6 672.0h0M232.2 657.8h0M235.9 587.4h0M195.6 690.5h0M255.6 624.4h0M186.7 693.1h0M245.2 679.2h0M270.5 707.1h0M241.4 662.7h0M234.3 625.8h0M254.3 622.7h0M274.5 662.6h0M329.8 673.2h0M233.8 579.7h0M255.6 633.8h0M244.2 656.7h0M245.2 656.8h0M269.4 611.2h0M324.7 678.4h0M233.0 596.0h0M237.4 677.3h0M240.4 586.8h0M195.9 666.5h0M254.2 679.0h0M212.8 696.1h0M286.7 706.1h0M239.3 653.2h0M269.6 669.3h0M201.3 672.3h0M214.5 687.6h0M289.4 675.7h0M284.5 697.3h0M228.3 666.3h0" stroke="#2a842e" stroke-opacity="0.62" stroke-width="3.30" stroke-linecap="round" fill="none"/>
<path d="M251.8 618.6h0M251.3 611.6h0M244.9 667.8h0M266.3 675.0h0M183.2 680.8h0M195.2 661.9h0M211.7 663.5h0M257.4 653.9h0M274.8 623.8h0M234.1 688.0h0M217.3 622.0h0M312.0 696.3h0M206.9 675.2h0M262.3 653.2h0M248.8 624.2h0M232.5 659.1h0M272.6 680.7h0M302.4 677.3h0M201.4 617.1h0M194.1 683.8h0M297.0 630.7h0M256.8 664.9h0M183.9 651.1h0M314.8 654.0h0M262.6 629.4h0M265.1 634.1h0M243.2 681.4h0M247.6 643.5h0M320.4 678.4h0M248.5 654.3h0M214.5 664.2h0M290.1 645.0h0M309.3 658.3h0M171.3 689.6h0M203.9 632.7h0M206.3 662.7h0M236.3 617.2h0M195.9 623.6h0M257.5 608.7h0M236.4 626.9h0M235.7 604.3h0M229.6 702.0h0M298.6 700.4h0M180.0 696.8h0M331.8 681.4h0M246.5 702.5h0M253.4 602.2h0M213.8 699.2h0M183.5 679.1h0M221.6 674.0h0M258.3 602.0h0M203.5 690.9h0M255.1 635.5h0M267.0 663.8h0M268.0 679.9h0M191.4 687.6h0M266.9 678.4h0M292.4 673.9h0M267.2 640.5h0M257.5 697.0h0M225.5 660.4h0M311.3 671.0h0M260.3 650.5h0M313.2 669.9h0M243.1 615.8h0M203.0 670.3h0M209.4 694.5h0M238.2 648.6h0M219.1 647.7h0M248.3 603.0h0M270.1 630.8h0M296.2 664.6h0M250.4 666.9h0M274.3 611.6h0M241.3 589.5h0M218.9 649.1h0M188.4 672.0h0M253.4 652.1h0M209.3 681.9h0" stroke="#2a842e" stroke-opacity="0.62" stroke-width="3.30" stroke-linecap="round" fill="none"/>
<path d="M244.5 629.0h0M274.6 630.1h0M176.6 693.3h0M267.2 700.9h0M343.8 668.0h0M212.5 682.8h0M281.5 632.3h0M272.7 644.5h0M213.6 671.3h0M248.6 605.4h0M195.0 668.9h0M281.9 664.5h0M229.3 669.8h0M293.4 666.5h0M242.7 630.6h0M205.9 695.6h0M212.1 689.9h0M208.9 706.8h0M295.0 684.9h0M310.4 689.5h0M282.5 670.8h0M246.3 601.5h0M225.8 638.5h0M221.7 695.3h0M319.0 689.9h0M273.3 633.3h0M247.3 629.2h0M313.1 687.3h0M246.3 651.6h0M204.6 645.2h0M322.1 700.4h0M303.0 659.6h0M300.7 673.9h0M215.6 703.4h0M258.3 606.0h0M268.5 655.8h0M196.6 670.0h0M243.5 618.7h0M245.0 615.7h0M325.8 689.2h0M324.0 665.7h0M242.9 620.5h0M258.3 630.3h0M297.0 640.1h0M249.8 588.8h0M228.9 657.9h0M259.5 631.4h0M257.7 645.7h0M314.0 675.5h0M187.1 695.7h0M295.7 666.7h0M289.9 680.5h0M178.8 670.1h0M283.9 695.1h0M265.9 700.8h0M300.8 660.8h0M195.1 699.1h0M299.9 663.7h0M304.0 686.3h0M276.2 679.0h0M302.2 667.0h0M246.0 634.3h0M307.1 673.2h0M238.5 636.0h0M273.2 655.9h0M202.5 691.5h0M237.9 674.2h0M277.0 631.1h0M269.4 678.3h0M266.4 617.9h0M206.0 694.0h0M309.8 680.8h0M237.0 637.9h0M314.8 676.1h0M279.4 625.0h0M213.7 677.0h0M253.0 613.2h0M238.8 641.7h0M316.6 693.0h0" stroke="#2a842e" stroke-opacity="0.62" stroke-width="3.30" stroke-linecap="round" fill="none"/>
<path d="M304.3 624.1h0M257.3 594.7h0M259.7 662.6h0M282.3 650.9h0M257.9 651.4h0M282.4 677.7h0M220.2 698.2h0M230.9 645.5h0M356.8 681.4h0M263.7 705.7h0M237.4 633.6h0M257.7 656.2h0M250.3 632.9h0M311.9 684.9h0M305.2 672.4h0M178.3 677.8h0M305.6 705.9h0M197.9 698.2h0M230.8 634.9h0M282.9 666.5h0M301.1 645.0h0M341.7 672.2h0M157.3 683.0h0M231.5 599.6h0M258.6 621.6h0M309.6 691.3h0M262.0 642.5h0M279.7 604.3h0M239.6 629.7h0M268.8 599.2h0M280.2 639.4h0M258.2 672.1h0M227.0 649.0h0M182.4 690.2h0M174.5 653.1h0M244.7 636.6h0M250.8 622.6h0M304.6 703.9h0M235.1 613.1h0M193.4 672.2h0M260.6 626.4h0M225.6 615.5h0M294.1 696.8h0M213.2 692.6h0M247.7 592.9h0M208.0 575.6h0M217.2 696.8h0M190.2 672.6h0M233.8 702.6h0M237.6 645.2h0M287.1 659.2h0M253.7 617.0h0M197.6 698.5h0M248.3 619.0h0M211.8 693.6h0M212.0 678.5h0M232.8 590.2h0M247.6 637.9h0M240.4 638.9h0M261.9 643.3h0M211.3 671.4h0M288.0 606.3h0M297.7 665.5h0M255.7 603.0h0M207.6 701.8h0M187.7 699.6h0M230.0 704.2h0M212.1 703.0h0M214.0 614.1h0M228.1 673.1h0M227.3 632.0h0M187.6 664.1h0M213.4 696.0h0M175.4 696.4h0M319.4 690.7h0M237.2 571.4h0M315.4 705.3h0M244.9 663.6h0M245.2 625.8h0" stroke="#2a842e" stroke-opacity="0.62" stroke-width="3.30" stroke-linecap="round" fill="none"/>
<path d="M204.2 690.6h0M238.1 660.4h0M252.5 659.5h0M186.9 671.2h0M260.9 619.5h0M284.2 678.6h0M255.5 628.5h0M218.3 687.2h0M256.2 617.9h0M292.7 685.9h0M242.9 665.4h0M242.8 616.6h0M243.6 690.1h0M301.8 681.0h0M303.1 683.4h0M287.3 643.5h0M202.0 662.2h0M229.7 694.1h0M311.0 661.2h0M264.7 662.9h0M202.2 677.9h0M262.6 611.3h0M241.6 630.7h0M258.9 650.8h0M260.0 691.3h0M249.9 644.6h0M185.8 686.2h0M261.3 661.5h0M216.3 673.0h0M297.9 624.2h0M224.2 652.7h0M311.0 671.9h0M266.0 628.4h0M276.5 646.3h0M245.1 692.6h0M191.6 675.3h0M318.7 659.8h0M296.4 676.9h0M230.8 656.0h0M294.0 639.3h0M285.0 657.0h0M214.4 692.9h0M244.4 656.8h0M246.7 664.6h0M311.8 655.0h0M329.8 678.5h0M223.5 650.8h0M190.1 686.2h0M266.8 621.4h0M231.6 649.7h0M254.1 616.9h0M255.8 683.1h0M292.3 659.5h0M256.6 615.4h0M250.0 646.5h0M238.6 651.4h0M218.3 651.0h0M233.7 658.4h0M216.6 684.8h0M297.7 689.1h0M230.8 592.3h0M310.0 657.9h0M321.0 647.7h0M287.7 688.1h0M205.6 690.7h0M216.3 706.7h0M206.4 674.1h0M218.8 627.8h0M189.1 683.1h0M250.2 592.8h0M292.0 702.4h0M284.2 633.5h0M214.5 671.4h0M240.4 637.3h0M281.5 643.9h0M258.5 638.5h0M222.8 671.8h0M260.4 658.8h0M235.8 635.2h0" stroke="#2a842e" stroke-opacity="0.62" stroke-width="3.30" stroke-linecap="round" fill="none"/>
<path d="M284.8 698.2h0M293.3 694.9h0M283.5 696.8h0M304.3 692.2h0M301.9 694.7h0M330.2 695.5h0M286.2 675.9h0M295.1 678.6h0M301.6 682.1h0M289.6 690.3h0M289.3 677.2h0M304.0 693.4h0M290.9 667.3h0M286.5 703.3h0M297.8 689.1h0M286.7 697.7h0M315.4 676.0h0M294.4 679.5h0M296.6 668.9h0M290.9 716.4h0M297.3 713.8h0M281.5 699.3h0M280.5 704.7h0M315.6 677.0h0M282.0 685.9h0M308.0 689.2h0M295.4 679.7h0M293.1 691.1h0M317.5 671.9h0M293.7 705.1h0M284.4 689.4h0M289.8 697.8h0M289.2 678.0h0M287.2 693.5h0M295.9 691.5h0M285.2 694.9h0M288.9 715.4h0" stroke="#d02626" stroke-opacity="0.62" stroke-width="3.50" stroke-linecap="round" fill="none"/>
<path d="M289.4 702.4h0M302.1 668.3h0M295.1 706.8h0M297.8 708.9h0M298.6 683.3h0M304.8 695.8h0M291.2 707.9h0M321.0 692.1h0M320.2 695.8h0M300.4 700.6h0M285.5 701.4h0M309.5 683.5h0M290.6 686.9h0M313.9 702.7h0M310.2 684.5h0M296.7 685.4h0M301.5 673.6h0M298.5 710.6h0M298.0 681.8h0M319.3 689.1h0M316.1 675.9h0M315.6 668.3h0M310.9 664.4h0M315.5 670.9h0M303.0 681.8h0M290.5 694.2h0M298.4 707.1h0M300.0 694.7h0M296.9 696.7h0M296.7 686.3h0M292.4 705.0h0M302.7 682.1h0M279.3 702.7h0M299.2 686.9h0M301.1 675.1h0M287.4 713.8h0M301.5 694.7h0" stroke="#d02626" stroke-opacity="0.62" stroke-width="3.50" stroke-linecap="round" fill="none"/>
<path d="M308.3 711.1h0M294.9 703.3h0M283.6 704.0h0M285.5 709.1h0M303.9 681.0h0M307.7 658.7h0M291.2 711.8h0M290.7 696.0h0M318.6 677.1h0M295.0 697.3h0M301.5 654.2h0M286.2 708.1h0M287.3 696.5h0M303.3 704.1h0M314.0 689.0h0M305.5 671.3h0M291.4 709.0h0M306.4 682.4h0M299.8 710.0h0M309.9 674.0h0M300.2 691.0h0M301.4 676.6h0M309.6 685.8h0M300.9 692.3h0M298.4 688.3h0M299.9 661.3h0M297.1 704.6h0M302.7 672.7h0M287.3 686.4h0M286.2 667.2h0M300.5 675.5h0M294.8 683.9h0M305.9 692.3h0M310.9 662.6h0M289.4 702.8h0M306.7 685.3h0M314.0 686.5h0" stroke="#d02626" stroke-opacity="0.62" stroke-width="3.50" stroke-linecap="round" fill="none"/>
<path d="M282.2 698.0h0M308.3 685.6h0M308.0 699.4h0M291.6 685.4h0M331.3 704.7h0M308.1 702.0h0M304.6 701.6h0M289.7 689.8h0M287.9 695.4h0M299.4 701.5h0M305.9 645.2h0M302.4 658.7h0M281.2 676.0h0M280.9 701.3h0M313.1 705.0h0M302.1 673.4h0M305.3 670.4h0M327.2 699.2h0M300.5 673.5h0M298.3 693.4h0M311.4 698.7h0M280.7 712.4h0M298.5 700.1h0M307.1 676.2h0M300.7 712.1h0M309.4 687.0h0M315.5 680.7h0M304.7 714.3h0M296.2 688.9h0M305.1 679.2h0M288.9 670.3h0M300.2 689.4h0M289.1 670.6h0M293.3 688.5h0M290.7 707.8h0M295.4 688.0h0" stroke="#d02626" stroke-opacity="0.62" stroke-width="3.50" stroke-linecap="round" fill="none"/>
<path d="M299.3 716.5h0M300.5 692.9h0M324.1 677.1h0M297.9 670.2h0M299.2 710.0h0M303.5 695.5h0M289.7 680.6h0M296.1 683.1h0M300.3 686.8h0M308.3 675.5h0M289.3 697.2h0M298.9 691.7h0M297.1 672.7h0M284.4 681.7h0M291.5 647.7h0M313.8 672.0h0M286.8 681.3h0M305.1 672.0h0M292.5 673.0h0M292.7 666.9h0M313.9 698.9h0M287.2 694.5h0M296.8 708.6h0M293.9 676.7h0M296.3 691.0h0M308.0 705.1h0M322.6 684.0h0M301.6 693.6h0M302.4 677.6h0M328.1 683.5h0M284.6 685.7h0M317.1 693.9h0M302.8 699.2h0M304.7 692.7h0M291.5 715.4h0M312.4 695.2h0" stroke="#d02626" stroke-opacity="0.62" stroke-width="3.50" stroke-linecap="round" fill="none"/>
<path d="M307.6 634.3h0M381.3 658.4h0M328.7 663.9h0M319.4 668.1h0M291.9 678.9h0M370.5 711.0h0M297.7 693.7h0M303.3 706.5h0M384.8 662.5h0M330.5 623.4h0M379.4 630.7h0M303.9 679.8h0M362.3 633.5h0M427.9 598.7h0M327.0 664.2h0M304.7 594.7h0M286.1 715.6h0M281.4 684.3h0M397.3 662.3h0M332.0 687.4h0M302.4 686.6h0M280.1 661.1h0M310.5 706.3h0M444.4 689.8h0M299.6 692.9h0M301.3 703.1h0M298.0 709.1h0M310.0 666.4h0M296.9 660.4h0M309.6 661.6h0M292.5 679.3h0M321.1 640.6h0M309.4 655.6h0M344.3 653.2h0M345.9 682.1h0M319.2 643.4h0M317.3 692.8h0M399.5 613.5h0M301.3 659.5h0M313.2 631.9h0M313.1 691.6h0M345.5 663.9h0M313.0 660.5h0M335.2 688.1h0M331.3 603.7h0M299.3 681.9h0M389.5 684.6h0M397.8 603.5h0M322.1 649.4h0M303.7 629.0h0M294.6 667.9h0M289.1 705.8h0M351.5 619.5h0M341.6 598.1h0M387.7 587.7h0M290.9 670.1h0M289.2 665.4h0M288.9 615.2h0M367.6 680.3h0M317.2 666.2h0M350.7 696.4h0M314.8 703.2h0M296.3 680.9h0M307.0 675.3h0M317.0 661.6h0M330.2 671.2h0M348.6 619.3h0M296.9 610.0h0" stroke="#dc3434" stroke-opacity="0.52" stroke-width="3.50" stroke-linecap="round" fill="none"/>
<path d="M313.1 676.3h0M310.7 678.0h0M339.5 626.9h0M451.0 635.6h0M459.3 569.3h0M407.7 642.4h0M286.3 641.4h0M367.3 628.5h0M322.2 625.0h0M325.2 688.1h0M312.2 672.2h0M302.2 660.0h0M314.0 667.9h0M282.3 674.3h0M362.9 710.3h0M332.7 678.9h0M325.1 652.3h0M349.0 643.0h0M292.8 701.9h0M337.7 536.8h0M284.8 688.8h0M285.3 674.0h0M349.3 609.6h0M451.7 636.6h0M328.7 687.6h0M314.2 622.5h0M383.4 593.3h0M409.9 640.2h0M386.5 635.2h0M411.4 594.8h0M301.3 667.4h0M311.6 697.3h0M315.0 623.8h0M329.5 583.8h0M315.7 702.1h0M288.3 712.1h0M280.9 672.7h0M375.6 663.6h0M285.9 675.3h0M373.6 652.6h0M281.4 661.1h0M333.6 613.8h0M345.2 688.6h0M354.8 685.9h0M298.9 666.6h0M328.3 650.2h0M282.7 652.1h0M299.3 679.3h0M285.3 704.0h0M297.6 672.9h0M310.8 709.7h0M293.5 648.5h0M295.5 694.4h0M414.6 696.5h0M310.1 657.0h0M381.8 646.5h0M305.3 713.4h0M329.3 632.2h0M304.6 626.0h0M378.9 683.1h0M403.6 690.5h0M377.6 653.7h0M284.7 656.6h0M375.6 639.7h0M287.5 657.1h0M346.3 649.1h0M367.3 654.5h0M354.7 690.0h0" stroke="#dc3434" stroke-opacity="0.52" stroke-width="3.50" stroke-linecap="round" fill="none"/>
<path d="M325.3 710.7h0M350.6 676.3h0M280.8 682.0h0M317.0 671.3h0M337.3 701.0h0M319.5 635.6h0M320.8 669.2h0M318.1 639.9h0M304.3 666.2h0M292.7 652.8h0M494.0 655.7h0M302.9 665.9h0M429.7 674.0h0M304.2 665.0h0M324.5 625.7h0M303.4 668.0h0M343.8 690.0h0M358.7 642.1h0M336.3 636.7h0M351.8 654.5h0M385.5 667.1h0M408.3 647.3h0M306.5 708.2h0M401.1 632.2h0M297.6 688.1h0M291.9 660.2h0M305.0 625.7h0M379.6 644.2h0M317.1 679.0h0M329.3 650.6h0M304.0 658.5h0M399.7 615.7h0M366.5 640.0h0M288.0 662.4h0M290.4 667.6h0M319.0 623.8h0M387.7 652.0h0M401.7 636.4h0M304.9 657.5h0M302.3 692.7h0M290.2 700.3h0M307.9 634.7h0M447.5 671.7h0M319.5 639.3h0M335.1 672.0h0M308.0 628.0h0M306.7 638.0h0M331.6 695.5h0M367.5 663.7h0M282.8 701.0h0M311.6 699.4h0M388.1 618.9h0M403.3 639.5h0M327.0 675.7h0M333.9 626.3h0M314.3 716.4h0M373.1 638.9h0M329.0 646.4h0M299.9 699.4h0M292.8 705.4h0M358.3 603.7h0M381.1 626.2h0M364.2 640.1h0M308.8 709.0h0M298.4 652.8h0M319.0 668.3h0M313.1 636.9h0" stroke="#dc3434" stroke-opacity="0.52" stroke-width="3.50" stroke-linecap="round" fill="none"/>
<path d="M314.4 651.2h0M321.0 669.5h0M340.1 667.3h0M327.1 629.4h0M408.2 641.6h0M408.5 642.0h0M319.2 624.2h0M282.4 704.1h0M320.2 656.8h0M369.4 653.9h0M352.8 620.4h0M348.6 640.1h0M338.6 672.0h0M319.5 695.1h0M302.6 696.3h0M320.7 647.7h0M299.1 663.8h0M294.6 644.9h0M294.7 669.6h0M301.6 629.8h0M293.2 683.7h0M371.1 626.8h0M288.7 657.6h0M285.2 669.0h0M334.0 699.8h0M331.1 679.4h0M299.5 690.6h0M314.9 667.4h0M355.5 711.9h0M316.6 679.5h0M295.6 688.8h0M308.6 713.9h0M296.9 688.3h0M296.8 683.9h0M350.5 700.1h0M305.1 692.7h0M319.4 627.5h0M306.1 649.3h0M293.2 598.5h0M303.5 645.5h0M282.2 669.9h0M296.8 664.0h0M300.7 592.8h0M363.6 554.3h0M343.3 641.0h0M365.2 710.1h0M300.0 687.6h0M383.0 640.0h0M314.5 634.9h0M291.9 643.6h0M363.8 665.5h0M363.2 647.6h0M326.0 668.5h0M305.4 627.8h0M362.8 659.5h0M296.6 704.5h0M316.7 663.4h0M292.2 669.0h0M417.1 639.5h0M341.3 575.7h0M295.9 658.4h0M362.9 706.6h0M329.4 596.1h0M351.1 641.7h0M462.1 680.0h0M300.5 642.7h0M382.8 645.3h0" stroke="#dc3434" stroke-opacity="0.52" stroke-width="3.50" stroke-linecap="round" fill="none"/>
<path d="M330.2 673.1h0M412.7 702.6h0M314.5 709.5h0M465.3 661.5h0M311.0 658.7h0M298.0 714.4h0M352.7 614.7h0M299.3 612.3h0M298.4 701.6h0M290.6 642.1h0M311.9 687.1h0M413.1 642.3h0M361.4 616.9h0M291.2 661.0h0M358.4 694.8h0M471.2 691.9h0M379.6 683.4h0M321.3 702.3h0M341.1 700.6h0M285.1 668.5h0M355.2 670.9h0M320.2 696.4h0M331.2 652.7h0M354.2 614.4h0M374.8 677.3h0M365.6 600.0h0M289.5 698.1h0M337.2 691.4h0M289.8 673.3h0M304.4 690.7h0M302.4 688.2h0M342.2 680.5h0M289.0 663.7h0M288.4 666.1h0M322.5 669.3h0M389.7 642.0h0M369.9 644.6h0M399.7 669.4h0M325.5 667.1h0M422.3 671.5h0M367.4 688.0h0M325.5 678.8h0M353.2 686.0h0M334.0 639.1h0M316.2 664.1h0M286.7 716.1h0M294.5 670.7h0M290.9 704.0h0M433.3 634.6h0M295.0 692.8h0M289.9 684.9h0M349.6 675.1h0M392.0 665.0h0M329.1 709.0h0M391.7 599.8h0M313.5 648.9h0M283.2 702.2h0M294.0 632.4h0M387.1 669.0h0M310.8 672.6h0M314.2 683.2h0M299.7 649.8h0M304.5 639.8h0M345.5 675.0h0M407.6 628.7h0M312.2 657.6h0M314.7 646.6h0" stroke="#dc3434" stroke-opacity="0.52" stroke-width="3.50" stroke-linecap="round" fill="none"/>
<rect x="58.5" y="22.0" width="456.0" height="408.0" fill="none" stroke="#333" stroke-width="1.1"/>
<line x1="75.3" y1="430.0" x2="75.3" y2="437.5" stroke="#333" stroke-width="1.1"/>
<text x="74.3" y="447.3" font-size="9.3" text-anchor="middle" fill="#111" stroke="#111">−6</text>
<line x1="135.6" y1="430.0" x2="135.6" y2="437.5" stroke="#333" stroke-width="1.1"/>
<text x="134.6" y="447.3" font-size="9.3" text-anchor="middle" fill="#111" stroke="#111">−4</text>
<line x1="195.9" y1="430.0" x2="195.9" y2="437.5" stroke="#333" stroke-width="1.1"/>
<text x="194.9" y="447.3" font-size="9.3" text-anchor="middle" fill="#111" stroke="#111">−2</text>
<line x1="256.2" y1="430.0" x2="256.2" y2="437.5" stroke="#333" stroke-width="1.1"/>
<text x="256.2" y="447.3" font-size="9.3" text-anchor="middle" fill="#111" stroke="#111">0</text>
<line x1="316.5" y1="430.0" x2="316.5" y2="437.5" stroke="#333" stroke-width="1.1"/>
<text x="316.5" y="447.3" font-size="9.3" text-anchor="middle" fill="#111" stroke="#111">2</text>
<line x1="376.8" y1="430.0" x2="376.8" y2="437.5" stroke="#333" stroke-width="1.1"/>
<text x="376.8" y="447.3" font-size="9.3" text-anchor="middle" fill="#111" stroke="#111">4</text>
<line x1="437.1" y1="430.0" x2="437.1" y2="437.5" stroke="#333" stroke-width="1.1"/>
<text x="437.1" y="447.3" font-size="9.3" text-anchor="middle" fill="#111" stroke="#111">6</text>
<line x1="497.4" y1="430.0" x2="497.4" y2="437.5" stroke="#333" stroke-width="1.1"/>
<text x="497.4" y="447.3" font-size="9.3" text-anchor="middle" fill="#111" stroke="#111">8</text>
<line x1="51.0" y1="414.9" x2="58.5" y2="414.9" stroke="#333" stroke-width="1.1"/>
<text transform="translate(48.8 416.9) rotate(-90)" font-size="9.3" text-anchor="middle" fill="#111" stroke="#111">−6</text>
<line x1="51.0" y1="361.0" x2="58.5" y2="361.0" stroke="#333" stroke-width="1.1"/>
<text transform="translate(48.8 363.0) rotate(-90)" font-size="9.3" text-anchor="middle" fill="#111" stroke="#111">−4</text>
<line x1="51.0" y1="307.1" x2="58.5" y2="307.1" stroke="#333" stroke-width="1.1"/>
<text transform="translate(48.8 309.1) rotate(-90)" font-size="9.3" text-anchor="middle" fill="#111" stroke="#111">−2</text>
<line x1="51.0" y1="253.2" x2="58.5" y2="253.2" stroke="#333" stroke-width="1.1"/>
<text transform="translate(48.8 253.2) rotate(-90)" font-size="9.3" text-anchor="middle" fill="#111" stroke="#111">0</text>
<line x1="51.0" y1="199.3" x2="58.5" y2="199.3" stroke="#333" stroke-width="1.1"/>
<text transform="translate(48.8 199.3) rotate(-90)" font-size="9.3" text-anchor="middle" fill="#111" stroke="#111">2</text>
<line x1="51.0" y1="145.4" x2="58.5" y2="145.4" stroke="#333" stroke-width="1.1"/>
<text transform="translate(48.8 145.4) rotate(-90)" font-size="9.3" text-anchor="middle" fill="#111" stroke="#111">4</text>
<line x1="51.0" y1="91.5" x2="58.5" y2="91.5" stroke="#333" stroke-width="1.1"/>
<text transform="translate(48.8 91.5) rotate(-90)" font-size="9.3" text-anchor="middle" fill="#111" stroke="#111">6</text>
<line x1="51.0" y1="37.6" x2="58.5" y2="37.6" stroke="#333" stroke-width="1.1"/>
<text transform="translate(48.8 37.6) rotate(-90)" font-size="9.3" text-anchor="middle" fill="#111" stroke="#111">8</text>
<text x="166.3" y="463.6" font-size="8.8" fill="#111" stroke="#111">Th0 (<tspan font-style="italic">Ezh2<tspan baseline-shift="3.34" font-size="4.84">fl/fl</tspan>.CD4Cre - Ezh2<tspan baseline-shift="3.34" font-size="4.84">fl/fl</tspan></tspan>) Log2 fold change</text>
<text transform="translate(32.3 358) rotate(-90)" font-size="8.8" fill="#111" stroke="#111">iTreg (<tspan font-style="italic">Ezh2<tspan baseline-shift="3.34" font-size="4.84">fl/fl</tspan>.CD4Cre - Ezh2<tspan baseline-shift="3.34" font-size="4.84">fl/fl</tspan></tspan>) Log2 fold change</text>
<rect x="58.5" y="22.0" width="75.5" height="47" fill="#fff" stroke="#333" stroke-width="1.1"/>
<text x="62" y="35.2" font-size="8.6" fill="#2a2ab0" stroke="#2a2ab0">Th1 genes</text>
<text x="62" y="44.5" font-size="8.6" fill="#111" stroke="#111">Apoptosis genes</text>
<text x="62" y="53.8" font-size="8.6" fill="#d020c0" stroke="#d020c0">Treg genes</text>
<text x="62" y="63.1" font-size="8.6" fill="#707070" stroke="#707070">Others</text>
<text x="61.5" y="81.5" font-size="8.8" fill="#111" stroke="#111">Pearson’s correlation: 0.5237</text>
<text x="61.5" y="91.8" font-size="8.8" fill="#111" stroke="#111">P value = 0</text>
<rect x="403.2" y="382.7" width="111.30000000000001" height="47.30000000000001" fill="#fff" stroke="#333" stroke-width="1.1"/>
<circle cx="410.3" cy="392.0" r="1.4" fill="#8a88aa"/>
<text x="417.6" y="395.1" font-size="8.7" fill="#111" stroke="#111">Th0 adj.P &lt; 0.05</text>
<circle cx="410.3" cy="401.4" r="1.4" fill="#7a9e82"/>
<text x="417.6" y="404.5" font-size="8.7" fill="#111" stroke="#111">iTreg adj.P &lt; 0.05</text>
<circle cx="410.3" cy="410.7" r="1.4" fill="#c08c96"/>
<text x="417.6" y="413.8" font-size="8.7" fill="#111" stroke="#111">Th0 &amp; iTreg adj.P &lt; 0.05</text>
<circle cx="410.3" cy="420.1" r="1.4" fill="#b4b4b4"/>
<text x="417.6" y="423.2" font-size="8.7" fill="#111" stroke="#111">Not significant</text>
<line x1="256.5" y1="22.0" x2="256.5" y2="430.0" stroke="#222" stroke-width="1.05" stroke-dasharray="3.7 2.9"/>
<line x1="58.5" y1="253.2" x2="514.5" y2="253.2" stroke="#222" stroke-width="1.1" stroke-dasharray="3.6 2.73"/>
<circle cx="471.5" cy="88" r="2.4" fill="#c8121e" stroke="#000" stroke-opacity="0.35" stroke-width="0.5"/>
<circle cx="298.75" cy="121.25" r="2.4" fill="#2a5a4c" stroke="#000" stroke-opacity="0.35" stroke-width="0.5"/>
<circle cx="326.25" cy="128" r="2.4" fill="#c8121e" stroke="#000" stroke-opacity="0.35" stroke-width="0.5"/>
<circle cx="390" cy="129.5" r="2.4" fill="#c8121e" stroke="#000" stroke-opacity="0.35" stroke-width="0.5"/>
<circle cx="360" cy="138" r="2.4" fill="#c8121e" stroke="#000" stroke-opacity="0.35" stroke-width="0.5"/>
<circle cx="403.5" cy="152.5" r="2.4" fill="#3a2278" stroke="#000" stroke-opacity="0.35" stroke-width="0.5"/>
<circle cx="264.8" cy="157.8" r="2.4" fill="#2e6e42" stroke="#000" stroke-opacity="0.35" stroke-width="0.5"/>
<circle cx="368.25" cy="161.25" r="2.4" fill="#c8121e" stroke="#000" stroke-opacity="0.35" stroke-width="0.5"/>
<circle cx="363.75" cy="168" r="2.4" fill="#c8121e" stroke="#000" stroke-opacity="0.35" stroke-width="0.5"/>
<circle cx="361.25" cy="171.5" r="2.4" fill="#c8121e" stroke="#000" stroke-opacity="0.35" stroke-width="0.5"/>
<circle cx="318" cy="173.75" r="2.4" fill="#c8121e" stroke="#000" stroke-opacity="0.35" stroke-width="0.5"/>
<circle cx="346.25" cy="192" r="2.4" fill="#c8121e" stroke="#000" stroke-opacity="0.35" stroke-width="0.5"/>
<circle cx="397.5" cy="192" r="2.4" fill="#c8121e" stroke="#000" stroke-opacity="0.35" stroke-width="0.5"/>
<circle cx="418" cy="190.5" r="2.4" fill="#3a2278" stroke="#000" stroke-opacity="0.35" stroke-width="0.5"/>
<circle cx="367" cy="212" r="2.4" fill="#3a2278" stroke="#000" stroke-opacity="0.35" stroke-width="0.5"/>
<circle cx="375.5" cy="214.5" r="2.4" fill="#3a2278" stroke="#000" stroke-opacity="0.35" stroke-width="0.5"/>
<circle cx="363" cy="227.5" r="2.4" fill="#3a2278" stroke="#000" stroke-opacity="0.35" stroke-width="0.5"/>
<circle cx="429.25" cy="219.25" r="2.4" fill="#3a2278" stroke="#000" stroke-opacity="0.35" stroke-width="0.5"/>
<circle cx="354.5" cy="231.25" r="2.4" fill="#3a2278" stroke="#000" stroke-opacity="0.35" stroke-width="0.5"/>
<circle cx="378.75" cy="242.5" r="2.4" fill="#3a2278" stroke="#000" stroke-opacity="0.35" stroke-width="0.5"/>
<circle cx="270.5" cy="203" r="2.4" fill="#2e6e42" stroke="#000" stroke-opacity="0.35" stroke-width="0.5"/>
<circle cx="290.4" cy="202.3" r="2.4" fill="#c8121e" stroke="#000" stroke-opacity="0.35" stroke-width="0.5"/>
<circle cx="309.5" cy="205.7" r="2.4" fill="#c8121e" stroke="#000" stroke-opacity="0.35" stroke-width="0.5"/>
<circle cx="266.3" cy="206.8" r="2.4" fill="#2e6e42" stroke="#000" stroke-opacity="0.35" stroke-width="0.5"/>
<circle cx="267.2" cy="211.4" r="2.4" fill="#2e6e42" stroke="#000" stroke-opacity="0.35" stroke-width="0.5"/>
<circle cx="254.5" cy="215.7" r="2.4" fill="#2e6e42" stroke="#000" stroke-opacity="0.35" stroke-width="0.5"/>
<circle cx="272" cy="235.3" r="2.4" fill="#c8121e" stroke="#000" stroke-opacity="0.35" stroke-width="0.5"/>
<circle cx="293.2" cy="235.8" r="2.4" fill="#3a2278" stroke="#000" stroke-opacity="0.35" stroke-width="0.5"/>
<circle cx="270" cy="241" r="2.4" fill="#c8121e" stroke="#000" stroke-opacity="0.35" stroke-width="0.5"/>
<circle cx="286.5" cy="249.5" r="2.4" fill="#3a2278" stroke="#000" stroke-opacity="0.35" stroke-width="0.5"/>
<circle cx="296.3" cy="248.5" r="2.4" fill="#3a2278" stroke="#000" stroke-opacity="0.35" stroke-width="0.5"/>
<circle cx="297.5" cy="267" r="2.4" fill="#c8121e" stroke="#000" stroke-opacity="0.35" stroke-width="0.5"/>
<circle cx="222.5" cy="273.75" r="2.4" fill="#c8121e" stroke="#000" stroke-opacity="0.35" stroke-width="0.5"/>
<circle cx="266.25" cy="281.25" r="2.4" fill="#2e6e42" stroke="#000" stroke-opacity="0.35" stroke-width="0.5"/>
<circle cx="271.25" cy="281.5" r="2.4" fill="#2e6e42" stroke="#000" stroke-opacity="0.35" stroke-width="0.5"/>
<circle cx="233.75" cy="280" r="2.4" fill="#c8121e" stroke="#000" stroke-opacity="0.35" stroke-width="0.5"/>
<circle cx="263.75" cy="284.5" r="2.4" fill="#2a5a4c" stroke="#000" stroke-opacity="0.35" stroke-width="0.5"/>
<circle cx="208.25" cy="294.5" r="2.4" fill="#c8121e" stroke="#000" stroke-opacity="0.35" stroke-width="0.5"/>
<circle cx="200" cy="306.75" r="2.4" fill="#2e6e42" stroke="#000" stroke-opacity="0.35" stroke-width="0.5"/>
<circle cx="213" cy="308.25" r="2.4" fill="#c8121e" stroke="#000" stroke-opacity="0.35" stroke-width="0.5"/>
<circle cx="154.8" cy="341.5" r="2.4" fill="#c8121e" stroke="#000" stroke-opacity="0.35" stroke-width="0.5"/>
<circle cx="160" cy="344" r="2.4" fill="#c8121e" stroke="#000" stroke-opacity="0.35" stroke-width="0.5"/>
<circle cx="181.5" cy="347" r="2.4" fill="#c8121e" stroke="#000" stroke-opacity="0.35" stroke-width="0.5"/>
<circle cx="210.2" cy="341" r="2.4" fill="#2e6e42" stroke="#000" stroke-opacity="0.35" stroke-width="0.5"/>
<circle cx="241" cy="369.8" r="2.4" fill="#2e6e42" stroke="#000" stroke-opacity="0.35" stroke-width="0.5"/>
<circle cx="272.3" cy="343" r="2.4" fill="#2e6e42" stroke="#000" stroke-opacity="0.35" stroke-width="0.5"/>
<circle cx="273.8" cy="373.8" r="2.4" fill="#2e6e42" stroke="#000" stroke-opacity="0.35" stroke-width="0.5"/>
<text x="475.5" y="91.1" font-size="8.7" font-style="italic" fill="#808080" stroke="#808080">Il10</text>
<text x="288.75" y="118.1" font-size="8.7" font-style="italic" fill="#2228c0" stroke="#2228c0">Il12rb2</text>
<text x="321.25" y="125.1" font-size="8.7" font-style="italic" fill="#b0b0b0" stroke="#b0b0b0">Tigit</text>
<text x="393.75" y="132.6" font-size="8.7" font-style="italic" fill="#808080" stroke="#808080">Eomes</text>
<text x="365.5" y="142.6" font-size="8.7" font-style="italic" fill="#111" stroke="#111">Fasl</text>
<text x="407.5" y="155.6" font-size="8.7" font-style="italic" fill="#808080" stroke="#808080">Pparg</text>
<text x="255.5" y="154.5" font-size="8.7" font-style="italic" fill="#b0b0b0" stroke="#b0b0b0">Pde3b</text>
<text x="372" y="164.3" font-size="8.7" font-style="italic" fill="#808080" stroke="#808080">Runx2</text>
<text x="367.5" y="171.8" font-size="8.7" font-style="italic" fill="#2228c0" stroke="#2228c0">Nkg7</text>
<text x="332" y="174.3" font-size="8.7" font-style="italic" fill="#111" stroke="#111">Dapk2</text>
<text x="300" y="177.3" font-size="8.7" font-style="italic" fill="#111" stroke="#111">Mikl</text>
<text x="350" y="195.1" font-size="8.7" font-style="italic" fill="#808080" stroke="#808080">Id2</text>
<text x="389.5" y="188.1" font-size="8.7" font-style="italic" fill="#b0b0b0" stroke="#b0b0b0">Ahrr</text>
<text x="412.5" y="187.6" font-size="8.7" font-style="italic" fill="#2228c0" stroke="#2228c0">Ifng</text>
<text x="357" y="208.6" font-size="8.7" font-style="italic" fill="#2228c0" stroke="#2228c0">Csf2rb</text>
<text x="380" y="217.6" font-size="8.7" font-style="italic" fill="#111" stroke="#111">Tnfrsf8</text>
<text x="356.25" y="224.3" font-size="8.7" font-style="italic" fill="#2228c0" stroke="#2228c0">Csf2</text>
<text x="413.75" y="228.9" font-size="8.7" font-style="italic" fill="#111" stroke="#111">Emilin2</text>
<text x="335.5" y="241.1" font-size="8.7" font-style="italic" fill="#111" stroke="#111">Lrrk2</text>
<text x="383.25" y="248.6" font-size="8.7" font-style="italic" fill="#111" stroke="#111">Lgals3</text>
<text x="262.5" y="199.1" font-size="8.7" font-style="italic" fill="#b0b0b0" stroke="#b0b0b0">Tgfbr3</text>
<text x="294.2" y="202.9" font-size="8.7" font-style="italic" fill="#808080" stroke="#808080">Il15ra</text>
<text x="316.4" y="208.8" font-size="8.7" font-style="italic" fill="#b0b0b0" stroke="#b0b0b0">Themis2</text>
<text x="243" y="209.1" font-size="8.7" font-style="italic" fill="#2228c0" stroke="#2228c0">Stat1</text>
<text x="270" y="216.7" font-size="8.7" font-style="italic" fill="#2228c0" stroke="#2228c0">Tbx21</text>
<text x="230" y="220.3" font-size="8.7" font-style="italic" fill="#2228c0" stroke="#2228c0">Stat4</text>
<text x="264.6" y="232.5" font-size="8.7" font-style="italic" fill="#2228c0" stroke="#2228c0">Il21r</text>
<text x="298" y="238.9" font-size="8.7" font-style="italic" fill="#111" stroke="#111">Tnfsf14</text>
<text x="274" y="245.1" font-size="8.7" font-style="italic" fill="#111" stroke="#111">Tnfrsf1a</text>
<text x="255" y="252.6" font-size="8.7" font-style="italic" fill="#111" stroke="#111">Tnfrsf1b</text>
<text x="300.6" y="251.6" font-size="8.7" font-style="italic" fill="#111" stroke="#111">Tnfsf10</text>
<text x="291.25" y="264.4" font-size="8.7" font-style="italic" fill="#2228c0" stroke="#2228c0">Vdr</text>
<text x="187" y="276.9" font-size="8.7" font-style="italic" fill="#111" stroke="#111">Tnfrsf18</text>
<text x="259.5" y="277.6" font-size="8.7" font-style="italic" fill="#cc22c0" stroke="#cc22c0">Smad3</text>
<text x="275.5" y="285.6" font-size="8.7" font-style="italic" fill="#808080" stroke="#808080">Gata3</text>
<text x="232.5" y="290.1" font-size="8.7" font-style="italic" fill="#cc22c0" stroke="#cc22c0">Ikzf4</text>
<text x="262.5" y="295.1" font-size="8.7" font-style="italic" fill="#2228c0" stroke="#2228c0">Ifngr2</text>
<text x="212" y="297.6" font-size="8.7" font-style="italic" fill="#808080" stroke="#808080">Socs2</text>
<text x="192.5" y="304.4" font-size="8.7" font-style="italic" fill="#cc22c0" stroke="#cc22c0">Il2ra</text>
<text x="217.5" y="311.4" font-size="8.7" font-style="italic" fill="#808080" stroke="#808080">Fos</text>
<text x="147.7" y="337.9" font-size="8.7" font-style="italic" fill="#b0b0b0" stroke="#b0b0b0">Traf1</text>
<text x="152.3" y="355.4" font-size="8.7" font-style="italic" fill="#808080" stroke="#808080">Il6ra</text>
<text x="172.3" y="344.6" font-size="8.7" font-style="italic" fill="#cc22c0" stroke="#cc22c0">Foxp3</text>
<text x="213.8" y="344.1" font-size="8.7" font-style="italic" fill="#808080" stroke="#808080">Nfrp10</text>
<text x="231.7" y="367.7" font-size="8.7" font-style="italic" fill="#cc22c0" stroke="#cc22c0">Runx1</text>
<text x="276" y="346.1" font-size="8.7" font-style="italic" fill="#808080" stroke="#808080">Nrp1</text>
<text x="277.5" y="376.3" font-size="8.7" font-style="italic" fill="#808080" stroke="#808080">Sox4</text>
<rect x="62.0" y="514.4" width="455.79999999999995" height="408.30000000000007" fill="none" stroke="#505050" stroke-width="1.35"/>
<line x1="120.5" y1="922.7" x2="120.5" y2="930.2" stroke="#333" stroke-width="1.1"/>
<text x="119.5" y="940.8" font-size="9.3" text-anchor="middle" fill="#111" stroke="#111">−4</text>
<line x1="183.6" y1="922.7" x2="183.6" y2="930.2" stroke="#333" stroke-width="1.1"/>
<text x="182.6" y="940.8" font-size="9.3" text-anchor="middle" fill="#111" stroke="#111">−2</text>
<line x1="246.8" y1="922.7" x2="246.8" y2="930.2" stroke="#333" stroke-width="1.1"/>
<text x="246.8" y="940.8" font-size="9.3" text-anchor="middle" fill="#111" stroke="#111">0</text>
<line x1="310.0" y1="922.7" x2="310.0" y2="930.2" stroke="#333" stroke-width="1.1"/>
<text x="310.0" y="940.8" font-size="9.3" text-anchor="middle" fill="#111" stroke="#111">2</text>
<line x1="373.1" y1="922.7" x2="373.1" y2="930.2" stroke="#333" stroke-width="1.1"/>
<text x="373.1" y="940.8" font-size="9.3" text-anchor="middle" fill="#111" stroke="#111">4</text>
<line x1="436.3" y1="922.7" x2="436.3" y2="930.2" stroke="#333" stroke-width="1.1"/>
<text x="436.3" y="940.8" font-size="9.3" text-anchor="middle" fill="#111" stroke="#111">6</text>
<line x1="499.4" y1="922.7" x2="499.4" y2="930.2" stroke="#333" stroke-width="1.1"/>
<text x="499.4" y="940.8" font-size="9.3" text-anchor="middle" fill="#111" stroke="#111">8</text>
<line x1="54.0" y1="863.3" x2="62.0" y2="863.3" stroke="#333" stroke-width="1.1"/>
<text transform="translate(50.0 865.3) rotate(-90)" font-size="9.3" text-anchor="middle" fill="#111" stroke="#111">−2</text>
<line x1="54.0" y1="802.1" x2="62.0" y2="802.1" stroke="#333" stroke-width="1.1"/>
<text transform="translate(50.0 804.1) rotate(-90)" font-size="9.3" text-anchor="middle" fill="#111" stroke="#111">−1</text>
<line x1="54.0" y1="741.0" x2="62.0" y2="741.0" stroke="#333" stroke-width="1.1"/>
<text transform="translate(50.0 741.0) rotate(-90)" font-size="9.3" text-anchor="middle" fill="#111" stroke="#111">0</text>
<line x1="54.0" y1="679.9" x2="62.0" y2="679.9" stroke="#333" stroke-width="1.1"/>
<text transform="translate(50.0 679.9) rotate(-90)" font-size="9.3" text-anchor="middle" fill="#111" stroke="#111">1</text>
<line x1="54.0" y1="618.7" x2="62.0" y2="618.7" stroke="#333" stroke-width="1.1"/>
<text transform="translate(50.0 618.7) rotate(-90)" font-size="9.3" text-anchor="middle" fill="#111" stroke="#111">2</text>
<line x1="54.0" y1="557.5" x2="62.0" y2="557.5" stroke="#333" stroke-width="1.1"/>
<text transform="translate(50.0 557.5) rotate(-90)" font-size="9.3" text-anchor="middle" fill="#111" stroke="#111">3</text>
<text x="176.2" y="953" font-size="8.7" fill="#111" stroke="#111">Th0 RNA-seq (<tspan font-style="italic">Ezh2<tspan baseline-shift="3.31" font-size="4.79">fl/fl</tspan>.CD4Cre-Ezh2<tspan baseline-shift="3.31" font-size="4.79">fl/fl</tspan></tspan>) Log2 fold change</text>
<text transform="translate(34.1 824.4) rotate(-90)" font-size="8.7" fill="#111" stroke="#111">Th0 ChIP-seq (<tspan font-style="italic">Ezh2<tspan baseline-shift="3.31" font-size="4.79">fl/fl</tspan>-Ezh2<tspan baseline-shift="3.31" font-size="4.79">fl/fl</tspan>.CD4Cre</tspan>) Log2 fold change</text>
<line x1="214.9" y1="514.4" x2="214.9" y2="922.7" stroke="#444" stroke-width="1" stroke-dasharray="1.1 2.15"/>
<line x1="62.0" y1="802.1" x2="517.8" y2="802.1" stroke="#444" stroke-width="1" stroke-dasharray="1.1 2.15"/>
<line x1="277.9" y1="514.4" x2="277.9" y2="922.7" stroke="#444" stroke-width="1" stroke-dasharray="1.1 2.15"/>
<line x1="62.0" y1="679.9" x2="517.8" y2="679.9" stroke="#444" stroke-width="1" stroke-dasharray="1.1 2.15"/>
<circle cx="324.7" cy="581.2" r="2.4" fill="#b81018" stroke="#000" stroke-opacity="0.35" stroke-width="0.5"/>
<circle cx="386.1" cy="595" r="2.4" fill="#b81018" stroke="#000" stroke-opacity="0.35" stroke-width="0.5"/>
<circle cx="432.5" cy="592.7" r="2.4" fill="#b81018" stroke="#000" stroke-opacity="0.35" stroke-width="0.5"/>
<circle cx="410.7" cy="604.8" r="2.4" fill="#b81018" stroke="#000" stroke-opacity="0.35" stroke-width="0.5"/>
<circle cx="394.3" cy="655.4" r="2.4" fill="#b81018" stroke="#000" stroke-opacity="0.35" stroke-width="0.5"/>
<circle cx="471.1" cy="657" r="2.4" fill="#b81018" stroke="#000" stroke-opacity="0.35" stroke-width="0.5"/>
<circle cx="298.75" cy="641.25" r="2.4" fill="#b81018" stroke="#000" stroke-opacity="0.35" stroke-width="0.5"/>
<circle cx="312.5" cy="642.5" r="2.4" fill="#1e7a2a" stroke="#000" stroke-opacity="0.35" stroke-width="0.5"/>
<circle cx="303.25" cy="650" r="2.4" fill="#b81018" stroke="#000" stroke-opacity="0.35" stroke-width="0.5"/>
<circle cx="292" cy="682" r="2.4" fill="#b81018" stroke="#000" stroke-opacity="0.35" stroke-width="0.5"/>
<circle cx="379.4" cy="677.5" r="2.4" fill="#b81018" stroke="#000" stroke-opacity="0.35" stroke-width="0.5"/>
<circle cx="371.5" cy="690.5" r="2.4" fill="#b81018" stroke="#000" stroke-opacity="0.35" stroke-width="0.5"/>
<circle cx="326.25" cy="695.5" r="2.4" fill="#b81018" stroke="#000" stroke-opacity="0.35" stroke-width="0.5"/>
<circle cx="345.5" cy="704.25" r="2.4" fill="#b81018" stroke="#000" stroke-opacity="0.35" stroke-width="0.5"/>
<circle cx="311.25" cy="700.5" r="2.4" fill="#b81018" stroke="#000" stroke-opacity="0.35" stroke-width="0.5"/>
<circle cx="381.3" cy="699" r="2.4" fill="#b81018" stroke="#000" stroke-opacity="0.35" stroke-width="0.5"/>
<circle cx="400.4" cy="692.8" r="2.4" fill="#b81018" stroke="#000" stroke-opacity="0.35" stroke-width="0.5"/>
<circle cx="427" cy="697.7" r="2.4" fill="#b81018" stroke="#000" stroke-opacity="0.35" stroke-width="0.5"/>
<circle cx="415.8" cy="725.2" r="2.4" fill="#5a1eb0" stroke="#000" stroke-opacity="0.35" stroke-width="0.5"/>
<circle cx="290.75" cy="712.5" r="2.4" fill="#b81018" stroke="#000" stroke-opacity="0.35" stroke-width="0.5"/>
<circle cx="355.75" cy="716.25" r="2.4" fill="#5a1eb0" stroke="#000" stroke-opacity="0.35" stroke-width="0.5"/>
<circle cx="285.5" cy="743" r="2.4" fill="#5a1eb0" stroke="#000" stroke-opacity="0.35" stroke-width="0.5"/>
<circle cx="289" cy="750" r="2.4" fill="#5a1eb0" stroke="#000" stroke-opacity="0.35" stroke-width="0.5"/>
<circle cx="285" cy="773.75" r="2.4" fill="#5a1eb0" stroke="#000" stroke-opacity="0.35" stroke-width="0.5"/>
<circle cx="261.5" cy="744.4" r="2.1" fill="#9a9a9a" stroke="#333" stroke-width="0.7"/>
<circle cx="257" cy="788.8" r="2.1" fill="#9a9a9a" stroke="#333" stroke-width="0.7"/>
<text x="329" y="584.3" font-size="8.7" font-style="italic" fill="#111" stroke="#111">Hoxb4</text>
<text x="371" y="592.5" font-size="8.7" font-style="italic" fill="#111" stroke="#111">Eomes</text>
<text x="423.7" y="588.6" font-size="8.7" font-style="italic" fill="#111" stroke="#111">Cdkn2b</text>
<text x="397.3" y="615.4" font-size="8.7" font-style="italic" fill="#111" stroke="#111">Cdkn2a</text>
<text x="384.5" y="652.0" font-size="8.7" font-style="italic" fill="#111" stroke="#111">Ahrr</text>
<text x="463.6" y="652.1" font-size="8.7" font-style="italic" fill="#111" stroke="#111">Il10</text>
<text x="283.75" y="636.9" font-size="8.7" font-style="italic" fill="#111" stroke="#111">Bmi1</text>
<text x="316.25" y="645.6" font-size="8.7" font-style="italic" fill="#111" stroke="#111">Il4</text>
<text x="306.25" y="656.9" font-size="8.7" font-style="italic" fill="#111" stroke="#111">Prdm1</text>
<text x="281.25" y="678.1" font-size="8.7" font-style="italic" fill="#111" stroke="#111">Aifm2</text>
<text x="383" y="679.8" font-size="8.7" font-style="italic" fill="#111" stroke="#111">Maf</text>
<text x="349.5" y="686.9" font-size="8.7" font-style="italic" fill="#111" stroke="#111">Tnfrsf8</text>
<text x="308" y="691.9" font-size="8.7" font-style="italic" fill="#111" stroke="#111">Ptpn13</text>
<text x="340.5" y="700.6" font-size="8.7" font-style="italic" fill="#111" stroke="#111">Rora</text>
<text x="313.75" y="706.1" font-size="8.7" font-style="italic" fill="#111" stroke="#111">Mikl</text>
<text x="384" y="704.1" font-size="8.7" font-style="italic" fill="#111" stroke="#111">Lrrk1</text>
<text x="402.8" y="690.6" font-size="8.7" font-style="italic" fill="#111" stroke="#111">Pparg</text>
<text x="432" y="699.4" font-size="8.7" font-style="italic" fill="#111" stroke="#111">Emilin2</text>
<text x="418" y="721.8" font-size="8.7" font-style="italic" fill="#111" stroke="#111">Ifng</text>
<text x="293.75" y="717.4" font-size="8.7" font-style="italic" fill="#111" stroke="#111">Setbp1</text>
<text x="358.75" y="720.6" font-size="8.7" font-style="italic" fill="#111" stroke="#111">Fasl</text>
<text x="290.5" y="744.4" font-size="8.7" font-style="italic" fill="#111" stroke="#111">Tnfsf10</text>
<text x="290" y="753.1" font-size="8.7" font-style="italic" fill="#111" stroke="#111">Il12rb2</text>
<text x="288.75" y="776.1" font-size="8.7" font-style="italic" fill="#111" stroke="#111">Tnfsf14</text>
<text x="235.6" y="747.1" font-size="8.7" font-style="italic" fill="#111" stroke="#111">Gata3</text>
<text x="232" y="791.3" font-size="8.7" font-style="italic" fill="#111" stroke="#111">Tbx21</text>
<rect x="306.3" y="875" width="211.49999999999994" height="47.700000000000045" fill="#fff" stroke="#484848" stroke-width="1.25"/>
<circle cx="312.7" cy="884.8" r="2.1" fill="#e01818"/>
<text x="316" y="887.0" font-size="6.35" fill="#111" stroke="#111">H3K27me3: <tspan font-style="italic">Ezh2<tspan baseline-shift="2.47" font-size="3.58">fl/fl</tspan>&gt;Ezh2<tspan baseline-shift="2.47" font-size="3.58">fl/fl</tspan>.CD4Cre</tspan> &amp; Exprs: <tspan font-style="italic">Ezh2<tspan baseline-shift="2.47" font-size="3.58">fl/fl</tspan>.CD4Cre &gt;Ezh2<tspan baseline-shift="2.47" font-size="3.58">fl/fl</tspan></tspan></text>
<circle cx="312.7" cy="894.6" r="2.1" fill="#9a40e0"/>
<text x="316" y="896.8" font-size="6.5" fill="#111" stroke="#111">Significant change in exprs.</text>
<circle cx="312.7" cy="903.6" r="2.1" fill="#2a7a2a"/>
<text x="316" y="905.8" font-size="6.5" fill="#111" stroke="#111">H3K27me3: <tspan font-style="italic">Ezh2<tspan baseline-shift="2.47" font-size="3.58">fl/fl</tspan>&gt;Ezh2<tspan baseline-shift="2.47" font-size="3.58">fl/fl</tspan>.CD4Cre</tspan></text>
<circle cx="312.7" cy="913.2" r="2.1" fill="#bbbbbb"/>
<text x="316" y="915.4" font-size="6.5" fill="#111" stroke="#111">No significant change</text>
</svg></body></html>
